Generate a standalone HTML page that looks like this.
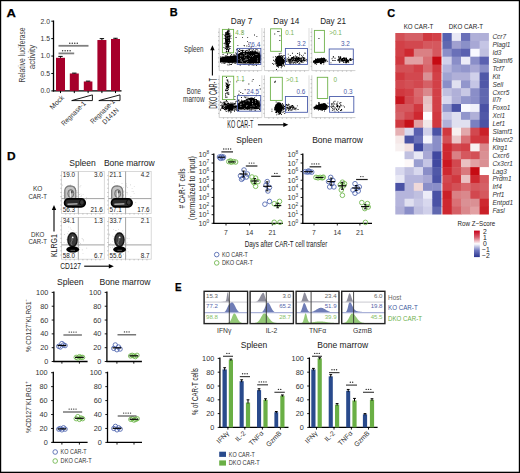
<!DOCTYPE html>
<html><head><meta charset="utf-8"><style>
html,body{margin:0;padding:0;background:#fff;}
svg{display:block;font-family:"Liberation Sans", sans-serif;}
</style></head><body>
<svg width="520" height="473" viewBox="0 0 520 473">
<rect x="0" y="0" width="520" height="473" fill="#fff"/>
<text x="6.60" y="16.50" font-size="11.6" text-anchor="start" fill="#000" font-weight="bold" textLength="9.4" lengthAdjust="spacingAndGlyphs" stroke="#000" stroke-width="0.25">A</text>
<text x="169.80" y="16.30" font-size="11.6" text-anchor="start" fill="#000" font-weight="bold" textLength="7.9" lengthAdjust="spacingAndGlyphs" stroke="#000" stroke-width="0.25">B</text>
<text x="387.20" y="16.70" font-size="11.6" text-anchor="start" fill="#000" font-weight="bold" textLength="7.9" lengthAdjust="spacingAndGlyphs" stroke="#000" stroke-width="0.25">C</text>
<text x="6.90" y="159.80" font-size="11.6" text-anchor="start" fill="#000" font-weight="bold" textLength="8.6" lengthAdjust="spacingAndGlyphs" stroke="#000" stroke-width="0.25">D</text>
<text x="175.00" y="291.00" font-size="11.6" text-anchor="start" fill="#000" font-weight="bold" textLength="6.6" lengthAdjust="spacingAndGlyphs" stroke="#000" stroke-width="0.25">E</text>
<line x1="53.50" y1="20.50" x2="53.50" y2="91.50" stroke="#000" stroke-width="1.3" />
<line x1="52.90" y1="90.90" x2="121.50" y2="90.90" stroke="#000" stroke-width="1.3" />
<line x1="51.30" y1="21.20" x2="53.50" y2="21.20" stroke="#000" stroke-width="1" />
<text x="50.00" y="23.60" font-size="6.8" text-anchor="end" fill="#333" >2.0</text>
<line x1="51.30" y1="38.62" x2="53.50" y2="38.62" stroke="#000" stroke-width="1" />
<text x="50.00" y="41.02" font-size="6.8" text-anchor="end" fill="#333" >1.5</text>
<line x1="51.30" y1="56.05" x2="53.50" y2="56.05" stroke="#000" stroke-width="1" />
<text x="50.00" y="58.45" font-size="6.8" text-anchor="end" fill="#333" >1.0</text>
<line x1="51.30" y1="73.48" x2="53.50" y2="73.48" stroke="#000" stroke-width="1" />
<text x="50.00" y="75.88" font-size="6.8" text-anchor="end" fill="#333" >0.5</text>
<line x1="51.30" y1="90.90" x2="53.50" y2="90.90" stroke="#000" stroke-width="1" />
<text x="50.00" y="93.30" font-size="6.8" text-anchor="end" fill="#333" >0.0</text>
<rect x="56.00" y="57.79" width="9.00" height="33.11" fill="#a6002b" stroke="none" stroke-width="1" />
<line x1="58.30" y1="56.40" x2="62.70" y2="56.40" stroke="#000" stroke-width="1" />
<line x1="60.50" y1="56.40" x2="60.50" y2="57.79" stroke="#000" stroke-width="1" />
<line x1="60.50" y1="90.90" x2="60.50" y2="93.10" stroke="#000" stroke-width="1" />
<rect x="69.80" y="73.48" width="9.00" height="17.42" fill="#a6002b" stroke="none" stroke-width="1" />
<line x1="72.10" y1="73.13" x2="76.50" y2="73.13" stroke="#000" stroke-width="1" />
<line x1="74.30" y1="73.13" x2="74.30" y2="73.48" stroke="#000" stroke-width="1" />
<line x1="74.30" y1="90.90" x2="74.30" y2="93.10" stroke="#000" stroke-width="1" />
<rect x="83.80" y="81.49" width="8.60" height="9.41" fill="#a6002b" stroke="none" stroke-width="1" />
<line x1="85.90" y1="81.14" x2="90.30" y2="81.14" stroke="#000" stroke-width="1" />
<line x1="88.10" y1="81.14" x2="88.10" y2="81.49" stroke="#000" stroke-width="1" />
<line x1="88.10" y1="90.90" x2="88.10" y2="93.10" stroke="#000" stroke-width="1" />
<rect x="97.40" y="40.02" width="9.00" height="50.88" fill="#a6002b" stroke="none" stroke-width="1" />
<line x1="99.70" y1="38.63" x2="104.10" y2="38.63" stroke="#000" stroke-width="1" />
<line x1="101.90" y1="38.63" x2="101.90" y2="40.02" stroke="#000" stroke-width="1" />
<line x1="101.90" y1="90.90" x2="101.90" y2="93.10" stroke="#000" stroke-width="1" />
<rect x="111.00" y="38.97" width="9.00" height="51.93" fill="#a6002b" stroke="none" stroke-width="1" />
<line x1="113.30" y1="38.28" x2="117.70" y2="38.28" stroke="#000" stroke-width="1" />
<line x1="115.50" y1="38.28" x2="115.50" y2="38.97" stroke="#000" stroke-width="1" />
<line x1="115.50" y1="90.90" x2="115.50" y2="93.10" stroke="#000" stroke-width="1" />
<text x="24.60" y="55.00" font-size="8.8" text-anchor="middle" fill="#444" textLength="55" lengthAdjust="spacingAndGlyphs" transform="rotate(-90 24.60 55.00)" >Relative luciferase</text>
<text x="34.90" y="57.00" font-size="8.8" text-anchor="middle" fill="#444" textLength="24.6" lengthAdjust="spacingAndGlyphs" transform="rotate(-90 34.90 57.00)" >activity</text>
<polygon points="71.7,100.6 92.4,94.9 92.4,100.6" fill="#fff" stroke="#000" stroke-width="0.9"/>
<polygon points="98.8,100.6 120,94.9 120,100.6" fill="#fff" stroke="#000" stroke-width="0.9"/>
<text x="64.50" y="98.00" font-size="7" text-anchor="end" fill="#333" textLength="17.0" lengthAdjust="spacingAndGlyphs" transform="rotate(-45 64.50 98.00)" >Mock</text>
<text x="86.30" y="104.00" font-size="7" text-anchor="end" fill="#333" textLength="31.5" lengthAdjust="spacingAndGlyphs" transform="rotate(-45 86.30 104.00)" >Regnase-1</text>
<text x="115.30" y="102.00" font-size="7" text-anchor="end" fill="#333" textLength="31.5" lengthAdjust="spacingAndGlyphs" transform="rotate(-45 115.30 102.00)" >Regnase-1</text>
<text x="119.20" y="110.60" font-size="7" text-anchor="end" fill="#333" textLength="20" lengthAdjust="spacingAndGlyphs" transform="rotate(-45 119.20 110.60)" >D141N</text>
<text x="241.50" y="24.00" font-size="9.6" text-anchor="middle" fill="#222" textLength="21.5" lengthAdjust="spacingAndGlyphs" >Day 7</text>
<text x="286.30" y="24.00" font-size="9.6" text-anchor="middle" fill="#222" textLength="26" lengthAdjust="spacingAndGlyphs" >Day 14</text>
<text x="333.10" y="24.00" font-size="9.6" text-anchor="middle" fill="#222" textLength="25.8" lengthAdjust="spacingAndGlyphs" >Day 21</text>
<text x="193.80" y="52.30" font-size="8.6" text-anchor="middle" fill="#333" textLength="19.5" lengthAdjust="spacingAndGlyphs" >Spleen</text>
<text x="193.80" y="94.00" font-size="8.6" text-anchor="middle" fill="#333" textLength="14" lengthAdjust="spacingAndGlyphs" >Bone</text>
<text x="193.80" y="101.60" font-size="8.6" text-anchor="middle" fill="#333" textLength="21.5" lengthAdjust="spacingAndGlyphs" >marrow</text>
<line x1="212.40" y1="48.50" x2="212.40" y2="75.50" stroke="#000" stroke-width="1.1" />
<polygon points="212.4,45.2 210.2,50.2 214.6,50.2" fill="#000"/>
<text x="216.60" y="93.40" font-size="10.8" text-anchor="middle" fill="#222" textLength="30.5" lengthAdjust="spacingAndGlyphs" transform="rotate(-90 216.60 93.40)" >DKO CAR-T</text>
<text x="240.30" y="128.00" font-size="10.2" text-anchor="middle" fill="#222" textLength="26" lengthAdjust="spacingAndGlyphs" >KO CAR-T</text>
<line x1="257.90" y1="124.80" x2="285.00" y2="124.80" stroke="#000" stroke-width="1.1" />
<polygon points="288.3,124.8 283.3,122.6 283.3,127.0" fill="#000"/>
<line x1="219.20" y1="28.00" x2="219.20" y2="70.60" stroke="#c4c4c4" stroke-width="0.8" />
<line x1="219.20" y1="70.60" x2="261.90" y2="70.60" stroke="#c4c4c4" stroke-width="0.8" />
<line x1="261.90" y1="28.00" x2="261.90" y2="70.60" stroke="#d4d4d4" stroke-width="0.8" />
<line x1="218.00" y1="32.26" x2="219.20" y2="32.26" stroke="#888" stroke-width="0.5" />
<line x1="218.00" y1="36.52" x2="219.20" y2="36.52" stroke="#888" stroke-width="0.5" />
<line x1="218.00" y1="40.78" x2="219.20" y2="40.78" stroke="#888" stroke-width="0.5" />
<line x1="218.00" y1="45.04" x2="219.20" y2="45.04" stroke="#888" stroke-width="0.5" />
<line x1="218.00" y1="49.30" x2="219.20" y2="49.30" stroke="#888" stroke-width="0.5" />
<line x1="218.00" y1="53.56" x2="219.20" y2="53.56" stroke="#888" stroke-width="0.5" />
<line x1="218.00" y1="57.82" x2="219.20" y2="57.82" stroke="#888" stroke-width="0.5" />
<line x1="218.00" y1="62.08" x2="219.20" y2="62.08" stroke="#888" stroke-width="0.5" />
<line x1="218.00" y1="66.34" x2="219.20" y2="66.34" stroke="#888" stroke-width="0.5" />
<line x1="223.47" y1="70.60" x2="223.47" y2="71.80" stroke="#888" stroke-width="0.5" />
<line x1="227.74" y1="70.60" x2="227.74" y2="71.80" stroke="#888" stroke-width="0.5" />
<line x1="232.01" y1="70.60" x2="232.01" y2="71.80" stroke="#888" stroke-width="0.5" />
<line x1="236.28" y1="70.60" x2="236.28" y2="71.80" stroke="#888" stroke-width="0.5" />
<line x1="240.55" y1="70.60" x2="240.55" y2="71.80" stroke="#888" stroke-width="0.5" />
<line x1="244.82" y1="70.60" x2="244.82" y2="71.80" stroke="#888" stroke-width="0.5" />
<line x1="249.09" y1="70.60" x2="249.09" y2="71.80" stroke="#888" stroke-width="0.5" />
<line x1="253.36" y1="70.60" x2="253.36" y2="71.80" stroke="#888" stroke-width="0.5" />
<line x1="257.63" y1="70.60" x2="257.63" y2="71.80" stroke="#888" stroke-width="0.5" />
<line x1="219.20" y1="75.30" x2="219.20" y2="117.60" stroke="#c4c4c4" stroke-width="0.8" />
<line x1="219.20" y1="117.60" x2="261.90" y2="117.60" stroke="#c4c4c4" stroke-width="0.8" />
<line x1="261.90" y1="75.30" x2="261.90" y2="117.60" stroke="#d4d4d4" stroke-width="0.8" />
<line x1="218.00" y1="79.53" x2="219.20" y2="79.53" stroke="#888" stroke-width="0.5" />
<line x1="218.00" y1="83.76" x2="219.20" y2="83.76" stroke="#888" stroke-width="0.5" />
<line x1="218.00" y1="87.99" x2="219.20" y2="87.99" stroke="#888" stroke-width="0.5" />
<line x1="218.00" y1="92.22" x2="219.20" y2="92.22" stroke="#888" stroke-width="0.5" />
<line x1="218.00" y1="96.45" x2="219.20" y2="96.45" stroke="#888" stroke-width="0.5" />
<line x1="218.00" y1="100.68" x2="219.20" y2="100.68" stroke="#888" stroke-width="0.5" />
<line x1="218.00" y1="104.91" x2="219.20" y2="104.91" stroke="#888" stroke-width="0.5" />
<line x1="218.00" y1="109.14" x2="219.20" y2="109.14" stroke="#888" stroke-width="0.5" />
<line x1="218.00" y1="113.37" x2="219.20" y2="113.37" stroke="#888" stroke-width="0.5" />
<line x1="223.47" y1="117.60" x2="223.47" y2="118.80" stroke="#888" stroke-width="0.5" />
<line x1="227.74" y1="117.60" x2="227.74" y2="118.80" stroke="#888" stroke-width="0.5" />
<line x1="232.01" y1="117.60" x2="232.01" y2="118.80" stroke="#888" stroke-width="0.5" />
<line x1="236.28" y1="117.60" x2="236.28" y2="118.80" stroke="#888" stroke-width="0.5" />
<line x1="240.55" y1="117.60" x2="240.55" y2="118.80" stroke="#888" stroke-width="0.5" />
<line x1="244.82" y1="117.60" x2="244.82" y2="118.80" stroke="#888" stroke-width="0.5" />
<line x1="249.09" y1="117.60" x2="249.09" y2="118.80" stroke="#888" stroke-width="0.5" />
<line x1="253.36" y1="117.60" x2="253.36" y2="118.80" stroke="#888" stroke-width="0.5" />
<line x1="257.63" y1="117.60" x2="257.63" y2="118.80" stroke="#888" stroke-width="0.5" />
<line x1="264.40" y1="28.00" x2="264.40" y2="70.60" stroke="#c4c4c4" stroke-width="0.8" />
<line x1="264.40" y1="70.60" x2="309.00" y2="70.60" stroke="#c4c4c4" stroke-width="0.8" />
<line x1="309.00" y1="28.00" x2="309.00" y2="70.60" stroke="#d4d4d4" stroke-width="0.8" />
<line x1="263.20" y1="32.26" x2="264.40" y2="32.26" stroke="#888" stroke-width="0.5" />
<line x1="263.20" y1="36.52" x2="264.40" y2="36.52" stroke="#888" stroke-width="0.5" />
<line x1="263.20" y1="40.78" x2="264.40" y2="40.78" stroke="#888" stroke-width="0.5" />
<line x1="263.20" y1="45.04" x2="264.40" y2="45.04" stroke="#888" stroke-width="0.5" />
<line x1="263.20" y1="49.30" x2="264.40" y2="49.30" stroke="#888" stroke-width="0.5" />
<line x1="263.20" y1="53.56" x2="264.40" y2="53.56" stroke="#888" stroke-width="0.5" />
<line x1="263.20" y1="57.82" x2="264.40" y2="57.82" stroke="#888" stroke-width="0.5" />
<line x1="263.20" y1="62.08" x2="264.40" y2="62.08" stroke="#888" stroke-width="0.5" />
<line x1="263.20" y1="66.34" x2="264.40" y2="66.34" stroke="#888" stroke-width="0.5" />
<line x1="268.86" y1="70.60" x2="268.86" y2="71.80" stroke="#888" stroke-width="0.5" />
<line x1="273.32" y1="70.60" x2="273.32" y2="71.80" stroke="#888" stroke-width="0.5" />
<line x1="277.78" y1="70.60" x2="277.78" y2="71.80" stroke="#888" stroke-width="0.5" />
<line x1="282.24" y1="70.60" x2="282.24" y2="71.80" stroke="#888" stroke-width="0.5" />
<line x1="286.70" y1="70.60" x2="286.70" y2="71.80" stroke="#888" stroke-width="0.5" />
<line x1="291.16" y1="70.60" x2="291.16" y2="71.80" stroke="#888" stroke-width="0.5" />
<line x1="295.62" y1="70.60" x2="295.62" y2="71.80" stroke="#888" stroke-width="0.5" />
<line x1="300.08" y1="70.60" x2="300.08" y2="71.80" stroke="#888" stroke-width="0.5" />
<line x1="304.54" y1="70.60" x2="304.54" y2="71.80" stroke="#888" stroke-width="0.5" />
<line x1="264.40" y1="75.30" x2="264.40" y2="117.60" stroke="#c4c4c4" stroke-width="0.8" />
<line x1="264.40" y1="117.60" x2="309.00" y2="117.60" stroke="#c4c4c4" stroke-width="0.8" />
<line x1="309.00" y1="75.30" x2="309.00" y2="117.60" stroke="#d4d4d4" stroke-width="0.8" />
<line x1="263.20" y1="79.53" x2="264.40" y2="79.53" stroke="#888" stroke-width="0.5" />
<line x1="263.20" y1="83.76" x2="264.40" y2="83.76" stroke="#888" stroke-width="0.5" />
<line x1="263.20" y1="87.99" x2="264.40" y2="87.99" stroke="#888" stroke-width="0.5" />
<line x1="263.20" y1="92.22" x2="264.40" y2="92.22" stroke="#888" stroke-width="0.5" />
<line x1="263.20" y1="96.45" x2="264.40" y2="96.45" stroke="#888" stroke-width="0.5" />
<line x1="263.20" y1="100.68" x2="264.40" y2="100.68" stroke="#888" stroke-width="0.5" />
<line x1="263.20" y1="104.91" x2="264.40" y2="104.91" stroke="#888" stroke-width="0.5" />
<line x1="263.20" y1="109.14" x2="264.40" y2="109.14" stroke="#888" stroke-width="0.5" />
<line x1="263.20" y1="113.37" x2="264.40" y2="113.37" stroke="#888" stroke-width="0.5" />
<line x1="268.86" y1="117.60" x2="268.86" y2="118.80" stroke="#888" stroke-width="0.5" />
<line x1="273.32" y1="117.60" x2="273.32" y2="118.80" stroke="#888" stroke-width="0.5" />
<line x1="277.78" y1="117.60" x2="277.78" y2="118.80" stroke="#888" stroke-width="0.5" />
<line x1="282.24" y1="117.60" x2="282.24" y2="118.80" stroke="#888" stroke-width="0.5" />
<line x1="286.70" y1="117.60" x2="286.70" y2="118.80" stroke="#888" stroke-width="0.5" />
<line x1="291.16" y1="117.60" x2="291.16" y2="118.80" stroke="#888" stroke-width="0.5" />
<line x1="295.62" y1="117.60" x2="295.62" y2="118.80" stroke="#888" stroke-width="0.5" />
<line x1="300.08" y1="117.60" x2="300.08" y2="118.80" stroke="#888" stroke-width="0.5" />
<line x1="304.54" y1="117.60" x2="304.54" y2="118.80" stroke="#888" stroke-width="0.5" />
<line x1="311.80" y1="28.00" x2="311.80" y2="70.60" stroke="#c4c4c4" stroke-width="0.8" />
<line x1="311.80" y1="70.60" x2="355.40" y2="70.60" stroke="#c4c4c4" stroke-width="0.8" />
<line x1="310.60" y1="32.26" x2="311.80" y2="32.26" stroke="#888" stroke-width="0.5" />
<line x1="310.60" y1="36.52" x2="311.80" y2="36.52" stroke="#888" stroke-width="0.5" />
<line x1="310.60" y1="40.78" x2="311.80" y2="40.78" stroke="#888" stroke-width="0.5" />
<line x1="310.60" y1="45.04" x2="311.80" y2="45.04" stroke="#888" stroke-width="0.5" />
<line x1="310.60" y1="49.30" x2="311.80" y2="49.30" stroke="#888" stroke-width="0.5" />
<line x1="310.60" y1="53.56" x2="311.80" y2="53.56" stroke="#888" stroke-width="0.5" />
<line x1="310.60" y1="57.82" x2="311.80" y2="57.82" stroke="#888" stroke-width="0.5" />
<line x1="310.60" y1="62.08" x2="311.80" y2="62.08" stroke="#888" stroke-width="0.5" />
<line x1="310.60" y1="66.34" x2="311.80" y2="66.34" stroke="#888" stroke-width="0.5" />
<line x1="316.16" y1="70.60" x2="316.16" y2="71.80" stroke="#888" stroke-width="0.5" />
<line x1="320.52" y1="70.60" x2="320.52" y2="71.80" stroke="#888" stroke-width="0.5" />
<line x1="324.88" y1="70.60" x2="324.88" y2="71.80" stroke="#888" stroke-width="0.5" />
<line x1="329.24" y1="70.60" x2="329.24" y2="71.80" stroke="#888" stroke-width="0.5" />
<line x1="333.60" y1="70.60" x2="333.60" y2="71.80" stroke="#888" stroke-width="0.5" />
<line x1="337.96" y1="70.60" x2="337.96" y2="71.80" stroke="#888" stroke-width="0.5" />
<line x1="342.32" y1="70.60" x2="342.32" y2="71.80" stroke="#888" stroke-width="0.5" />
<line x1="346.68" y1="70.60" x2="346.68" y2="71.80" stroke="#888" stroke-width="0.5" />
<line x1="351.04" y1="70.60" x2="351.04" y2="71.80" stroke="#888" stroke-width="0.5" />
<line x1="311.80" y1="75.30" x2="311.80" y2="117.60" stroke="#c4c4c4" stroke-width="0.8" />
<line x1="311.80" y1="117.60" x2="355.40" y2="117.60" stroke="#c4c4c4" stroke-width="0.8" />
<line x1="310.60" y1="79.53" x2="311.80" y2="79.53" stroke="#888" stroke-width="0.5" />
<line x1="310.60" y1="83.76" x2="311.80" y2="83.76" stroke="#888" stroke-width="0.5" />
<line x1="310.60" y1="87.99" x2="311.80" y2="87.99" stroke="#888" stroke-width="0.5" />
<line x1="310.60" y1="92.22" x2="311.80" y2="92.22" stroke="#888" stroke-width="0.5" />
<line x1="310.60" y1="96.45" x2="311.80" y2="96.45" stroke="#888" stroke-width="0.5" />
<line x1="310.60" y1="100.68" x2="311.80" y2="100.68" stroke="#888" stroke-width="0.5" />
<line x1="310.60" y1="104.91" x2="311.80" y2="104.91" stroke="#888" stroke-width="0.5" />
<line x1="310.60" y1="109.14" x2="311.80" y2="109.14" stroke="#888" stroke-width="0.5" />
<line x1="310.60" y1="113.37" x2="311.80" y2="113.37" stroke="#888" stroke-width="0.5" />
<line x1="316.16" y1="117.60" x2="316.16" y2="118.80" stroke="#888" stroke-width="0.5" />
<line x1="320.52" y1="117.60" x2="320.52" y2="118.80" stroke="#888" stroke-width="0.5" />
<line x1="324.88" y1="117.60" x2="324.88" y2="118.80" stroke="#888" stroke-width="0.5" />
<line x1="329.24" y1="117.60" x2="329.24" y2="118.80" stroke="#888" stroke-width="0.5" />
<line x1="333.60" y1="117.60" x2="333.60" y2="118.80" stroke="#888" stroke-width="0.5" />
<line x1="337.96" y1="117.60" x2="337.96" y2="118.80" stroke="#888" stroke-width="0.5" />
<line x1="342.32" y1="117.60" x2="342.32" y2="118.80" stroke="#888" stroke-width="0.5" />
<line x1="346.68" y1="117.60" x2="346.68" y2="118.80" stroke="#888" stroke-width="0.5" />
<line x1="351.04" y1="117.60" x2="351.04" y2="118.80" stroke="#888" stroke-width="0.5" />
<path d="M237.5 54 Q242 51.5 247 52 Q253 50.5 257 52 Q260.3 53 260.3 56 L260.3 63 Q250 64 237.5 63.3 Z" fill="#000"/>
<path d="M220 57.5 Q229 55.8 237.5 55.5 L237.5 62.5 Q228 63 220 62 Z" fill="#000"/>
<path d="M227.3 30.5 Q229.6 33 229.7 38 Q229.6 43 228.6 47 L226.2 47 Q225.0 43 224.9 38 Q225.0 33 227.3 30.5 Z" fill="#000"/>
<path d="M226.7 60.3h0.9v0.9h-0.9zM226.9 58.7h0.9v0.9h-0.9zM223.3 58.9h0.9v0.9h-0.9zM233.6 60.1h0.9v0.9h-0.9zM233.2 59.8h0.9v0.9h-0.9zM230.0 59.7h0.9v0.9h-0.9zM230.5 60.3h0.9v0.9h-0.9zM223.6 58.4h0.9v0.9h-0.9zM229.5 59.2h0.9v0.9h-0.9zM230.6 58.0h0.9v0.9h-0.9zM229.5 60.1h0.9v0.9h-0.9zM224.7 62.7h0.9v0.9h-0.9zM230.8 61.7h0.9v0.9h-0.9zM224.9 57.8h0.9v0.9h-0.9zM226.3 59.1h0.9v0.9h-0.9zM231.2 59.8h0.9v0.9h-0.9zM225.8 57.4h0.9v0.9h-0.9zM225.4 61.7h0.9v0.9h-0.9zM224.0 59.8h0.9v0.9h-0.9zM230.1 56.3h0.9v0.9h-0.9zM228.2 61.9h0.9v0.9h-0.9zM227.5 57.7h0.9v0.9h-0.9zM230.5 59.2h0.9v0.9h-0.9zM220.7 61.0h0.9v0.9h-0.9zM231.3 61.2h0.9v0.9h-0.9zM235.2 60.0h0.9v0.9h-0.9zM228.6 56.7h0.9v0.9h-0.9zM231.1 58.1h0.9v0.9h-0.9zM225.7 56.8h0.9v0.9h-0.9zM223.2 58.2h0.9v0.9h-0.9zM234.4 55.2h0.9v0.9h-0.9zM220.7 59.8h0.9v0.9h-0.9zM235.2 60.5h0.9v0.9h-0.9zM229.8 57.8h0.9v0.9h-0.9zM222.4 61.3h0.9v0.9h-0.9zM233.5 59.6h0.9v0.9h-0.9zM229.2 60.2h0.9v0.9h-0.9zM236.0 60.5h0.9v0.9h-0.9zM230.6 60.4h0.9v0.9h-0.9zM220.2 61.9h0.9v0.9h-0.9zM232.8 60.4h0.9v0.9h-0.9zM232.2 55.7h0.9v0.9h-0.9zM227.1 61.3h0.9v0.9h-0.9zM221.4 62.5h0.9v0.9h-0.9zM230.8 59.0h0.9v0.9h-0.9zM229.6 60.6h0.9v0.9h-0.9zM228.6 61.6h0.9v0.9h-0.9zM224.7 58.5h0.9v0.9h-0.9zM233.2 59.4h0.9v0.9h-0.9zM223.6 61.2h0.9v0.9h-0.9zM235.3 58.4h0.9v0.9h-0.9zM221.1 59.0h0.9v0.9h-0.9zM227.3 58.7h0.9v0.9h-0.9zM235.0 57.2h0.9v0.9h-0.9zM234.3 56.8h0.9v0.9h-0.9zM224.1 60.6h0.9v0.9h-0.9zM233.6 61.0h0.9v0.9h-0.9zM229.7 59.6h0.9v0.9h-0.9zM228.8 60.5h0.9v0.9h-0.9zM227.1 59.9h0.9v0.9h-0.9zM230.9 59.3h0.9v0.9h-0.9zM231.8 60.4h0.9v0.9h-0.9zM238.1 59.9h0.9v0.9h-0.9zM225.9 58.6h0.9v0.9h-0.9zM227.9 61.1h0.9v0.9h-0.9zM226.3 60.1h0.9v0.9h-0.9zM237.2 54.2h0.9v0.9h-0.9zM222.4 59.8h0.9v0.9h-0.9zM230.0 59.8h0.9v0.9h-0.9zM225.8 60.6h0.9v0.9h-0.9zM229.4 58.3h0.9v0.9h-0.9zM240.2 60.0h0.9v0.9h-0.9zM225.2 59.1h0.9v0.9h-0.9zM226.9 59.2h0.9v0.9h-0.9zM233.0 57.0h0.9v0.9h-0.9zM227.7 61.2h0.9v0.9h-0.9zM232.3 62.3h0.9v0.9h-0.9zM226.3 60.5h0.9v0.9h-0.9zM233.5 53.9h0.9v0.9h-0.9zM233.4 56.4h0.9v0.9h-0.9zM231.4 56.3h0.9v0.9h-0.9zM228.9 61.7h0.9v0.9h-0.9zM227.3 59.7h0.9v0.9h-0.9zM232.0 59.6h0.9v0.9h-0.9zM227.6 62.4h0.9v0.9h-0.9zM233.2 58.7h0.9v0.9h-0.9zM241.7 57.0h0.9v0.9h-0.9zM232.6 58.8h0.9v0.9h-0.9zM228.7 60.7h0.9v0.9h-0.9zM229.1 60.6h0.9v0.9h-0.9zM220.4 56.3h0.9v0.9h-0.9zM231.1 57.4h0.9v0.9h-0.9zM222.9 56.4h0.9v0.9h-0.9zM234.3 60.8h0.9v0.9h-0.9zM235.4 57.4h0.9v0.9h-0.9zM228.0 57.0h0.9v0.9h-0.9zM231.8 62.5h0.9v0.9h-0.9zM223.5 62.4h0.9v0.9h-0.9zM232.9 58.9h0.9v0.9h-0.9zM227.5 58.1h0.9v0.9h-0.9zM230.0 60.1h0.9v0.9h-0.9zM235.5 57.3h0.9v0.9h-0.9zM233.7 62.3h0.9v0.9h-0.9zM235.3 58.9h0.9v0.9h-0.9zM224.3 61.3h0.9v0.9h-0.9zM228.6 59.5h0.9v0.9h-0.9zM235.1 58.8h0.9v0.9h-0.9zM229.6 58.1h0.9v0.9h-0.9zM228.0 61.0h0.9v0.9h-0.9zM228.4 62.0h0.9v0.9h-0.9zM227.7 61.4h0.9v0.9h-0.9zM235.5 62.5h0.9v0.9h-0.9zM224.6 61.1h0.9v0.9h-0.9zM221.8 59.3h0.9v0.9h-0.9zM227.0 59.2h0.9v0.9h-0.9zM225.0 59.8h0.9v0.9h-0.9zM237.0 59.4h0.9v0.9h-0.9zM230.7 61.3h0.9v0.9h-0.9zM227.0 56.8h0.9v0.9h-0.9zM225.2 61.4h0.9v0.9h-0.9zM233.0 60.9h0.9v0.9h-0.9zM228.0 60.9h0.9v0.9h-0.9zM228.8 56.9h0.9v0.9h-0.9zM220.2 58.0h0.9v0.9h-0.9zM232.6 58.2h0.9v0.9h-0.9zM223.5 57.8h0.9v0.9h-0.9zM220.3 59.1h0.9v0.9h-0.9zM222.1 60.0h0.9v0.9h-0.9zM224.8 55.4h0.9v0.9h-0.9zM231.6 58.7h0.9v0.9h-0.9zM229.5 58.4h0.9v0.9h-0.9zM231.9 60.8h0.9v0.9h-0.9zM231.3 60.0h0.9v0.9h-0.9zM234.7 60.6h0.9v0.9h-0.9zM230.3 55.1h0.9v0.9h-0.9zM232.5 61.9h0.9v0.9h-0.9zM226.5 58.4h0.9v0.9h-0.9zM237.7 55.8h0.9v0.9h-0.9zM230.3 64.1h0.9v0.9h-0.9zM223.4 60.7h0.9v0.9h-0.9zM237.4 59.1h0.9v0.9h-0.9zM230.8 61.1h0.9v0.9h-0.9zM223.5 59.1h0.9v0.9h-0.9zM229.5 61.0h0.9v0.9h-0.9zM227.8 58.9h0.9v0.9h-0.9zM222.9 58.6h0.9v0.9h-0.9zM232.5 59.5h0.9v0.9h-0.9zM223.7 57.6h0.9v0.9h-0.9zM241.3 61.6h0.9v0.9h-0.9zM231.2 54.1h0.9v0.9h-0.9zM231.1 60.3h0.9v0.9h-0.9zM236.4 60.2h0.9v0.9h-0.9zM227.7 60.3h0.9v0.9h-0.9zM229.6 57.9h0.9v0.9h-0.9zM234.6 62.9h0.9v0.9h-0.9zM221.0 58.0h0.9v0.9h-0.9zM229.5 59.7h0.9v0.9h-0.9zM226.0 57.4h0.9v0.9h-0.9zM238.6 61.4h0.9v0.9h-0.9zM222.0 56.6h0.9v0.9h-0.9zM236.5 61.3h0.9v0.9h-0.9zM237.1 60.9h0.9v0.9h-0.9zM223.6 59.8h0.9v0.9h-0.9zM227.7 60.3h0.9v0.9h-0.9zM224.4 59.1h0.9v0.9h-0.9zM230.3 60.1h0.9v0.9h-0.9zM231.2 59.7h0.9v0.9h-0.9zM226.4 60.9h0.9v0.9h-0.9zM228.2 57.6h0.9v0.9h-0.9zM224.9 59.3h0.9v0.9h-0.9zM227.5 59.6h0.9v0.9h-0.9zM228.0 59.7h0.9v0.9h-0.9zM227.3 56.8h0.9v0.9h-0.9zM230.1 61.4h0.9v0.9h-0.9zM230.2 58.9h0.9v0.9h-0.9zM230.2 57.4h0.9v0.9h-0.9zM223.3 60.8h0.9v0.9h-0.9zM222.6 54.0h0.9v0.9h-0.9zM222.8 62.5h0.9v0.9h-0.9zM226.1 56.6h0.9v0.9h-0.9zM224.2 60.3h0.9v0.9h-0.9zM230.5 59.7h0.9v0.9h-0.9zM235.4 60.7h0.9v0.9h-0.9zM227.9 60.5h0.9v0.9h-0.9zM236.3 61.2h0.9v0.9h-0.9zM233.1 57.1h0.9v0.9h-0.9zM227.3 60.8h0.9v0.9h-0.9zM226.5 61.4h0.9v0.9h-0.9zM231.0 61.1h0.9v0.9h-0.9zM226.9 64.4h0.9v0.9h-0.9zM234.2 58.9h0.9v0.9h-0.9zM228.5 64.5h0.9v0.9h-0.9zM226.3 61.0h0.9v0.9h-0.9zM232.9 59.3h0.9v0.9h-0.9zM222.2 59.7h0.9v0.9h-0.9zM229.8 61.6h0.9v0.9h-0.9zM231.9 59.3h0.9v0.9h-0.9zM232.3 60.4h0.9v0.9h-0.9zM229.0 59.4h0.9v0.9h-0.9zM226.8 60.7h0.9v0.9h-0.9zM222.7 58.0h0.9v0.9h-0.9zM228.0 56.4h0.9v0.9h-0.9zM225.8 55.3h0.9v0.9h-0.9zM224.6 60.4h0.9v0.9h-0.9zM230.8 59.2h0.9v0.9h-0.9zM226.8 56.5h0.9v0.9h-0.9zM237.1 60.3h0.9v0.9h-0.9zM233.5 57.5h0.9v0.9h-0.9zM227.1 55.7h0.9v0.9h-0.9zM231.9 61.2h0.9v0.9h-0.9zM231.2 55.8h0.9v0.9h-0.9zM224.9 56.5h0.9v0.9h-0.9zM228.2 59.8h0.9v0.9h-0.9zM231.2 60.7h0.9v0.9h-0.9zM235.5 61.6h0.9v0.9h-0.9zM221.4 58.3h0.9v0.9h-0.9zM222.7 57.1h0.9v0.9h-0.9zM227.6 59.3h0.9v0.9h-0.9zM230.5 56.1h0.9v0.9h-0.9zM221.8 59.3h0.9v0.9h-0.9zM227.0 58.7h0.9v0.9h-0.9zM227.7 57.8h0.9v0.9h-0.9zM231.5 60.0h0.9v0.9h-0.9zM227.6 58.0h0.9v0.9h-0.9zM227.1 53.9h0.9v0.9h-0.9zM223.1 59.4h0.9v0.9h-0.9zM220.5 59.7h0.9v0.9h-0.9zM228.7 56.5h0.9v0.9h-0.9zM226.7 58.7h0.9v0.9h-0.9zM230.3 60.5h0.9v0.9h-0.9zM227.8 57.6h0.9v0.9h-0.9zM227.3 59.2h0.9v0.9h-0.9zM231.7 59.9h0.9v0.9h-0.9zM224.4 56.6h0.9v0.9h-0.9zM226.1 57.8h0.9v0.9h-0.9zM222.4 59.1h0.9v0.9h-0.9zM225.5 59.5h0.9v0.9h-0.9zM230.6 58.5h0.9v0.9h-0.9zM239.6 58.7h0.9v0.9h-0.9zM233.5 59.5h0.9v0.9h-0.9zM233.6 54.5h0.9v0.9h-0.9zM224.2 59.8h0.9v0.9h-0.9zM231.0 64.0h0.9v0.9h-0.9zM229.6 61.9h0.9v0.9h-0.9zM231.8 61.2h0.9v0.9h-0.9zM230.6 59.0h0.9v0.9h-0.9zM230.5 57.1h0.9v0.9h-0.9zM233.9 57.3h0.9v0.9h-0.9zM229.2 63.5h0.9v0.9h-0.9zM226.9 59.3h0.9v0.9h-0.9zM233.8 59.4h0.9v0.9h-0.9zM224.0 59.8h0.9v0.9h-0.9zM230.9 60.7h0.9v0.9h-0.9zM224.1 62.8h0.9v0.9h-0.9zM236.3 59.3h0.9v0.9h-0.9zM229.3 58.4h0.9v0.9h-0.9zM235.1 57.9h0.9v0.9h-0.9zM231.4 58.3h0.9v0.9h-0.9zM224.5 60.7h0.9v0.9h-0.9zM234.7 59.3h0.9v0.9h-0.9zM244.3 59.1h0.9v0.9h-0.9zM248.7 57.5h0.9v0.9h-0.9zM259.7 60.1h0.9v0.9h-0.9zM245.4 63.8h0.9v0.9h-0.9zM249.0 59.0h0.9v0.9h-0.9zM244.5 56.4h0.9v0.9h-0.9zM236.8 62.2h0.9v0.9h-0.9zM258.6 52.6h0.9v0.9h-0.9zM238.5 51.3h0.9v0.9h-0.9zM257.2 55.0h0.9v0.9h-0.9zM248.6 55.5h0.9v0.9h-0.9zM248.2 53.0h0.9v0.9h-0.9zM249.2 51.9h0.9v0.9h-0.9zM248.5 57.5h0.9v0.9h-0.9zM252.3 55.8h0.9v0.9h-0.9zM242.7 57.0h0.9v0.9h-0.9zM245.6 61.5h0.9v0.9h-0.9zM254.4 56.1h0.9v0.9h-0.9zM245.7 54.3h0.9v0.9h-0.9zM242.4 55.4h0.9v0.9h-0.9zM251.1 58.1h0.9v0.9h-0.9zM253.0 63.2h0.9v0.9h-0.9zM244.1 56.5h0.9v0.9h-0.9zM245.3 57.0h0.9v0.9h-0.9zM250.1 57.8h0.9v0.9h-0.9zM247.3 57.7h0.9v0.9h-0.9zM249.4 59.0h0.9v0.9h-0.9zM235.8 53.7h0.9v0.9h-0.9zM249.0 53.2h0.9v0.9h-0.9zM241.7 58.5h0.9v0.9h-0.9zM244.5 58.5h0.9v0.9h-0.9zM254.2 57.5h0.9v0.9h-0.9zM252.6 56.2h0.9v0.9h-0.9zM239.1 56.4h0.9v0.9h-0.9zM252.2 54.8h0.9v0.9h-0.9zM248.3 58.9h0.9v0.9h-0.9zM242.9 58.5h0.9v0.9h-0.9zM250.0 56.0h0.9v0.9h-0.9zM259.8 57.5h0.9v0.9h-0.9zM255.3 54.3h0.9v0.9h-0.9zM248.9 56.5h0.9v0.9h-0.9zM236.6 61.1h0.9v0.9h-0.9zM255.3 50.9h0.9v0.9h-0.9zM254.2 56.1h0.9v0.9h-0.9zM252.1 57.7h0.9v0.9h-0.9zM238.5 55.8h0.9v0.9h-0.9zM259.4 54.7h0.9v0.9h-0.9zM241.8 52.1h0.9v0.9h-0.9zM240.5 57.6h0.9v0.9h-0.9zM250.7 63.6h0.9v0.9h-0.9zM245.4 54.3h0.9v0.9h-0.9zM252.7 58.3h0.9v0.9h-0.9zM241.9 52.8h0.9v0.9h-0.9zM251.0 57.3h0.9v0.9h-0.9zM239.9 55.9h0.9v0.9h-0.9zM245.2 58.0h0.9v0.9h-0.9zM248.2 56.2h0.9v0.9h-0.9zM246.5 59.9h0.9v0.9h-0.9zM258.7 55.3h0.9v0.9h-0.9zM254.9 54.1h0.9v0.9h-0.9zM249.5 58.9h0.9v0.9h-0.9zM259.6 55.3h0.9v0.9h-0.9zM248.5 57.1h0.9v0.9h-0.9zM238.5 56.6h0.9v0.9h-0.9zM244.3 57.7h0.9v0.9h-0.9zM241.1 50.2h0.9v0.9h-0.9zM249.3 57.3h0.9v0.9h-0.9zM245.2 59.3h0.9v0.9h-0.9zM247.1 54.6h0.9v0.9h-0.9zM252.3 51.5h0.9v0.9h-0.9zM244.3 56.4h0.9v0.9h-0.9zM254.9 56.0h0.9v0.9h-0.9zM251.2 54.4h0.9v0.9h-0.9zM251.1 61.8h0.9v0.9h-0.9zM244.2 64.1h0.9v0.9h-0.9zM244.5 56.6h0.9v0.9h-0.9zM250.2 59.8h0.9v0.9h-0.9zM240.3 49.8h0.9v0.9h-0.9zM253.2 59.0h0.9v0.9h-0.9zM253.4 64.9h0.9v0.9h-0.9zM250.4 57.3h0.9v0.9h-0.9zM255.5 57.7h0.9v0.9h-0.9zM246.4 45.5h0.9v0.9h-0.9zM254.7 55.3h0.9v0.9h-0.9zM255.5 63.4h0.9v0.9h-0.9zM249.0 55.7h0.9v0.9h-0.9zM245.5 53.8h0.9v0.9h-0.9zM244.6 58.5h0.9v0.9h-0.9zM249.3 56.7h0.9v0.9h-0.9zM247.8 59.4h0.9v0.9h-0.9zM252.5 56.0h0.9v0.9h-0.9zM253.7 56.0h0.9v0.9h-0.9zM240.9 61.2h0.9v0.9h-0.9zM252.3 53.4h0.9v0.9h-0.9zM256.6 57.6h0.9v0.9h-0.9zM238.0 61.7h0.9v0.9h-0.9zM251.3 59.4h0.9v0.9h-0.9zM250.4 56.0h0.9v0.9h-0.9zM238.2 59.6h0.9v0.9h-0.9zM249.2 55.6h0.9v0.9h-0.9zM251.5 56.7h0.9v0.9h-0.9zM253.7 55.3h0.9v0.9h-0.9zM248.7 49.7h0.9v0.9h-0.9zM246.0 58.7h0.9v0.9h-0.9zM258.4 55.3h0.9v0.9h-0.9zM248.2 61.6h0.9v0.9h-0.9zM246.7 58.8h0.9v0.9h-0.9zM257.6 54.2h0.9v0.9h-0.9zM250.5 56.3h0.9v0.9h-0.9zM249.8 60.1h0.9v0.9h-0.9zM245.0 58.1h0.9v0.9h-0.9zM241.6 58.1h0.9v0.9h-0.9zM253.0 55.6h0.9v0.9h-0.9zM252.7 51.5h0.9v0.9h-0.9zM254.3 51.6h0.9v0.9h-0.9zM244.1 54.7h0.9v0.9h-0.9zM246.2 59.2h0.9v0.9h-0.9zM249.6 55.2h0.9v0.9h-0.9zM252.8 61.6h0.9v0.9h-0.9zM249.0 57.7h0.9v0.9h-0.9zM257.7 57.4h0.9v0.9h-0.9zM240.0 64.5h0.9v0.9h-0.9zM248.7 57.8h0.9v0.9h-0.9zM255.8 58.6h0.9v0.9h-0.9zM247.1 53.1h0.9v0.9h-0.9zM249.7 59.8h0.9v0.9h-0.9zM241.4 53.2h0.9v0.9h-0.9zM248.8 50.3h0.9v0.9h-0.9zM247.2 55.1h0.9v0.9h-0.9zM252.2 54.3h0.9v0.9h-0.9zM242.8 55.2h0.9v0.9h-0.9zM248.7 54.4h0.9v0.9h-0.9zM249.1 58.9h0.9v0.9h-0.9zM257.3 62.0h0.9v0.9h-0.9zM243.5 55.2h0.9v0.9h-0.9zM231.6 62.6h0.9v0.9h-0.9zM243.9 56.4h0.9v0.9h-0.9zM252.7 52.2h0.9v0.9h-0.9zM252.2 56.4h0.9v0.9h-0.9zM236.2 57.4h0.9v0.9h-0.9zM257.4 50.5h0.9v0.9h-0.9zM254.7 57.2h0.9v0.9h-0.9zM252.3 57.9h0.9v0.9h-0.9zM258.1 55.8h0.9v0.9h-0.9zM255.1 55.2h0.9v0.9h-0.9zM254.1 53.9h0.9v0.9h-0.9zM248.2 62.0h0.9v0.9h-0.9zM252.1 56.0h0.9v0.9h-0.9zM241.0 54.0h0.9v0.9h-0.9zM250.4 59.5h0.9v0.9h-0.9zM252.0 58.2h0.9v0.9h-0.9zM248.7 60.8h0.9v0.9h-0.9zM246.3 54.7h0.9v0.9h-0.9zM255.2 56.7h0.9v0.9h-0.9zM247.1 54.7h0.9v0.9h-0.9zM247.2 58.5h0.9v0.9h-0.9zM251.5 52.6h0.9v0.9h-0.9zM252.0 57.1h0.9v0.9h-0.9zM242.0 59.0h0.9v0.9h-0.9zM247.0 55.4h0.9v0.9h-0.9zM254.6 60.7h0.9v0.9h-0.9zM244.2 57.9h0.9v0.9h-0.9zM242.9 63.9h0.9v0.9h-0.9zM245.5 60.3h0.9v0.9h-0.9zM244.5 59.1h0.9v0.9h-0.9zM246.0 58.1h0.9v0.9h-0.9zM248.3 54.4h0.9v0.9h-0.9zM237.5 59.2h0.9v0.9h-0.9zM236.9 60.2h0.9v0.9h-0.9zM245.0 57.0h0.9v0.9h-0.9zM257.8 56.9h0.9v0.9h-0.9zM239.3 51.1h0.9v0.9h-0.9zM257.3 58.9h0.9v0.9h-0.9zM243.3 59.3h0.9v0.9h-0.9zM252.5 58.6h0.9v0.9h-0.9zM233.2 55.5h0.9v0.9h-0.9zM255.3 58.8h0.9v0.9h-0.9zM255.2 48.6h0.9v0.9h-0.9zM250.2 58.1h0.9v0.9h-0.9zM246.7 56.6h0.9v0.9h-0.9zM255.2 55.1h0.9v0.9h-0.9zM257.0 54.0h0.9v0.9h-0.9zM250.9 54.8h0.9v0.9h-0.9zM250.1 54.3h0.9v0.9h-0.9zM237.8 60.0h0.9v0.9h-0.9zM251.1 54.7h0.9v0.9h-0.9zM250.4 59.7h0.9v0.9h-0.9zM242.2 56.1h0.9v0.9h-0.9zM252.8 58.2h0.9v0.9h-0.9zM246.7 49.8h0.9v0.9h-0.9zM257.7 57.6h0.9v0.9h-0.9zM249.1 55.6h0.9v0.9h-0.9zM250.8 55.1h0.9v0.9h-0.9zM241.8 54.1h0.9v0.9h-0.9zM244.8 54.5h0.9v0.9h-0.9zM240.9 58.5h0.9v0.9h-0.9zM239.8 58.6h0.9v0.9h-0.9zM241.9 57.6h0.9v0.9h-0.9zM258.6 57.2h0.9v0.9h-0.9zM243.9 56.7h0.9v0.9h-0.9zM250.0 51.0h0.9v0.9h-0.9zM244.7 57.0h0.9v0.9h-0.9zM245.7 56.8h0.9v0.9h-0.9zM254.1 59.0h0.9v0.9h-0.9zM255.3 58.4h0.9v0.9h-0.9zM247.0 56.4h0.9v0.9h-0.9zM247.1 55.5h0.9v0.9h-0.9zM247.7 51.0h0.9v0.9h-0.9zM246.7 56.4h0.9v0.9h-0.9zM242.2 56.4h0.9v0.9h-0.9zM252.6 56.0h0.9v0.9h-0.9zM247.6 50.7h0.9v0.9h-0.9zM255.9 65.0h0.9v0.9h-0.9zM231.5 56.9h0.9v0.9h-0.9zM252.6 55.5h0.9v0.9h-0.9zM252.9 49.3h0.9v0.9h-0.9zM255.0 57.7h0.9v0.9h-0.9zM249.2 54.6h0.9v0.9h-0.9zM253.5 54.9h0.9v0.9h-0.9zM250.6 54.9h0.9v0.9h-0.9zM233.3 56.4h0.9v0.9h-0.9zM250.4 58.9h0.9v0.9h-0.9zM242.9 56.4h0.9v0.9h-0.9zM253.3 57.0h0.9v0.9h-0.9zM257.7 62.9h0.9v0.9h-0.9zM242.6 50.4h0.9v0.9h-0.9zM255.0 61.4h0.9v0.9h-0.9zM255.5 59.1h0.9v0.9h-0.9zM244.7 54.2h0.9v0.9h-0.9zM255.2 53.6h0.9v0.9h-0.9zM236.3 53.3h0.9v0.9h-0.9zM244.2 54.2h0.9v0.9h-0.9zM250.6 54.1h0.9v0.9h-0.9zM258.2 56.2h0.9v0.9h-0.9zM241.4 60.7h0.9v0.9h-0.9zM244.9 57.2h0.9v0.9h-0.9zM248.9 55.5h0.9v0.9h-0.9zM251.3 54.3h0.9v0.9h-0.9zM236.1 49.4h0.9v0.9h-0.9zM240.1 54.1h0.9v0.9h-0.9zM248.8 56.7h0.9v0.9h-0.9zM252.9 56.9h0.9v0.9h-0.9zM243.4 54.2h0.9v0.9h-0.9zM234.2 56.0h0.9v0.9h-0.9zM252.4 58.2h0.9v0.9h-0.9zM248.2 55.9h0.9v0.9h-0.9zM255.6 56.5h0.9v0.9h-0.9zM254.2 58.4h0.9v0.9h-0.9zM250.5 60.7h0.9v0.9h-0.9zM245.0 55.4h0.9v0.9h-0.9zM243.3 53.9h0.9v0.9h-0.9zM259.9 62.1h0.9v0.9h-0.9zM249.2 58.3h0.9v0.9h-0.9zM257.2 59.1h0.9v0.9h-0.9zM257.4 52.5h0.9v0.9h-0.9zM244.5 57.9h0.9v0.9h-0.9zM259.0 56.8h0.9v0.9h-0.9zM243.0 55.4h0.9v0.9h-0.9zM244.4 53.8h0.9v0.9h-0.9zM259.5 54.5h0.9v0.9h-0.9zM249.1 63.4h0.9v0.9h-0.9zM257.3 57.6h0.9v0.9h-0.9zM244.7 57.8h0.9v0.9h-0.9zM260.4 58.5h0.9v0.9h-0.9zM257.8 56.8h0.9v0.9h-0.9zM252.6 55.9h0.9v0.9h-0.9zM252.0 60.7h0.9v0.9h-0.9zM239.0 56.3h0.9v0.9h-0.9zM250.7 54.7h0.9v0.9h-0.9zM246.8 59.0h0.9v0.9h-0.9zM251.3 51.5h0.9v0.9h-0.9zM248.8 52.9h0.9v0.9h-0.9zM248.6 53.0h0.9v0.9h-0.9zM249.5 58.0h0.9v0.9h-0.9zM249.2 57.4h0.9v0.9h-0.9zM243.0 61.1h0.9v0.9h-0.9zM244.4 50.7h0.9v0.9h-0.9zM247.7 54.1h0.9v0.9h-0.9zM241.9 55.4h0.9v0.9h-0.9zM251.0 52.7h0.9v0.9h-0.9zM248.0 61.1h0.9v0.9h-0.9zM253.8 56.0h0.9v0.9h-0.9zM249.9 56.1h0.9v0.9h-0.9zM248.7 58.8h0.9v0.9h-0.9zM248.4 48.8h0.9v0.9h-0.9zM248.8 53.7h0.9v0.9h-0.9zM253.6 54.5h0.9v0.9h-0.9zM250.0 63.5h0.9v0.9h-0.9zM241.7 52.9h0.9v0.9h-0.9zM239.1 48.8h0.9v0.9h-0.9zM235.9 57.7h0.9v0.9h-0.9zM244.5 50.5h0.9v0.9h-0.9zM238.6 58.5h0.9v0.9h-0.9zM243.6 55.3h0.9v0.9h-0.9zM251.3 60.8h0.9v0.9h-0.9zM250.0 57.1h0.9v0.9h-0.9zM246.8 58.0h0.9v0.9h-0.9zM251.0 56.7h0.9v0.9h-0.9zM245.5 52.3h0.9v0.9h-0.9zM245.3 51.6h0.9v0.9h-0.9zM257.6 58.2h0.9v0.9h-0.9zM240.6 61.0h0.9v0.9h-0.9zM255.2 50.4h0.9v0.9h-0.9zM252.7 57.9h0.9v0.9h-0.9zM250.4 57.0h0.9v0.9h-0.9zM256.4 51.7h0.9v0.9h-0.9zM240.3 52.0h0.9v0.9h-0.9zM245.1 54.6h0.9v0.9h-0.9zM251.6 57.4h0.9v0.9h-0.9zM249.2 54.3h0.9v0.9h-0.9zM245.9 59.5h0.9v0.9h-0.9zM254.3 56.8h0.9v0.9h-0.9zM246.7 61.5h0.9v0.9h-0.9zM244.8 58.6h0.9v0.9h-0.9zM257.1 55.7h0.9v0.9h-0.9zM254.8 52.9h0.9v0.9h-0.9zM256.1 57.1h0.9v0.9h-0.9zM237.9 58.6h0.9v0.9h-0.9zM242.8 60.6h0.9v0.9h-0.9zM244.2 56.0h0.9v0.9h-0.9zM251.0 55.4h0.9v0.9h-0.9zM250.8 54.7h0.9v0.9h-0.9zM253.7 56.5h0.9v0.9h-0.9zM250.5 47.7h0.9v0.9h-0.9zM257.1 56.6h0.9v0.9h-0.9zM236.5 56.8h0.9v0.9h-0.9zM252.3 59.9h0.9v0.9h-0.9zM241.4 61.5h0.9v0.9h-0.9zM247.9 64.2h0.9v0.9h-0.9zM248.0 58.7h0.9v0.9h-0.9zM246.4 52.9h0.9v0.9h-0.9zM256.7 59.4h0.9v0.9h-0.9zM259.8 59.2h0.9v0.9h-0.9zM245.0 51.2h0.9v0.9h-0.9zM244.4 54.3h0.9v0.9h-0.9zM243.3 58.4h0.9v0.9h-0.9zM251.3 55.6h0.9v0.9h-0.9zM250.2 56.0h0.9v0.9h-0.9zM250.5 58.9h0.9v0.9h-0.9zM255.7 54.3h0.9v0.9h-0.9zM238.5 61.1h0.9v0.9h-0.9zM249.8 60.0h0.9v0.9h-0.9zM237.5 55.4h0.9v0.9h-0.9zM249.2 51.9h0.9v0.9h-0.9zM245.4 58.8h0.9v0.9h-0.9zM256.5 61.6h0.9v0.9h-0.9zM243.0 52.0h0.9v0.9h-0.9zM252.6 59.5h0.9v0.9h-0.9zM250.4 52.3h0.9v0.9h-0.9zM254.5 59.0h0.9v0.9h-0.9zM252.9 54.9h0.9v0.9h-0.9zM251.1 59.0h0.9v0.9h-0.9zM245.1 50.6h0.9v0.9h-0.9zM251.3 58.0h0.9v0.9h-0.9zM249.1 59.3h0.9v0.9h-0.9zM244.9 56.2h0.9v0.9h-0.9zM246.9 58.3h0.9v0.9h-0.9zM260.2 55.7h0.9v0.9h-0.9zM254.5 58.4h0.9v0.9h-0.9zM248.2 53.1h0.9v0.9h-0.9zM252.3 60.8h0.9v0.9h-0.9zM252.7 57.9h0.9v0.9h-0.9zM247.6 57.0h0.9v0.9h-0.9zM239.0 59.9h0.9v0.9h-0.9zM246.1 53.0h0.9v0.9h-0.9zM243.7 53.9h0.9v0.9h-0.9zM255.0 59.9h0.9v0.9h-0.9zM239.5 59.5h0.9v0.9h-0.9zM255.2 54.6h0.9v0.9h-0.9zM238.6 54.1h0.9v0.9h-0.9zM244.6 57.6h0.9v0.9h-0.9zM246.5 50.0h0.9v0.9h-0.9zM250.6 51.6h0.9v0.9h-0.9zM255.3 52.6h0.9v0.9h-0.9zM244.1 53.8h0.9v0.9h-0.9zM245.2 60.7h0.9v0.9h-0.9zM255.0 58.4h0.9v0.9h-0.9zM251.2 51.5h0.9v0.9h-0.9zM245.4 54.7h0.9v0.9h-0.9zM242.2 58.1h0.9v0.9h-0.9zM243.8 54.2h0.9v0.9h-0.9zM241.7 49.9h0.9v0.9h-0.9zM253.2 60.8h0.9v0.9h-0.9zM250.2 53.4h0.9v0.9h-0.9zM230.1 57.1h0.9v0.9h-0.9zM257.5 57.5h0.9v0.9h-0.9zM255.5 61.2h0.9v0.9h-0.9zM256.9 55.1h0.9v0.9h-0.9zM256.4 59.0h0.9v0.9h-0.9zM238.2 55.2h0.9v0.9h-0.9zM239.0 56.2h0.9v0.9h-0.9zM253.0 53.1h0.9v0.9h-0.9zM234.6 60.7h0.9v0.9h-0.9zM251.6 61.2h0.9v0.9h-0.9zM239.7 59.9h0.9v0.9h-0.9zM247.5 57.4h0.9v0.9h-0.9zM247.9 59.7h0.9v0.9h-0.9zM256.3 56.8h0.9v0.9h-0.9zM239.5 58.9h0.9v0.9h-0.9zM245.7 58.5h0.9v0.9h-0.9zM250.8 61.7h0.9v0.9h-0.9zM257.0 55.1h0.9v0.9h-0.9zM251.4 62.1h0.9v0.9h-0.9zM245.2 57.9h0.9v0.9h-0.9zM257.3 60.5h0.9v0.9h-0.9zM252.6 52.3h0.9v0.9h-0.9zM240.2 57.3h0.9v0.9h-0.9zM251.7 64.7h0.9v0.9h-0.9zM243.0 60.1h0.9v0.9h-0.9zM254.4 51.2h0.9v0.9h-0.9zM243.3 57.0h0.9v0.9h-0.9zM245.5 56.0h0.9v0.9h-0.9zM252.3 53.9h0.9v0.9h-0.9zM252.3 54.5h0.9v0.9h-0.9zM245.2 58.2h0.9v0.9h-0.9zM245.0 57.4h0.9v0.9h-0.9zM260.2 56.6h0.9v0.9h-0.9zM248.0 58.9h0.9v0.9h-0.9zM246.4 60.0h0.9v0.9h-0.9zM240.0 58.5h0.9v0.9h-0.9zM245.4 53.9h0.9v0.9h-0.9zM259.2 53.4h0.9v0.9h-0.9zM257.4 61.2h0.9v0.9h-0.9zM248.2 56.1h0.9v0.9h-0.9zM246.0 54.5h0.9v0.9h-0.9zM252.1 57.6h0.9v0.9h-0.9zM250.2 62.0h0.9v0.9h-0.9zM246.7 58.0h0.9v0.9h-0.9zM259.2 53.3h0.9v0.9h-0.9zM256.3 62.4h0.9v0.9h-0.9zM239.5 53.0h0.9v0.9h-0.9zM241.7 50.6h0.9v0.9h-0.9zM252.2 50.6h0.9v0.9h-0.9zM252.5 61.2h0.9v0.9h-0.9zM237.7 55.5h0.9v0.9h-0.9zM235.6 59.0h0.9v0.9h-0.9zM243.8 55.6h0.9v0.9h-0.9zM249.4 58.2h0.9v0.9h-0.9zM246.6 56.5h0.9v0.9h-0.9zM245.2 56.9h0.9v0.9h-0.9zM240.8 56.7h0.9v0.9h-0.9zM235.5 54.9h0.9v0.9h-0.9zM240.2 57.3h0.9v0.9h-0.9zM242.2 51.2h0.9v0.9h-0.9zM243.8 58.9h0.9v0.9h-0.9zM251.7 56.2h0.9v0.9h-0.9zM242.5 53.0h0.9v0.9h-0.9zM258.4 57.3h0.9v0.9h-0.9zM242.3 49.7h0.9v0.9h-0.9zM239.4 64.4h0.9v0.9h-0.9zM241.0 56.3h0.9v0.9h-0.9zM250.5 56.0h0.9v0.9h-0.9zM247.1 52.1h0.9v0.9h-0.9zM241.6 61.9h0.9v0.9h-0.9zM243.7 59.2h0.9v0.9h-0.9zM237.1 55.6h0.9v0.9h-0.9zM250.8 59.8h0.9v0.9h-0.9zM241.1 58.4h0.9v0.9h-0.9zM251.7 54.1h0.9v0.9h-0.9zM252.3 53.6h0.9v0.9h-0.9zM243.4 56.4h0.9v0.9h-0.9zM230.0 56.1h0.9v0.9h-0.9zM242.0 51.8h0.9v0.9h-0.9zM246.0 58.9h0.9v0.9h-0.9zM246.2 60.6h0.9v0.9h-0.9zM240.9 52.3h0.9v0.9h-0.9zM259.9 57.8h0.9v0.9h-0.9zM255.6 53.9h0.9v0.9h-0.9zM254.6 57.3h0.9v0.9h-0.9zM253.5 56.6h0.9v0.9h-0.9zM257.4 54.4h0.9v0.9h-0.9zM242.3 51.8h0.9v0.9h-0.9zM257.1 54.1h0.9v0.9h-0.9zM241.7 53.5h0.9v0.9h-0.9zM245.9 52.4h0.9v0.9h-0.9zM247.0 54.5h0.9v0.9h-0.9zM245.1 53.4h0.9v0.9h-0.9zM249.3 55.0h0.9v0.9h-0.9zM249.8 57.3h0.9v0.9h-0.9zM251.4 49.5h0.9v0.9h-0.9zM245.3 54.0h0.9v0.9h-0.9zM254.4 51.5h0.9v0.9h-0.9zM244.0 55.6h0.9v0.9h-0.9zM246.6 59.7h0.9v0.9h-0.9zM245.9 59.6h0.9v0.9h-0.9zM238.7 50.7h0.9v0.9h-0.9zM257.5 57.9h0.9v0.9h-0.9zM252.4 56.9h0.9v0.9h-0.9zM252.4 52.6h0.9v0.9h-0.9zM255.6 54.8h0.9v0.9h-0.9zM255.9 56.8h0.9v0.9h-0.9zM235.2 52.4h0.9v0.9h-0.9zM256.9 56.1h0.9v0.9h-0.9zM246.2 57.3h0.9v0.9h-0.9zM246.0 54.8h0.9v0.9h-0.9zM249.7 57.0h0.9v0.9h-0.9zM259.6 56.6h0.9v0.9h-0.9zM249.9 56.9h0.9v0.9h-0.9zM248.0 54.2h0.9v0.9h-0.9zM248.5 54.4h0.9v0.9h-0.9zM245.9 50.4h0.9v0.9h-0.9zM248.6 55.2h0.9v0.9h-0.9zM241.4 52.9h0.9v0.9h-0.9zM233.2 58.3h0.9v0.9h-0.9zM248.5 64.8h0.9v0.9h-0.9zM248.8 56.0h0.9v0.9h-0.9zM259.1 56.9h0.9v0.9h-0.9zM250.2 55.3h0.9v0.9h-0.9zM244.8 61.3h0.9v0.9h-0.9zM256.0 62.0h0.9v0.9h-0.9zM246.6 56.6h0.9v0.9h-0.9zM242.8 59.6h0.9v0.9h-0.9zM239.2 58.3h0.9v0.9h-0.9zM256.7 61.0h0.9v0.9h-0.9zM242.4 60.0h0.9v0.9h-0.9zM244.0 54.1h0.9v0.9h-0.9zM239.7 60.2h0.9v0.9h-0.9zM243.7 55.4h0.9v0.9h-0.9zM245.2 50.8h0.9v0.9h-0.9zM244.3 60.3h0.9v0.9h-0.9zM244.2 54.9h0.9v0.9h-0.9zM235.8 59.4h0.9v0.9h-0.9zM241.4 59.9h0.9v0.9h-0.9zM237.0 52.4h0.9v0.9h-0.9zM251.0 54.1h0.9v0.9h-0.9zM254.5 56.5h0.9v0.9h-0.9zM240.8 58.5h0.9v0.9h-0.9zM254.9 50.4h0.9v0.9h-0.9zM254.3 50.5h0.9v0.9h-0.9zM244.0 55.4h0.9v0.9h-0.9zM256.5 51.8h0.9v0.9h-0.9zM242.8 50.0h0.9v0.9h-0.9zM247.3 57.6h0.9v0.9h-0.9zM237.2 54.6h0.9v0.9h-0.9zM252.6 61.6h0.9v0.9h-0.9zM253.6 55.5h0.9v0.9h-0.9zM240.8 53.5h0.9v0.9h-0.9zM244.4 57.0h0.9v0.9h-0.9zM248.7 61.8h0.9v0.9h-0.9zM251.0 53.1h0.9v0.9h-0.9zM259.8 59.5h0.9v0.9h-0.9zM249.7 54.2h0.9v0.9h-0.9zM235.9 53.2h0.9v0.9h-0.9zM255.4 53.9h0.9v0.9h-0.9zM239.8 57.1h0.9v0.9h-0.9zM250.7 58.4h0.9v0.9h-0.9zM253.6 61.0h0.9v0.9h-0.9zM243.1 59.6h0.9v0.9h-0.9zM242.1 58.7h0.9v0.9h-0.9zM250.3 57.3h0.9v0.9h-0.9zM255.8 56.4h0.9v0.9h-0.9zM256.8 59.3h0.9v0.9h-0.9zM249.9 54.7h0.9v0.9h-0.9zM243.7 54.8h0.9v0.9h-0.9zM247.6 56.4h0.9v0.9h-0.9zM254.4 53.7h0.9v0.9h-0.9zM244.0 55.5h0.9v0.9h-0.9zM250.3 53.2h0.9v0.9h-0.9zM260.3 54.7h0.9v0.9h-0.9zM256.5 49.0h0.9v0.9h-0.9zM249.0 57.4h0.9v0.9h-0.9zM250.3 58.4h0.9v0.9h-0.9zM251.0 57.0h0.9v0.9h-0.9zM235.8 54.2h0.9v0.9h-0.9zM232.6 58.5h0.9v0.9h-0.9zM251.2 55.9h0.9v0.9h-0.9zM243.3 54.6h0.9v0.9h-0.9zM248.6 60.6h0.9v0.9h-0.9zM237.9 50.3h0.9v0.9h-0.9zM245.6 53.7h0.9v0.9h-0.9zM245.1 57.1h0.9v0.9h-0.9zM249.3 57.4h0.9v0.9h-0.9zM248.8 59.5h0.9v0.9h-0.9zM250.1 55.7h0.9v0.9h-0.9zM251.5 51.6h0.9v0.9h-0.9zM236.7 49.1h0.9v0.9h-0.9zM252.7 57.1h0.9v0.9h-0.9zM249.5 48.9h0.9v0.9h-0.9zM246.4 54.1h0.9v0.9h-0.9zM239.1 53.6h0.9v0.9h-0.9zM253.9 58.2h0.9v0.9h-0.9zM248.8 58.1h0.9v0.9h-0.9zM244.8 56.7h0.9v0.9h-0.9zM249.3 58.3h0.9v0.9h-0.9zM248.5 56.0h0.9v0.9h-0.9zM248.1 54.4h0.9v0.9h-0.9zM252.0 63.8h0.9v0.9h-0.9zM258.8 51.5h0.9v0.9h-0.9zM253.9 59.2h0.9v0.9h-0.9zM254.4 52.7h0.9v0.9h-0.9zM242.9 57.4h0.9v0.9h-0.9zM252.5 53.2h0.9v0.9h-0.9zM246.3 55.2h0.9v0.9h-0.9zM249.4 57.6h0.9v0.9h-0.9zM247.0 52.5h0.9v0.9h-0.9zM257.7 61.6h0.9v0.9h-0.9zM248.3 59.8h0.9v0.9h-0.9zM252.1 58.6h0.9v0.9h-0.9zM252.4 54.1h0.9v0.9h-0.9zM253.0 59.7h0.9v0.9h-0.9zM226.0 46.8h0.9v0.9h-0.9zM230.2 46.2h0.9v0.9h-0.9zM230.1 41.3h0.9v0.9h-0.9zM226.8 35.3h0.9v0.9h-0.9zM226.2 38.5h0.9v0.9h-0.9zM227.3 41.0h0.9v0.9h-0.9zM224.5 48.4h0.9v0.9h-0.9zM230.5 37.9h0.9v0.9h-0.9zM228.2 40.1h0.9v0.9h-0.9zM227.7 37.1h0.9v0.9h-0.9zM227.1 34.3h0.9v0.9h-0.9zM227.5 37.9h0.9v0.9h-0.9zM227.7 34.2h0.9v0.9h-0.9zM227.4 38.2h0.9v0.9h-0.9zM228.1 33.2h0.9v0.9h-0.9zM227.9 42.4h0.9v0.9h-0.9zM228.1 36.3h0.9v0.9h-0.9zM226.6 36.9h0.9v0.9h-0.9zM228.3 45.0h0.9v0.9h-0.9zM227.1 35.1h0.9v0.9h-0.9zM227.8 38.9h0.9v0.9h-0.9zM226.0 34.7h0.9v0.9h-0.9zM227.2 41.0h0.9v0.9h-0.9zM225.6 33.4h0.9v0.9h-0.9zM228.0 32.5h0.9v0.9h-0.9zM227.5 39.6h0.9v0.9h-0.9zM227.1 33.4h0.9v0.9h-0.9zM227.2 36.5h0.9v0.9h-0.9zM227.8 34.2h0.9v0.9h-0.9zM228.8 30.5h0.9v0.9h-0.9zM227.1 38.0h0.9v0.9h-0.9zM228.6 35.3h0.9v0.9h-0.9zM228.1 35.4h0.9v0.9h-0.9zM228.3 45.8h0.9v0.9h-0.9zM226.7 40.0h0.9v0.9h-0.9zM226.0 42.4h0.9v0.9h-0.9zM229.0 38.2h0.9v0.9h-0.9zM225.7 39.8h0.9v0.9h-0.9zM228.9 42.9h0.9v0.9h-0.9zM228.4 29.8h0.9v0.9h-0.9zM226.3 44.4h0.9v0.9h-0.9zM225.6 43.1h0.9v0.9h-0.9zM229.9 41.4h0.9v0.9h-0.9zM228.9 36.5h0.9v0.9h-0.9zM225.6 37.5h0.9v0.9h-0.9zM227.0 37.8h0.9v0.9h-0.9zM228.3 37.3h0.9v0.9h-0.9zM227.6 39.9h0.9v0.9h-0.9zM227.3 46.3h0.9v0.9h-0.9zM227.9 38.4h0.9v0.9h-0.9zM227.0 35.2h0.9v0.9h-0.9zM229.2 38.7h0.9v0.9h-0.9zM225.8 35.5h0.9v0.9h-0.9zM227.1 36.0h0.9v0.9h-0.9zM228.8 32.8h0.9v0.9h-0.9zM228.0 38.6h0.9v0.9h-0.9zM225.7 38.2h0.9v0.9h-0.9zM227.2 40.3h0.9v0.9h-0.9zM226.7 39.4h0.9v0.9h-0.9zM225.0 33.1h0.9v0.9h-0.9zM228.4 42.7h0.9v0.9h-0.9zM227.3 35.3h0.9v0.9h-0.9zM226.2 41.0h0.9v0.9h-0.9zM228.2 33.4h0.9v0.9h-0.9zM224.7 44.5h0.9v0.9h-0.9zM227.5 34.0h0.9v0.9h-0.9zM227.4 42.1h0.9v0.9h-0.9zM223.7 43.0h0.9v0.9h-0.9zM228.3 28.6h0.9v0.9h-0.9zM228.4 30.0h0.9v0.9h-0.9zM228.9 39.8h0.9v0.9h-0.9zM230.5 35.3h0.9v0.9h-0.9zM227.3 42.7h0.9v0.9h-0.9zM226.4 34.8h0.9v0.9h-0.9zM226.8 37.7h0.9v0.9h-0.9zM225.8 40.2h0.9v0.9h-0.9zM228.1 38.3h0.9v0.9h-0.9zM229.7 36.5h0.9v0.9h-0.9zM229.1 35.5h0.9v0.9h-0.9zM228.4 29.3h0.9v0.9h-0.9zM227.6 37.2h0.9v0.9h-0.9zM226.6 35.3h0.9v0.9h-0.9zM226.8 34.8h0.9v0.9h-0.9zM224.2 35.3h0.9v0.9h-0.9zM226.5 35.6h0.9v0.9h-0.9zM225.8 37.4h0.9v0.9h-0.9zM228.4 36.9h0.9v0.9h-0.9zM226.6 44.1h0.9v0.9h-0.9zM228.7 42.1h0.9v0.9h-0.9zM228.9 36.5h0.9v0.9h-0.9zM227.1 43.0h0.9v0.9h-0.9zM226.5 37.5h0.9v0.9h-0.9zM227.8 39.7h0.9v0.9h-0.9zM226.9 42.4h0.9v0.9h-0.9zM227.1 41.3h0.9v0.9h-0.9zM228.8 41.0h0.9v0.9h-0.9zM228.3 32.8h0.9v0.9h-0.9zM225.5 35.2h0.9v0.9h-0.9zM228.0 44.8h0.9v0.9h-0.9zM225.6 39.4h0.9v0.9h-0.9zM226.1 34.7h0.9v0.9h-0.9zM226.9 41.1h0.9v0.9h-0.9zM227.6 43.3h0.9v0.9h-0.9zM225.9 42.0h0.9v0.9h-0.9zM228.6 38.3h0.9v0.9h-0.9zM228.0 35.5h0.9v0.9h-0.9zM225.8 36.2h0.9v0.9h-0.9zM226.4 51.0h0.9v0.9h-0.9zM226.6 45.4h0.9v0.9h-0.9zM227.6 39.4h0.9v0.9h-0.9zM228.3 34.5h0.9v0.9h-0.9zM228.6 39.7h0.9v0.9h-0.9zM225.2 40.7h0.9v0.9h-0.9zM228.1 40.0h0.9v0.9h-0.9zM229.5 36.1h0.9v0.9h-0.9zM228.0 41.4h0.9v0.9h-0.9zM226.0 43.4h0.9v0.9h-0.9zM225.3 32.1h0.9v0.9h-0.9zM228.0 33.1h0.9v0.9h-0.9zM227.1 30.6h0.9v0.9h-0.9zM227.4 32.9h0.9v0.9h-0.9zM227.8 31.1h0.9v0.9h-0.9zM227.9 36.8h0.9v0.9h-0.9zM227.4 37.7h0.9v0.9h-0.9zM227.5 32.1h0.9v0.9h-0.9zM223.7 38.2h0.9v0.9h-0.9zM226.0 36.0h0.9v0.9h-0.9zM227.9 29.1h0.9v0.9h-0.9zM226.2 35.3h0.9v0.9h-0.9zM225.8 39.5h0.9v0.9h-0.9zM227.1 34.3h0.9v0.9h-0.9zM225.9 41.6h0.9v0.9h-0.9zM226.4 40.6h0.9v0.9h-0.9zM227.9 29.5h0.9v0.9h-0.9zM225.8 38.0h0.9v0.9h-0.9zM227.8 41.5h0.9v0.9h-0.9zM228.4 42.7h0.9v0.9h-0.9zM226.8 37.1h0.9v0.9h-0.9zM228.4 36.1h0.9v0.9h-0.9zM228.8 30.8h0.9v0.9h-0.9zM228.2 37.2h0.9v0.9h-0.9zM224.5 42.4h0.9v0.9h-0.9zM227.7 38.1h0.9v0.9h-0.9zM225.8 35.9h0.9v0.9h-0.9zM229.4 34.3h0.9v0.9h-0.9zM222.4 34.1h0.9v0.9h-0.9zM225.6 37.4h0.9v0.9h-0.9zM226.7 33.9h0.9v0.9h-0.9zM226.1 42.7h0.9v0.9h-0.9zM225.3 46.8h0.9v0.9h-0.9zM226.8 45.7h0.9v0.9h-0.9zM228.4 50.7h0.9v0.9h-0.9zM226.2 51.2h0.9v0.9h-0.9zM225.3 46.2h0.9v0.9h-0.9zM228.9 48.2h0.9v0.9h-0.9zM225.9 50.5h0.9v0.9h-0.9zM228.6 48.9h0.9v0.9h-0.9zM225.3 48.0h0.9v0.9h-0.9zM228.0 51.3h0.9v0.9h-0.9zM229.7 48.2h0.9v0.9h-0.9zM226.9 48.9h0.9v0.9h-0.9zM228.9 46.2h0.9v0.9h-0.9zM229.1 40.8h0.9v0.9h-0.9zM228.5 47.0h0.9v0.9h-0.9zM228.1 51.1h0.9v0.9h-0.9zM226.1 48.7h0.9v0.9h-0.9zM227.8 50.8h0.9v0.9h-0.9zM226.4 46.0h0.9v0.9h-0.9zM225.2 56.6h0.9v0.9h-0.9zM227.3 48.3h0.9v0.9h-0.9zM225.7 51.8h0.9v0.9h-0.9zM226.9 53.3h0.9v0.9h-0.9zM228.5 49.1h0.9v0.9h-0.9zM228.4 45.7h0.9v0.9h-0.9zM227.1 47.3h0.9v0.9h-0.9zM226.0 49.1h0.9v0.9h-0.9zM227.3 53.3h0.9v0.9h-0.9zM223.5 47.0h0.9v0.9h-0.9zM226.4 47.6h0.9v0.9h-0.9zM228.0 50.2h0.9v0.9h-0.9zM227.5 47.6h0.9v0.9h-0.9zM228.1 50.1h0.9v0.9h-0.9zM225.3 48.2h0.9v0.9h-0.9zM225.9 45.5h0.9v0.9h-0.9zM227.7 49.2h0.9v0.9h-0.9zM227.6 46.4h0.9v0.9h-0.9zM227.3 46.3h0.9v0.9h-0.9zM228.0 51.1h0.9v0.9h-0.9zM229.6 52.8h0.9v0.9h-0.9zM226.5 47.6h0.9v0.9h-0.9zM247.2 37.2h0.9v0.9h-0.9zM237.4 45.2h0.9v0.9h-0.9zM250.6 46.4h0.9v0.9h-0.9zM247.0 40.9h0.9v0.9h-0.9zM242.2 31.7h0.9v0.9h-0.9zM259.3 44.7h0.9v0.9h-0.9zM243.9 45.4h0.9v0.9h-0.9zM256.4 35.9h0.9v0.9h-0.9zM251.1 46.4h0.9v0.9h-0.9zM248.4 46.2h0.9v0.9h-0.9zM242.1 37.2h0.9v0.9h-0.9zM254.0 34.5h0.9v0.9h-0.9zM243.7 45.0h0.9v0.9h-0.9zM248.1 43.7h0.9v0.9h-0.9zM224.7 34.2h0.9v0.9h-0.9zM226.4 34.5h0.9v0.9h-0.9zM235.6 37.0h0.9v0.9h-0.9zM229.4 32.8h0.9v0.9h-0.9zM229.0 39.3h0.9v0.9h-0.9zM227.0 31.6h0.9v0.9h-0.9z" fill="#000"/>
<path d="M240.7 60.8h0.6v0.6h-0.6zM245.6 55.3h0.6v0.6h-0.6zM242.1 55.7h0.6v0.6h-0.6zM243.1 53.3h0.6v0.6h-0.6zM252.3 56.2h0.6v0.6h-0.6zM241.4 59.7h0.6v0.6h-0.6zM240.0 55.6h0.6v0.6h-0.6zM256.0 54.2h0.6v0.6h-0.6zM247.5 60.9h0.6v0.6h-0.6zM255.3 54.5h0.6v0.6h-0.6zM245.6 59.9h0.6v0.6h-0.6zM246.1 62.1h0.6v0.6h-0.6zM242.5 62.0h0.6v0.6h-0.6zM248.9 55.2h0.6v0.6h-0.6zM247.7 54.2h0.6v0.6h-0.6zM253.2 55.5h0.6v0.6h-0.6zM257.3 58.6h0.6v0.6h-0.6zM245.9 55.3h0.6v0.6h-0.6zM251.1 55.0h0.6v0.6h-0.6zM256.8 54.2h0.6v0.6h-0.6zM249.0 58.2h0.6v0.6h-0.6zM243.8 60.3h0.6v0.6h-0.6zM246.3 59.2h0.6v0.6h-0.6zM250.2 56.0h0.6v0.6h-0.6zM246.4 53.8h0.6v0.6h-0.6zM241.8 61.1h0.6v0.6h-0.6zM244.9 59.3h0.6v0.6h-0.6zM240.3 58.3h0.6v0.6h-0.6zM245.8 57.8h0.6v0.6h-0.6zM244.4 53.6h0.6v0.6h-0.6zM244.7 55.2h0.6v0.6h-0.6zM240.7 59.8h0.6v0.6h-0.6zM244.1 56.8h0.6v0.6h-0.6zM257.5 60.4h0.6v0.6h-0.6zM257.0 61.2h0.6v0.6h-0.6zM240.8 55.6h0.6v0.6h-0.6zM238.6 59.5h0.6v0.6h-0.6zM252.3 56.3h0.6v0.6h-0.6zM246.9 59.3h0.6v0.6h-0.6zM253.0 55.4h0.6v0.6h-0.6z" fill="#fff"/>
<path d="M228.5 37.6h0.6v0.6h-0.6zM227.7 35.4h0.6v0.6h-0.6zM225.9 44.9h0.6v0.6h-0.6zM228.1 42.3h0.6v0.6h-0.6zM225.6 33.5h0.6v0.6h-0.6zM226.1 35.6h0.6v0.6h-0.6zM226.6 37.9h0.6v0.6h-0.6zM225.6 37.0h0.6v0.6h-0.6zM227.7 35.3h0.6v0.6h-0.6zM228.4 40.4h0.6v0.6h-0.6z" fill="#fff"/>
<rect x="222.40" y="29.40" width="11.20" height="23.40" fill="none" stroke="#6fb24a" stroke-width="0.9" />
<rect x="237.20" y="48.40" width="23.60" height="16.00" fill="none" stroke="#4a5cab" stroke-width="0.9" />
<text x="235.30" y="35.20" font-size="6.4" text-anchor="start" fill="#79b453" >4.8</text>
<text x="247.80" y="46.60" font-size="6.4" text-anchor="start" fill="#4a5aa8" >76.4</text>
<ellipse cx="279.20" cy="60.80" rx="4.00" ry="5.20" fill="#000" opacity="1"/>
<path d="M279.1 58.8h0.9v0.9h-0.9zM275.9 62.8h0.9v0.9h-0.9zM279.4 61.1h0.9v0.9h-0.9zM281.8 56.5h0.9v0.9h-0.9zM279.3 61.9h0.9v0.9h-0.9zM281.7 57.7h0.9v0.9h-0.9zM281.4 61.7h0.9v0.9h-0.9zM283.0 64.4h0.9v0.9h-0.9zM280.9 67.4h0.9v0.9h-0.9zM279.5 59.7h0.9v0.9h-0.9zM278.6 58.2h0.9v0.9h-0.9zM279.4 55.4h0.9v0.9h-0.9zM279.3 62.3h0.9v0.9h-0.9zM282.1 60.0h0.9v0.9h-0.9zM283.1 59.0h0.9v0.9h-0.9zM279.2 55.4h0.9v0.9h-0.9zM277.5 58.6h0.9v0.9h-0.9zM283.3 62.6h0.9v0.9h-0.9zM276.7 62.6h0.9v0.9h-0.9zM280.7 60.3h0.9v0.9h-0.9zM279.6 60.1h0.9v0.9h-0.9zM278.1 55.8h0.9v0.9h-0.9zM279.3 64.8h0.9v0.9h-0.9zM283.1 60.2h0.9v0.9h-0.9zM277.6 60.4h0.9v0.9h-0.9zM281.8 62.0h0.9v0.9h-0.9zM278.0 62.1h0.9v0.9h-0.9zM279.0 62.5h0.9v0.9h-0.9zM278.5 56.7h0.9v0.9h-0.9zM279.6 63.2h0.9v0.9h-0.9zM276.7 60.7h0.9v0.9h-0.9zM281.7 59.9h0.9v0.9h-0.9zM277.9 66.9h0.9v0.9h-0.9zM281.6 64.0h0.9v0.9h-0.9zM277.1 65.8h0.9v0.9h-0.9zM275.3 59.5h0.9v0.9h-0.9zM281.4 64.9h0.9v0.9h-0.9zM277.1 59.1h0.9v0.9h-0.9zM280.0 55.4h0.9v0.9h-0.9zM281.1 62.6h0.9v0.9h-0.9zM278.4 62.6h0.9v0.9h-0.9zM281.5 61.9h0.9v0.9h-0.9zM280.8 65.4h0.9v0.9h-0.9zM278.3 61.5h0.9v0.9h-0.9zM278.2 64.0h0.9v0.9h-0.9zM278.5 62.4h0.9v0.9h-0.9zM279.8 61.2h0.9v0.9h-0.9zM283.8 60.8h0.9v0.9h-0.9zM283.1 63.4h0.9v0.9h-0.9zM282.8 60.5h0.9v0.9h-0.9zM281.8 63.2h0.9v0.9h-0.9zM278.0 61.8h0.9v0.9h-0.9zM279.2 60.9h0.9v0.9h-0.9zM282.8 58.9h0.9v0.9h-0.9zM275.3 56.0h0.9v0.9h-0.9zM278.4 59.1h0.9v0.9h-0.9zM279.5 62.6h0.9v0.9h-0.9zM283.9 61.9h0.9v0.9h-0.9zM280.7 58.9h0.9v0.9h-0.9zM281.0 64.9h0.9v0.9h-0.9zM282.9 55.3h0.9v0.9h-0.9zM281.7 65.6h0.9v0.9h-0.9zM281.6 56.7h0.9v0.9h-0.9zM278.7 62.7h0.9v0.9h-0.9zM280.5 58.7h0.9v0.9h-0.9zM277.3 63.8h0.9v0.9h-0.9zM276.2 65.1h0.9v0.9h-0.9zM279.6 61.9h0.9v0.9h-0.9zM276.2 59.3h0.9v0.9h-0.9zM281.2 56.8h0.9v0.9h-0.9zM284.7 56.9h0.9v0.9h-0.9zM276.4 61.1h0.9v0.9h-0.9zM280.7 63.1h0.9v0.9h-0.9zM278.6 60.4h0.9v0.9h-0.9zM278.9 59.3h0.9v0.9h-0.9zM273.1 63.8h0.9v0.9h-0.9zM280.1 61.5h0.9v0.9h-0.9zM277.9 61.7h0.9v0.9h-0.9zM279.5 60.8h0.9v0.9h-0.9zM282.3 56.0h0.9v0.9h-0.9zM280.1 57.9h0.9v0.9h-0.9zM278.7 65.3h0.9v0.9h-0.9zM276.8 60.7h0.9v0.9h-0.9zM278.0 63.7h0.9v0.9h-0.9zM277.1 56.2h0.9v0.9h-0.9zM280.8 60.0h0.9v0.9h-0.9zM278.7 64.1h0.9v0.9h-0.9zM277.3 59.9h0.9v0.9h-0.9zM279.9 62.2h0.9v0.9h-0.9zM278.2 64.0h0.9v0.9h-0.9zM285.1 59.8h0.9v0.9h-0.9zM284.2 54.9h0.9v0.9h-0.9zM283.0 60.0h0.9v0.9h-0.9zM279.8 60.0h0.9v0.9h-0.9zM277.9 57.3h0.9v0.9h-0.9zM278.5 64.7h0.9v0.9h-0.9zM282.3 60.0h0.9v0.9h-0.9zM278.2 59.0h0.9v0.9h-0.9zM276.5 66.2h0.9v0.9h-0.9zM281.2 61.3h0.9v0.9h-0.9zM278.3 58.1h0.9v0.9h-0.9zM282.8 63.2h0.9v0.9h-0.9zM277.1 63.8h0.9v0.9h-0.9zM276.7 62.8h0.9v0.9h-0.9zM277.1 59.8h0.9v0.9h-0.9zM280.7 62.2h0.9v0.9h-0.9zM282.0 58.6h0.9v0.9h-0.9zM283.4 64.9h0.9v0.9h-0.9zM279.5 62.3h0.9v0.9h-0.9zM277.6 60.6h0.9v0.9h-0.9zM276.2 61.3h0.9v0.9h-0.9zM280.0 64.9h0.9v0.9h-0.9zM281.9 63.3h0.9v0.9h-0.9zM278.6 60.4h0.9v0.9h-0.9zM278.6 61.6h0.9v0.9h-0.9zM274.7 63.2h0.9v0.9h-0.9zM275.6 59.5h0.9v0.9h-0.9zM279.6 59.5h0.9v0.9h-0.9zM283.7 60.7h0.9v0.9h-0.9zM283.4 64.4h0.9v0.9h-0.9zM278.3 62.2h0.9v0.9h-0.9zM282.7 60.0h0.9v0.9h-0.9zM279.7 59.4h0.9v0.9h-0.9zM279.6 60.0h0.9v0.9h-0.9zM279.7 63.9h0.9v0.9h-0.9zM283.0 61.4h0.9v0.9h-0.9zM280.0 63.5h0.9v0.9h-0.9zM278.8 58.0h0.9v0.9h-0.9zM282.3 58.3h0.9v0.9h-0.9zM281.8 58.2h0.9v0.9h-0.9zM284.1 58.0h0.9v0.9h-0.9zM281.6 65.3h0.9v0.9h-0.9zM277.1 65.3h0.9v0.9h-0.9zM277.4 55.9h0.9v0.9h-0.9zM281.3 63.0h0.9v0.9h-0.9zM279.0 53.7h0.9v0.9h-0.9zM279.4 60.1h0.9v0.9h-0.9zM278.6 60.2h0.9v0.9h-0.9zM275.0 59.4h0.9v0.9h-0.9zM284.0 65.5h0.9v0.9h-0.9zM278.6 58.9h0.9v0.9h-0.9zM280.5 64.1h0.9v0.9h-0.9zM281.3 57.6h0.9v0.9h-0.9zM279.9 61.4h0.9v0.9h-0.9zM283.1 64.4h0.9v0.9h-0.9zM280.8 64.5h0.9v0.9h-0.9zM278.5 65.4h0.9v0.9h-0.9zM278.4 62.1h0.9v0.9h-0.9zM281.8 58.4h0.9v0.9h-0.9zM277.7 55.9h0.9v0.9h-0.9zM279.9 60.8h0.9v0.9h-0.9zM278.7 62.4h0.9v0.9h-0.9zM274.2 60.9h0.9v0.9h-0.9zM279.7 60.2h0.9v0.9h-0.9zM281.5 66.0h0.9v0.9h-0.9zM278.4 58.3h0.9v0.9h-0.9zM278.0 61.3h0.9v0.9h-0.9zM281.0 58.5h0.9v0.9h-0.9zM282.0 58.0h0.9v0.9h-0.9zM281.6 62.2h0.9v0.9h-0.9zM280.7 67.2h0.9v0.9h-0.9zM278.8 60.5h0.9v0.9h-0.9zM280.7 63.5h0.9v0.9h-0.9zM276.2 61.8h0.9v0.9h-0.9zM277.6 62.8h0.9v0.9h-0.9zM282.9 61.1h0.9v0.9h-0.9zM279.2 61.5h0.9v0.9h-0.9zM272.1 63.2h0.9v0.9h-0.9zM280.9 61.5h0.9v0.9h-0.9zM278.5 58.9h0.9v0.9h-0.9zM279.1 64.5h0.9v0.9h-0.9zM279.2 64.9h0.9v0.9h-0.9zM273.1 59.7h0.9v0.9h-0.9zM280.2 61.0h0.9v0.9h-0.9zM275.4 59.1h0.9v0.9h-0.9zM282.6 57.3h0.9v0.9h-0.9zM277.0 57.8h0.9v0.9h-0.9zM278.1 62.9h0.9v0.9h-0.9zM281.0 55.2h0.9v0.9h-0.9zM283.1 59.3h0.9v0.9h-0.9zM278.0 65.8h0.9v0.9h-0.9zM279.3 57.4h0.9v0.9h-0.9zM277.9 58.9h0.9v0.9h-0.9zM277.0 60.0h0.9v0.9h-0.9zM281.7 62.0h0.9v0.9h-0.9zM276.1 69.0h0.9v0.9h-0.9zM277.0 61.3h0.9v0.9h-0.9zM279.6 63.2h0.9v0.9h-0.9zM278.7 62.3h0.9v0.9h-0.9zM284.8 61.3h0.9v0.9h-0.9zM276.8 61.9h0.9v0.9h-0.9zM277.5 59.9h0.9v0.9h-0.9zM280.0 62.0h0.9v0.9h-0.9zM278.8 63.4h0.9v0.9h-0.9zM279.0 57.2h0.9v0.9h-0.9zM281.7 60.0h0.9v0.9h-0.9zM282.5 59.1h0.9v0.9h-0.9zM280.9 61.9h0.9v0.9h-0.9zM272.8 56.7h0.9v0.9h-0.9zM276.7 65.1h0.9v0.9h-0.9zM274.8 63.6h0.9v0.9h-0.9zM282.2 62.4h0.9v0.9h-0.9zM281.2 59.6h0.9v0.9h-0.9zM279.5 61.6h0.9v0.9h-0.9zM280.6 63.0h0.9v0.9h-0.9zM279.0 59.0h0.9v0.9h-0.9zM278.1 62.2h0.9v0.9h-0.9zM275.4 57.4h0.9v0.9h-0.9zM278.5 59.4h0.9v0.9h-0.9zM278.8 53.3h0.9v0.9h-0.9zM278.6 60.3h0.9v0.9h-0.9zM281.4 55.3h0.9v0.9h-0.9zM278.7 62.4h0.9v0.9h-0.9zM280.7 64.4h0.9v0.9h-0.9zM282.1 58.0h0.9v0.9h-0.9zM281.1 60.0h0.9v0.9h-0.9zM277.5 65.4h0.9v0.9h-0.9zM277.9 58.5h0.9v0.9h-0.9zM278.5 58.5h0.9v0.9h-0.9zM282.0 62.1h0.9v0.9h-0.9zM283.0 62.2h0.9v0.9h-0.9zM278.0 64.0h0.9v0.9h-0.9zM277.9 59.7h0.9v0.9h-0.9zM279.1 61.1h0.9v0.9h-0.9zM282.5 59.3h0.9v0.9h-0.9zM280.4 60.9h0.9v0.9h-0.9zM276.4 57.8h0.9v0.9h-0.9zM279.0 62.2h0.9v0.9h-0.9zM280.3 62.4h0.9v0.9h-0.9zM279.6 59.7h0.9v0.9h-0.9zM280.6 58.1h0.9v0.9h-0.9zM276.1 60.0h0.9v0.9h-0.9zM275.9 59.5h0.9v0.9h-0.9zM277.6 59.4h0.9v0.9h-0.9zM279.4 58.7h0.9v0.9h-0.9zM278.4 56.1h0.9v0.9h-0.9zM279.9 58.5h0.9v0.9h-0.9zM280.5 52.8h0.9v0.9h-0.9zM277.5 61.7h0.9v0.9h-0.9zM273.4 60.0h0.9v0.9h-0.9zM279.7 61.3h0.9v0.9h-0.9zM275.7 61.7h0.9v0.9h-0.9zM279.9 58.2h0.9v0.9h-0.9zM281.4 60.9h0.9v0.9h-0.9zM279.5 59.7h0.9v0.9h-0.9zM280.9 61.3h0.9v0.9h-0.9zM282.4 62.3h0.9v0.9h-0.9zM278.0 60.4h0.9v0.9h-0.9zM281.8 59.9h0.9v0.9h-0.9zM280.5 62.5h0.9v0.9h-0.9zM295.0 55.6h0.9v0.9h-0.9zM296.8 59.5h0.9v0.9h-0.9zM296.8 58.0h0.9v0.9h-0.9zM303.0 59.0h0.9v0.9h-0.9zM292.4 58.1h0.9v0.9h-0.9zM298.1 57.5h0.9v0.9h-0.9zM290.2 62.3h0.9v0.9h-0.9zM303.6 60.8h0.9v0.9h-0.9zM303.9 60.1h0.9v0.9h-0.9zM286.2 61.0h0.9v0.9h-0.9zM303.2 60.0h0.9v0.9h-0.9zM284.6 61.1h0.9v0.9h-0.9zM303.9 58.4h0.9v0.9h-0.9zM296.7 60.4h0.9v0.9h-0.9zM295.5 60.9h0.9v0.9h-0.9zM296.5 60.3h0.9v0.9h-0.9zM296.5 56.9h0.9v0.9h-0.9zM290.2 64.1h0.9v0.9h-0.9zM297.6 61.2h0.9v0.9h-0.9zM302.6 61.9h0.9v0.9h-0.9zM299.2 58.3h0.9v0.9h-0.9zM296.1 56.2h0.9v0.9h-0.9zM294.9 60.6h0.9v0.9h-0.9zM283.4 59.5h0.9v0.9h-0.9zM300.8 61.3h0.9v0.9h-0.9zM290.6 58.2h0.9v0.9h-0.9zM285.1 57.6h0.9v0.9h-0.9zM299.1 62.4h0.9v0.9h-0.9zM289.3 61.3h0.9v0.9h-0.9zM298.5 58.4h0.9v0.9h-0.9zM295.6 59.5h0.9v0.9h-0.9zM301.7 61.3h0.9v0.9h-0.9zM299.0 59.8h0.9v0.9h-0.9zM294.9 58.6h0.9v0.9h-0.9zM288.8 62.2h0.9v0.9h-0.9zM293.4 56.0h0.9v0.9h-0.9zM297.5 59.1h0.9v0.9h-0.9zM297.0 62.0h0.9v0.9h-0.9zM295.4 58.8h0.9v0.9h-0.9zM291.6 59.2h0.9v0.9h-0.9zM293.4 59.5h0.9v0.9h-0.9zM291.0 62.2h0.9v0.9h-0.9zM301.0 60.5h0.9v0.9h-0.9zM300.2 60.5h0.9v0.9h-0.9zM299.9 61.4h0.9v0.9h-0.9zM301.9 61.3h0.9v0.9h-0.9zM293.1 59.2h0.9v0.9h-0.9zM291.7 60.7h0.9v0.9h-0.9zM300.9 58.5h0.9v0.9h-0.9zM299.4 63.3h0.9v0.9h-0.9zM303.2 57.5h0.9v0.9h-0.9zM295.5 60.2h0.9v0.9h-0.9zM295.8 59.8h0.9v0.9h-0.9zM302.9 59.7h0.9v0.9h-0.9zM289.6 60.3h0.9v0.9h-0.9zM295.4 59.4h0.9v0.9h-0.9zM292.7 57.0h0.9v0.9h-0.9zM288.7 58.6h0.9v0.9h-0.9zM289.8 55.0h0.9v0.9h-0.9zM302.7 57.4h0.9v0.9h-0.9zM291.8 60.0h0.9v0.9h-0.9zM281.9 61.3h0.9v0.9h-0.9zM291.5 60.2h0.9v0.9h-0.9zM293.2 59.7h0.9v0.9h-0.9zM296.6 59.2h0.9v0.9h-0.9zM285.3 56.9h0.9v0.9h-0.9zM295.8 61.4h0.9v0.9h-0.9zM292.8 60.0h0.9v0.9h-0.9zM296.9 60.0h0.9v0.9h-0.9zM301.8 56.9h0.9v0.9h-0.9zM297.6 58.9h0.9v0.9h-0.9zM294.2 57.9h0.9v0.9h-0.9zM291.4 57.6h0.9v0.9h-0.9zM289.6 63.1h0.9v0.9h-0.9zM305.9 59.2h0.9v0.9h-0.9zM300.3 57.7h0.9v0.9h-0.9zM279.7 56.4h0.9v0.9h-0.9zM296.8 61.4h0.9v0.9h-0.9zM295.8 57.6h0.9v0.9h-0.9zM294.6 57.6h0.9v0.9h-0.9zM287.8 58.8h0.9v0.9h-0.9zM293.7 57.9h0.9v0.9h-0.9zM290.8 57.7h0.9v0.9h-0.9zM297.4 61.4h0.9v0.9h-0.9zM294.8 62.7h0.9v0.9h-0.9zM286.5 59.6h0.9v0.9h-0.9zM289.2 58.9h0.9v0.9h-0.9zM296.6 60.1h0.9v0.9h-0.9zM302.6 58.3h0.9v0.9h-0.9zM288.7 58.9h0.9v0.9h-0.9zM297.7 58.1h0.9v0.9h-0.9zM301.2 61.8h0.9v0.9h-0.9zM287.7 59.8h0.9v0.9h-0.9zM301.9 56.2h0.9v0.9h-0.9zM297.2 58.8h0.9v0.9h-0.9zM287.7 61.3h0.9v0.9h-0.9zM297.3 58.5h0.9v0.9h-0.9zM298.6 60.2h0.9v0.9h-0.9zM300.5 60.1h0.9v0.9h-0.9zM298.4 57.4h0.9v0.9h-0.9zM293.5 59.4h0.9v0.9h-0.9zM279.8 62.5h0.9v0.9h-0.9zM293.8 57.6h0.9v0.9h-0.9zM285.4 59.6h0.9v0.9h-0.9zM296.2 58.3h0.9v0.9h-0.9zM293.6 57.8h0.9v0.9h-0.9zM291.6 59.0h0.9v0.9h-0.9zM292.2 60.3h0.9v0.9h-0.9zM295.2 59.4h0.9v0.9h-0.9zM298.4 61.2h0.9v0.9h-0.9zM299.5 59.6h0.9v0.9h-0.9zM295.0 57.9h0.9v0.9h-0.9zM294.0 60.3h0.9v0.9h-0.9zM297.3 58.6h0.9v0.9h-0.9zM288.2 56.8h0.9v0.9h-0.9zM297.9 60.8h0.9v0.9h-0.9zM298.2 57.1h0.9v0.9h-0.9zM294.8 59.5h0.9v0.9h-0.9zM290.6 59.7h0.9v0.9h-0.9zM294.8 57.9h0.9v0.9h-0.9zM288.7 60.5h0.9v0.9h-0.9zM298.1 57.8h0.9v0.9h-0.9zM290.1 60.6h0.9v0.9h-0.9zM299.5 58.7h0.9v0.9h-0.9zM305.3 58.7h0.9v0.9h-0.9zM289.8 60.9h0.9v0.9h-0.9zM294.9 59.7h0.9v0.9h-0.9zM296.2 57.6h0.9v0.9h-0.9zM289.1 58.9h0.9v0.9h-0.9zM304.2 57.6h0.9v0.9h-0.9zM303.9 59.5h0.9v0.9h-0.9zM289.5 59.6h0.9v0.9h-0.9zM299.3 57.8h0.9v0.9h-0.9zM283.6 59.8h0.9v0.9h-0.9zM289.5 59.9h0.9v0.9h-0.9zM284.8 59.0h0.9v0.9h-0.9zM291.3 56.9h0.9v0.9h-0.9zM294.6 59.5h0.9v0.9h-0.9zM292.7 57.4h0.9v0.9h-0.9zM297.2 56.5h0.9v0.9h-0.9zM299.1 60.0h0.9v0.9h-0.9zM305.8 60.6h0.9v0.9h-0.9zM298.1 59.6h0.9v0.9h-0.9zM296.2 57.1h0.9v0.9h-0.9zM304.5 60.0h0.9v0.9h-0.9zM294.3 57.4h0.9v0.9h-0.9zM304.7 60.0h0.9v0.9h-0.9zM289.1 60.2h0.9v0.9h-0.9zM307.1 59.2h0.9v0.9h-0.9zM298.3 58.6h0.9v0.9h-0.9zM292.3 60.9h0.9v0.9h-0.9zM295.3 60.4h0.9v0.9h-0.9zM294.2 60.3h0.9v0.9h-0.9zM300.8 57.6h0.9v0.9h-0.9zM289.8 59.1h0.9v0.9h-0.9zM300.9 59.6h0.9v0.9h-0.9zM303.2 57.1h0.9v0.9h-0.9zM298.9 58.2h0.9v0.9h-0.9zM296.6 59.7h0.9v0.9h-0.9zM290.3 58.8h0.9v0.9h-0.9zM289.2 59.6h0.9v0.9h-0.9zM291.0 58.4h0.9v0.9h-0.9zM297.3 58.2h0.9v0.9h-0.9zM302.7 58.2h0.9v0.9h-0.9zM300.9 59.6h0.9v0.9h-0.9zM290.0 58.9h0.9v0.9h-0.9zM291.1 58.6h0.9v0.9h-0.9zM294.4 62.0h0.9v0.9h-0.9zM293.6 61.6h0.9v0.9h-0.9zM298.6 57.2h0.9v0.9h-0.9zM282.5 60.3h0.9v0.9h-0.9zM284.4 60.3h0.9v0.9h-0.9zM302.0 59.8h0.9v0.9h-0.9zM294.8 58.8h0.9v0.9h-0.9zM297.5 58.7h0.9v0.9h-0.9zM292.9 58.6h0.9v0.9h-0.9zM302.8 58.2h0.9v0.9h-0.9zM298.2 57.4h0.9v0.9h-0.9zM291.9 57.1h0.9v0.9h-0.9zM294.9 60.3h0.9v0.9h-0.9zM297.8 58.4h0.9v0.9h-0.9zM299.6 58.7h0.9v0.9h-0.9zM298.2 59.6h0.9v0.9h-0.9zM299.1 55.4h0.9v0.9h-0.9zM288.4 60.4h0.9v0.9h-0.9zM295.4 62.7h0.9v0.9h-0.9zM294.6 58.3h0.9v0.9h-0.9zM304.7 60.1h0.9v0.9h-0.9zM307.0 60.0h0.9v0.9h-0.9zM294.8 60.3h0.9v0.9h-0.9zM291.4 58.5h0.9v0.9h-0.9zM292.8 58.9h0.9v0.9h-0.9zM300.5 58.5h0.9v0.9h-0.9zM297.9 58.4h0.9v0.9h-0.9zM301.1 54.9h0.9v0.9h-0.9zM294.8 59.5h0.9v0.9h-0.9zM289.7 60.8h0.9v0.9h-0.9zM297.3 61.2h0.9v0.9h-0.9zM301.6 60.2h0.9v0.9h-0.9zM295.1 57.5h0.9v0.9h-0.9zM277.4 31.1h0.9v0.9h-0.9zM278.6 31.2h0.9v0.9h-0.9zM279.4 40.0h0.9v0.9h-0.9zM279.5 35.3h0.9v0.9h-0.9zM274.3 33.5h0.9v0.9h-0.9zM301.0 58.0h0.9v0.9h-0.9zM304.6 53.1h0.9v0.9h-0.9zM295.7 62.4h0.9v0.9h-0.9zM298.0 58.5h0.9v0.9h-0.9zM287.8 53.7h0.9v0.9h-0.9zM291.4 62.7h0.9v0.9h-0.9zM302.9 54.7h0.9v0.9h-0.9zM304.5 52.4h0.9v0.9h-0.9zM298.0 63.6h0.9v0.9h-0.9zM292.9 63.3h0.9v0.9h-0.9zM299.1 52.6h0.9v0.9h-0.9zM292.7 57.4h0.9v0.9h-0.9zM290.9 60.9h0.9v0.9h-0.9zM289.6 61.5h0.9v0.9h-0.9zM292.0 52.8h0.9v0.9h-0.9zM297.2 53.1h0.9v0.9h-0.9zM297.0 61.5h0.9v0.9h-0.9zM297.9 57.5h0.9v0.9h-0.9zM286.7 58.2h0.9v0.9h-0.9zM287.9 59.8h0.9v0.9h-0.9zM288.6 58.9h0.9v0.9h-0.9zM293.1 56.5h0.9v0.9h-0.9zM299.3 54.0h0.9v0.9h-0.9zM289.4 63.3h0.9v0.9h-0.9zM292.6 62.1h0.9v0.9h-0.9z" fill="#000"/>
<rect x="270.60" y="28.80" width="10.90" height="22.50" fill="none" stroke="#6fb24a" stroke-width="0.9" />
<rect x="285.40" y="48.50" width="22.10" height="15.90" fill="none" stroke="#4a5cab" stroke-width="0.9" />
<text x="285.20" y="35.20" font-size="6.4" text-anchor="start" fill="#79b453" >0.1</text>
<text x="297.00" y="46.40" font-size="6.4" text-anchor="start" fill="#4a5aa8" >3.2</text>
<path d="M313 61 Q318 57.5 325 58 L326 61 Q319 64 313 62.5 Z" fill="#000"/>
<path d="M322.4 59.4h0.9v0.9h-0.9zM320.8 61.0h0.9v0.9h-0.9zM321.1 60.0h0.9v0.9h-0.9zM316.3 60.5h0.9v0.9h-0.9zM322.5 61.6h0.9v0.9h-0.9zM321.9 62.0h0.9v0.9h-0.9zM317.1 60.4h0.9v0.9h-0.9zM321.0 61.8h0.9v0.9h-0.9zM320.5 61.2h0.9v0.9h-0.9zM320.4 63.3h0.9v0.9h-0.9zM313.7 60.5h0.9v0.9h-0.9zM327.2 60.8h0.9v0.9h-0.9zM314.7 60.7h0.9v0.9h-0.9zM315.9 59.6h0.9v0.9h-0.9zM320.6 62.8h0.9v0.9h-0.9zM321.3 61.4h0.9v0.9h-0.9zM322.9 60.8h0.9v0.9h-0.9zM317.5 60.4h0.9v0.9h-0.9zM321.0 60.1h0.9v0.9h-0.9zM318.1 60.0h0.9v0.9h-0.9zM315.7 59.1h0.9v0.9h-0.9zM319.7 60.0h0.9v0.9h-0.9zM320.1 62.4h0.9v0.9h-0.9zM320.9 60.5h0.9v0.9h-0.9zM316.6 59.0h0.9v0.9h-0.9zM321.1 59.3h0.9v0.9h-0.9zM321.2 59.1h0.9v0.9h-0.9zM320.4 60.4h0.9v0.9h-0.9zM322.9 60.0h0.9v0.9h-0.9zM318.9 60.8h0.9v0.9h-0.9zM320.2 62.8h0.9v0.9h-0.9zM319.3 59.8h0.9v0.9h-0.9zM319.1 61.1h0.9v0.9h-0.9zM320.7 61.4h0.9v0.9h-0.9zM316.0 63.8h0.9v0.9h-0.9zM325.3 60.5h0.9v0.9h-0.9zM316.5 60.7h0.9v0.9h-0.9zM321.2 57.5h0.9v0.9h-0.9zM320.0 58.5h0.9v0.9h-0.9zM321.3 62.4h0.9v0.9h-0.9zM323.0 58.5h0.9v0.9h-0.9zM324.0 61.7h0.9v0.9h-0.9zM319.0 61.2h0.9v0.9h-0.9zM324.4 60.1h0.9v0.9h-0.9zM320.0 59.7h0.9v0.9h-0.9zM323.3 57.6h0.9v0.9h-0.9zM324.1 59.2h0.9v0.9h-0.9zM322.7 58.3h0.9v0.9h-0.9zM317.3 59.7h0.9v0.9h-0.9zM322.4 58.3h0.9v0.9h-0.9zM321.7 59.6h0.9v0.9h-0.9zM323.6 60.1h0.9v0.9h-0.9zM321.4 60.3h0.9v0.9h-0.9zM325.2 60.0h0.9v0.9h-0.9zM319.9 63.2h0.9v0.9h-0.9zM320.2 61.4h0.9v0.9h-0.9zM317.9 60.8h0.9v0.9h-0.9zM313.5 60.6h0.9v0.9h-0.9zM318.1 58.5h0.9v0.9h-0.9zM315.9 62.0h0.9v0.9h-0.9zM321.2 58.5h0.9v0.9h-0.9zM325.2 59.6h0.9v0.9h-0.9zM318.9 60.8h0.9v0.9h-0.9zM316.7 58.3h0.9v0.9h-0.9zM317.8 62.1h0.9v0.9h-0.9zM322.7 58.4h0.9v0.9h-0.9zM323.5 60.5h0.9v0.9h-0.9zM321.4 60.6h0.9v0.9h-0.9zM321.2 59.2h0.9v0.9h-0.9zM317.4 59.6h0.9v0.9h-0.9zM318.9 61.3h0.9v0.9h-0.9zM316.5 62.6h0.9v0.9h-0.9zM318.2 59.7h0.9v0.9h-0.9zM322.0 61.1h0.9v0.9h-0.9zM319.0 59.1h0.9v0.9h-0.9zM317.1 58.3h0.9v0.9h-0.9zM323.3 62.0h0.9v0.9h-0.9zM325.4 61.2h0.9v0.9h-0.9zM321.0 61.5h0.9v0.9h-0.9zM322.7 60.2h0.9v0.9h-0.9zM321.0 63.4h0.9v0.9h-0.9zM315.1 58.6h0.9v0.9h-0.9zM317.2 61.5h0.9v0.9h-0.9zM323.4 60.0h0.9v0.9h-0.9zM321.9 60.4h0.9v0.9h-0.9zM320.9 59.8h0.9v0.9h-0.9zM319.9 60.5h0.9v0.9h-0.9zM323.3 63.5h0.9v0.9h-0.9zM314.8 61.2h0.9v0.9h-0.9zM320.0 61.8h0.9v0.9h-0.9zM323.1 61.6h0.9v0.9h-0.9zM322.3 59.2h0.9v0.9h-0.9zM315.1 62.8h0.9v0.9h-0.9zM323.5 59.2h0.9v0.9h-0.9zM323.7 61.4h0.9v0.9h-0.9zM312.9 61.7h0.9v0.9h-0.9zM317.1 62.1h0.9v0.9h-0.9zM318.0 59.5h0.9v0.9h-0.9zM315.5 60.2h0.9v0.9h-0.9zM322.9 59.6h0.9v0.9h-0.9zM314.6 63.4h0.9v0.9h-0.9zM325.3 61.4h0.9v0.9h-0.9zM318.4 58.9h0.9v0.9h-0.9zM315.3 61.3h0.9v0.9h-0.9zM323.8 59.1h0.9v0.9h-0.9zM320.0 60.1h0.9v0.9h-0.9zM319.3 61.2h0.9v0.9h-0.9zM326.0 59.6h0.9v0.9h-0.9zM322.5 62.0h0.9v0.9h-0.9zM319.2 60.3h0.9v0.9h-0.9zM316.1 62.0h0.9v0.9h-0.9zM318.5 59.6h0.9v0.9h-0.9zM320.2 59.3h0.9v0.9h-0.9zM317.0 60.1h0.9v0.9h-0.9zM324.3 60.2h0.9v0.9h-0.9zM321.5 58.5h0.9v0.9h-0.9zM314.4 63.0h0.9v0.9h-0.9zM318.8 58.4h0.9v0.9h-0.9zM319.7 61.3h0.9v0.9h-0.9zM315.0 59.3h0.9v0.9h-0.9zM344.9 58.4h0.9v0.9h-0.9zM346.7 60.6h0.9v0.9h-0.9zM345.5 59.0h0.9v0.9h-0.9zM343.8 58.8h0.9v0.9h-0.9zM343.6 59.9h0.9v0.9h-0.9zM343.0 60.6h0.9v0.9h-0.9zM352.8 58.9h0.9v0.9h-0.9zM345.2 60.5h0.9v0.9h-0.9zM346.2 59.2h0.9v0.9h-0.9zM342.4 60.7h0.9v0.9h-0.9zM346.1 60.1h0.9v0.9h-0.9zM341.3 60.2h0.9v0.9h-0.9zM346.7 59.3h0.9v0.9h-0.9zM346.2 62.0h0.9v0.9h-0.9zM337.7 60.2h0.9v0.9h-0.9zM340.0 57.9h0.9v0.9h-0.9zM343.2 60.1h0.9v0.9h-0.9zM344.2 58.1h0.9v0.9h-0.9zM339.1 58.9h0.9v0.9h-0.9zM344.0 58.5h0.9v0.9h-0.9zM338.9 61.5h0.9v0.9h-0.9zM341.2 59.3h0.9v0.9h-0.9zM342.1 58.8h0.9v0.9h-0.9zM344.1 59.2h0.9v0.9h-0.9zM346.1 58.1h0.9v0.9h-0.9zM339.0 61.8h0.9v0.9h-0.9zM343.7 60.4h0.9v0.9h-0.9zM348.0 60.1h0.9v0.9h-0.9zM344.1 57.7h0.9v0.9h-0.9zM338.6 60.6h0.9v0.9h-0.9zM346.3 60.2h0.9v0.9h-0.9zM338.4 57.0h0.9v0.9h-0.9zM340.4 58.1h0.9v0.9h-0.9zM344.5 58.3h0.9v0.9h-0.9zM349.4 58.8h0.9v0.9h-0.9zM342.1 60.5h0.9v0.9h-0.9zM345.1 58.5h0.9v0.9h-0.9zM346.8 61.7h0.9v0.9h-0.9zM339.8 59.2h0.9v0.9h-0.9zM340.3 57.2h0.9v0.9h-0.9zM346.1 60.3h0.9v0.9h-0.9zM347.3 60.0h0.9v0.9h-0.9zM337.2 59.5h0.9v0.9h-0.9zM341.7 58.1h0.9v0.9h-0.9zM340.2 60.4h0.9v0.9h-0.9zM343.0 61.8h0.9v0.9h-0.9zM345.6 57.3h0.9v0.9h-0.9zM347.0 61.0h0.9v0.9h-0.9zM344.1 58.1h0.9v0.9h-0.9zM350.0 58.0h0.9v0.9h-0.9zM343.7 57.3h0.9v0.9h-0.9zM339.7 57.5h0.9v0.9h-0.9zM347.7 60.9h0.9v0.9h-0.9zM342.6 57.9h0.9v0.9h-0.9zM343.8 59.9h0.9v0.9h-0.9zM338.8 58.1h0.9v0.9h-0.9zM343.7 60.3h0.9v0.9h-0.9zM344.3 60.0h0.9v0.9h-0.9zM339.7 56.6h0.9v0.9h-0.9zM345.1 58.4h0.9v0.9h-0.9zM343.6 59.1h0.9v0.9h-0.9zM345.6 58.6h0.9v0.9h-0.9zM348.9 59.5h0.9v0.9h-0.9zM345.8 60.2h0.9v0.9h-0.9zM347.5 60.0h0.9v0.9h-0.9zM338.0 58.8h0.9v0.9h-0.9zM350.4 60.1h0.9v0.9h-0.9zM345.9 60.0h0.9v0.9h-0.9zM341.8 58.7h0.9v0.9h-0.9zM341.8 60.9h0.9v0.9h-0.9zM345.2 61.6h0.9v0.9h-0.9zM345.7 61.7h0.9v0.9h-0.9zM345.6 58.1h0.9v0.9h-0.9zM350.0 59.9h0.9v0.9h-0.9zM348.1 59.8h0.9v0.9h-0.9zM342.9 59.7h0.9v0.9h-0.9zM340.2 58.1h0.9v0.9h-0.9zM341.0 58.9h0.9v0.9h-0.9zM339.3 59.4h0.9v0.9h-0.9zM345.0 61.9h0.9v0.9h-0.9zM350.3 59.4h0.9v0.9h-0.9zM347.0 59.2h0.9v0.9h-0.9zM345.3 59.5h0.9v0.9h-0.9zM342.1 59.6h0.9v0.9h-0.9zM338.9 60.0h0.9v0.9h-0.9zM343.0 58.2h0.9v0.9h-0.9zM342.8 60.2h0.9v0.9h-0.9zM341.7 60.1h0.9v0.9h-0.9zM346.0 61.3h0.9v0.9h-0.9zM340.3 59.4h0.9v0.9h-0.9zM345.8 61.3h0.9v0.9h-0.9zM344.9 60.4h0.9v0.9h-0.9zM338.9 58.8h0.9v0.9h-0.9zM349.7 59.2h0.9v0.9h-0.9zM351.5 58.6h0.9v0.9h-0.9zM343.0 57.6h0.9v0.9h-0.9zM346.2 59.8h0.9v0.9h-0.9zM351.0 59.7h0.9v0.9h-0.9zM343.1 57.8h0.9v0.9h-0.9zM343.7 60.6h0.9v0.9h-0.9zM346.6 61.0h0.9v0.9h-0.9zM347.0 59.4h0.9v0.9h-0.9zM346.1 59.7h0.9v0.9h-0.9zM339.4 61.5h0.9v0.9h-0.9zM345.3 58.3h0.9v0.9h-0.9zM345.3 59.8h0.9v0.9h-0.9zM347.4 61.2h0.9v0.9h-0.9zM333.5 60.2h0.9v0.9h-0.9zM349.3 58.4h0.9v0.9h-0.9zM337.6 59.8h0.9v0.9h-0.9zM332.8 56.8h0.9v0.9h-0.9zM342.4 59.6h0.9v0.9h-0.9zM334.6 57.8h0.9v0.9h-0.9zM330.5 62.4h0.9v0.9h-0.9zM345.6 62.6h0.9v0.9h-0.9zM351.6 59.1h0.9v0.9h-0.9zM346.1 58.7h0.9v0.9h-0.9zM347.9 61.9h0.9v0.9h-0.9zM332.9 56.1h0.9v0.9h-0.9zM334.7 60.1h0.9v0.9h-0.9zM338.3 56.1h0.9v0.9h-0.9zM348.3 61.5h0.9v0.9h-0.9zM340.2 56.3h0.9v0.9h-0.9zM349.6 59.7h0.9v0.9h-0.9zM331.6 58.3h0.9v0.9h-0.9zM343.7 62.2h0.9v0.9h-0.9zM340.7 60.5h0.9v0.9h-0.9zM334.5 57.7h0.9v0.9h-0.9zM349.9 58.7h0.9v0.9h-0.9zM332.3 60.1h0.9v0.9h-0.9zM318.5 38.0h0.9v0.9h-0.9z" fill="#000"/>
<rect x="314.40" y="30.40" width="10.00" height="21.90" fill="none" stroke="#6fb24a" stroke-width="0.9" />
<rect x="329.20" y="49.00" width="24.10" height="15.40" fill="none" stroke="#4a5cab" stroke-width="0.9" />
<text x="329.20" y="35.20" font-size="6.4" text-anchor="start" fill="#79b453" >&gt;0.1</text>
<text x="341.00" y="46.40" font-size="6.4" text-anchor="start" fill="#4a5aa8" >3.2</text>
<ellipse cx="230.50" cy="107.00" rx="3.20" ry="3.20" fill="#000" opacity="1"/>
<path d="M237.8 104 Q241 100.5 245 100 Q249 97 252 97.5 Q256 98.5 258 101 Q260 103 260 106 L259.5 109 Q250 110 238 109.3 Z" fill="#000"/>
<path d="M231.3 107.5h0.9v0.9h-0.9zM222.6 107.2h0.9v0.9h-0.9zM223.9 104.1h0.9v0.9h-0.9zM227.3 106.8h0.9v0.9h-0.9zM228.7 105.8h0.9v0.9h-0.9zM224.0 106.9h0.9v0.9h-0.9zM225.3 103.7h0.9v0.9h-0.9zM229.5 109.4h0.9v0.9h-0.9zM227.0 104.4h0.9v0.9h-0.9zM235.9 109.9h0.9v0.9h-0.9zM227.5 106.1h0.9v0.9h-0.9zM230.1 112.4h0.9v0.9h-0.9zM229.7 108.5h0.9v0.9h-0.9zM231.2 102.9h0.9v0.9h-0.9zM223.5 104.0h0.9v0.9h-0.9zM231.2 106.7h0.9v0.9h-0.9zM237.9 106.0h0.9v0.9h-0.9zM230.5 106.6h0.9v0.9h-0.9zM229.7 111.1h0.9v0.9h-0.9zM230.4 109.4h0.9v0.9h-0.9zM235.5 105.3h0.9v0.9h-0.9zM232.4 105.7h0.9v0.9h-0.9zM229.5 106.8h0.9v0.9h-0.9zM229.1 105.6h0.9v0.9h-0.9zM236.8 106.0h0.9v0.9h-0.9zM232.5 109.8h0.9v0.9h-0.9zM232.1 108.5h0.9v0.9h-0.9zM235.9 108.7h0.9v0.9h-0.9zM237.6 103.7h0.9v0.9h-0.9zM238.8 106.6h0.9v0.9h-0.9zM220.3 105.2h0.9v0.9h-0.9zM222.0 106.5h0.9v0.9h-0.9zM221.6 104.5h0.9v0.9h-0.9zM230.5 106.8h0.9v0.9h-0.9zM225.0 106.0h0.9v0.9h-0.9zM228.5 106.6h0.9v0.9h-0.9zM229.0 106.1h0.9v0.9h-0.9zM233.4 103.3h0.9v0.9h-0.9zM226.5 106.8h0.9v0.9h-0.9zM227.0 105.4h0.9v0.9h-0.9zM226.8 106.9h0.9v0.9h-0.9zM235.2 106.1h0.9v0.9h-0.9zM227.7 107.2h0.9v0.9h-0.9zM227.8 102.6h0.9v0.9h-0.9zM230.3 105.7h0.9v0.9h-0.9zM226.1 107.8h0.9v0.9h-0.9zM229.2 105.4h0.9v0.9h-0.9zM229.1 106.3h0.9v0.9h-0.9zM231.2 106.9h0.9v0.9h-0.9zM226.6 104.0h0.9v0.9h-0.9zM223.5 106.2h0.9v0.9h-0.9zM223.3 108.0h0.9v0.9h-0.9zM222.4 102.9h0.9v0.9h-0.9zM228.0 103.0h0.9v0.9h-0.9zM237.1 104.5h0.9v0.9h-0.9zM228.7 106.0h0.9v0.9h-0.9zM224.9 103.0h0.9v0.9h-0.9zM234.1 110.8h0.9v0.9h-0.9zM221.7 107.6h0.9v0.9h-0.9zM228.9 108.2h0.9v0.9h-0.9zM226.4 107.9h0.9v0.9h-0.9zM233.5 107.7h0.9v0.9h-0.9zM236.2 106.2h0.9v0.9h-0.9zM236.7 105.1h0.9v0.9h-0.9zM237.3 101.0h0.9v0.9h-0.9zM229.1 104.9h0.9v0.9h-0.9zM229.0 108.6h0.9v0.9h-0.9zM232.6 106.7h0.9v0.9h-0.9zM237.5 103.5h0.9v0.9h-0.9zM224.9 109.5h0.9v0.9h-0.9zM230.6 102.4h0.9v0.9h-0.9zM230.7 104.1h0.9v0.9h-0.9zM236.4 108.8h0.9v0.9h-0.9zM226.3 109.1h0.9v0.9h-0.9zM224.8 108.3h0.9v0.9h-0.9zM231.9 106.2h0.9v0.9h-0.9zM221.9 105.9h0.9v0.9h-0.9zM224.2 101.6h0.9v0.9h-0.9zM231.9 107.2h0.9v0.9h-0.9zM226.5 110.7h0.9v0.9h-0.9zM232.9 106.6h0.9v0.9h-0.9zM225.8 100.6h0.9v0.9h-0.9zM231.4 108.4h0.9v0.9h-0.9zM226.0 103.7h0.9v0.9h-0.9zM228.8 103.2h0.9v0.9h-0.9zM229.0 108.0h0.9v0.9h-0.9zM236.5 107.0h0.9v0.9h-0.9zM230.0 108.0h0.9v0.9h-0.9zM236.0 105.9h0.9v0.9h-0.9zM222.9 104.9h0.9v0.9h-0.9zM222.7 104.7h0.9v0.9h-0.9zM228.4 107.2h0.9v0.9h-0.9zM229.8 106.6h0.9v0.9h-0.9zM227.2 107.3h0.9v0.9h-0.9zM233.4 108.0h0.9v0.9h-0.9zM236.5 105.9h0.9v0.9h-0.9zM227.7 109.9h0.9v0.9h-0.9zM230.0 107.3h0.9v0.9h-0.9zM227.3 108.4h0.9v0.9h-0.9zM227.0 104.5h0.9v0.9h-0.9zM228.7 105.6h0.9v0.9h-0.9zM233.2 105.7h0.9v0.9h-0.9zM229.6 106.1h0.9v0.9h-0.9zM230.7 105.2h0.9v0.9h-0.9zM234.5 103.7h0.9v0.9h-0.9zM227.1 105.1h0.9v0.9h-0.9zM232.2 106.6h0.9v0.9h-0.9zM231.4 105.8h0.9v0.9h-0.9zM225.4 104.3h0.9v0.9h-0.9zM227.3 105.4h0.9v0.9h-0.9zM230.4 107.2h0.9v0.9h-0.9zM233.9 106.3h0.9v0.9h-0.9zM225.3 104.4h0.9v0.9h-0.9zM229.3 107.2h0.9v0.9h-0.9zM238.7 106.9h0.9v0.9h-0.9zM237.8 110.2h0.9v0.9h-0.9zM223.8 108.9h0.9v0.9h-0.9zM234.7 109.2h0.9v0.9h-0.9zM229.0 108.4h0.9v0.9h-0.9zM226.6 106.4h0.9v0.9h-0.9zM229.1 110.1h0.9v0.9h-0.9zM227.9 108.4h0.9v0.9h-0.9zM229.3 105.1h0.9v0.9h-0.9zM230.2 107.8h0.9v0.9h-0.9zM225.4 107.8h0.9v0.9h-0.9zM225.4 104.7h0.9v0.9h-0.9zM230.1 106.0h0.9v0.9h-0.9zM224.1 103.2h0.9v0.9h-0.9zM229.1 107.0h0.9v0.9h-0.9zM226.7 106.9h0.9v0.9h-0.9zM221.4 107.3h0.9v0.9h-0.9zM231.1 107.1h0.9v0.9h-0.9zM225.9 106.7h0.9v0.9h-0.9zM229.7 108.6h0.9v0.9h-0.9zM230.4 107.0h0.9v0.9h-0.9zM225.4 108.2h0.9v0.9h-0.9zM234.9 105.5h0.9v0.9h-0.9zM232.2 107.1h0.9v0.9h-0.9zM228.8 103.9h0.9v0.9h-0.9zM237.8 102.8h0.9v0.9h-0.9zM230.5 105.7h0.9v0.9h-0.9zM234.7 105.7h0.9v0.9h-0.9zM229.2 107.7h0.9v0.9h-0.9zM231.3 105.5h0.9v0.9h-0.9zM232.4 107.3h0.9v0.9h-0.9zM233.9 105.5h0.9v0.9h-0.9zM228.8 105.7h0.9v0.9h-0.9zM224.8 107.0h0.9v0.9h-0.9zM231.0 109.3h0.9v0.9h-0.9zM227.4 107.3h0.9v0.9h-0.9zM234.7 106.3h0.9v0.9h-0.9zM229.3 106.8h0.9v0.9h-0.9zM225.6 104.5h0.9v0.9h-0.9zM234.6 106.8h0.9v0.9h-0.9zM228.6 104.0h0.9v0.9h-0.9zM229.6 108.8h0.9v0.9h-0.9zM223.3 104.7h0.9v0.9h-0.9zM234.5 109.4h0.9v0.9h-0.9zM236.7 105.4h0.9v0.9h-0.9zM232.0 105.0h0.9v0.9h-0.9zM231.6 105.8h0.9v0.9h-0.9zM230.0 109.2h0.9v0.9h-0.9zM230.7 106.0h0.9v0.9h-0.9zM229.3 107.0h0.9v0.9h-0.9zM226.4 106.9h0.9v0.9h-0.9zM232.0 109.6h0.9v0.9h-0.9zM222.8 108.2h0.9v0.9h-0.9zM241.1 106.9h0.9v0.9h-0.9zM229.6 108.8h0.9v0.9h-0.9zM226.5 105.5h0.9v0.9h-0.9zM230.7 105.3h0.9v0.9h-0.9zM234.5 106.5h0.9v0.9h-0.9zM230.9 111.5h0.9v0.9h-0.9zM226.8 108.3h0.9v0.9h-0.9zM224.9 109.0h0.9v0.9h-0.9zM233.8 106.8h0.9v0.9h-0.9zM233.9 109.7h0.9v0.9h-0.9zM235.8 106.5h0.9v0.9h-0.9zM228.7 108.7h0.9v0.9h-0.9zM221.7 105.3h0.9v0.9h-0.9zM231.4 107.6h0.9v0.9h-0.9zM238.2 110.0h0.9v0.9h-0.9zM230.6 107.4h0.9v0.9h-0.9zM222.5 106.1h0.9v0.9h-0.9zM230.3 106.1h0.9v0.9h-0.9zM229.3 107.7h0.9v0.9h-0.9zM224.3 105.4h0.9v0.9h-0.9zM220.2 108.8h0.9v0.9h-0.9zM223.8 103.1h0.9v0.9h-0.9zM232.8 106.1h0.9v0.9h-0.9zM233.8 105.8h0.9v0.9h-0.9zM239.5 107.9h0.9v0.9h-0.9zM229.7 106.7h0.9v0.9h-0.9zM228.0 108.1h0.9v0.9h-0.9zM238.9 105.7h0.9v0.9h-0.9zM223.6 107.7h0.9v0.9h-0.9zM234.3 103.5h0.9v0.9h-0.9zM225.6 104.5h0.9v0.9h-0.9zM231.8 107.5h0.9v0.9h-0.9zM225.4 104.3h0.9v0.9h-0.9zM232.4 102.4h0.9v0.9h-0.9zM232.2 106.2h0.9v0.9h-0.9zM238.5 108.5h0.9v0.9h-0.9zM226.1 106.0h0.9v0.9h-0.9zM227.6 105.1h0.9v0.9h-0.9zM229.4 108.4h0.9v0.9h-0.9zM221.6 106.1h0.9v0.9h-0.9zM236.4 108.0h0.9v0.9h-0.9zM225.0 104.9h0.9v0.9h-0.9zM224.8 103.3h0.9v0.9h-0.9zM234.7 106.6h0.9v0.9h-0.9zM225.6 103.7h0.9v0.9h-0.9zM227.1 105.5h0.9v0.9h-0.9zM237.5 105.6h0.9v0.9h-0.9zM229.6 108.6h0.9v0.9h-0.9zM232.3 106.1h0.9v0.9h-0.9zM231.9 105.6h0.9v0.9h-0.9zM228.6 104.6h0.9v0.9h-0.9zM224.6 103.6h0.9v0.9h-0.9zM231.5 107.5h0.9v0.9h-0.9zM229.9 108.0h0.9v0.9h-0.9zM231.6 106.7h0.9v0.9h-0.9zM224.7 107.7h0.9v0.9h-0.9zM234.8 107.7h0.9v0.9h-0.9zM235.1 105.6h0.9v0.9h-0.9zM224.2 109.0h0.9v0.9h-0.9zM226.1 107.0h0.9v0.9h-0.9zM228.1 106.5h0.9v0.9h-0.9zM227.7 105.4h0.9v0.9h-0.9zM220.2 110.2h0.9v0.9h-0.9zM230.0 102.7h0.9v0.9h-0.9zM224.5 104.3h0.9v0.9h-0.9zM225.4 101.5h0.9v0.9h-0.9zM231.8 109.7h0.9v0.9h-0.9zM227.8 108.0h0.9v0.9h-0.9zM231.9 104.1h0.9v0.9h-0.9zM235.0 103.2h0.9v0.9h-0.9zM226.2 105.8h0.9v0.9h-0.9zM235.2 106.7h0.9v0.9h-0.9zM228.4 104.9h0.9v0.9h-0.9zM229.4 106.6h0.9v0.9h-0.9zM232.6 109.2h0.9v0.9h-0.9zM232.6 106.5h0.9v0.9h-0.9zM228.3 109.6h0.9v0.9h-0.9zM230.0 106.5h0.9v0.9h-0.9zM237.8 109.6h0.9v0.9h-0.9zM231.8 106.3h0.9v0.9h-0.9zM225.9 108.6h0.9v0.9h-0.9zM226.8 108.4h0.9v0.9h-0.9zM225.2 106.7h0.9v0.9h-0.9zM231.0 106.8h0.9v0.9h-0.9zM230.1 107.2h0.9v0.9h-0.9zM223.5 104.3h0.9v0.9h-0.9zM228.3 110.0h0.9v0.9h-0.9zM228.4 104.7h0.9v0.9h-0.9zM225.8 106.6h0.9v0.9h-0.9zM234.8 105.4h0.9v0.9h-0.9zM231.7 106.9h0.9v0.9h-0.9zM227.3 104.7h0.9v0.9h-0.9zM228.3 105.1h0.9v0.9h-0.9zM252.4 98.7h0.9v0.9h-0.9zM256.2 105.6h0.9v0.9h-0.9zM252.7 107.6h0.9v0.9h-0.9zM252.8 98.8h0.9v0.9h-0.9zM249.3 104.7h0.9v0.9h-0.9zM244.7 100.4h0.9v0.9h-0.9zM251.7 104.9h0.9v0.9h-0.9zM246.3 102.8h0.9v0.9h-0.9zM245.8 101.9h0.9v0.9h-0.9zM248.6 106.4h0.9v0.9h-0.9zM238.8 102.6h0.9v0.9h-0.9zM259.2 104.4h0.9v0.9h-0.9zM250.0 105.8h0.9v0.9h-0.9zM242.6 100.2h0.9v0.9h-0.9zM238.5 99.5h0.9v0.9h-0.9zM250.6 105.8h0.9v0.9h-0.9zM246.4 101.6h0.9v0.9h-0.9zM251.6 105.2h0.9v0.9h-0.9zM250.6 98.3h0.9v0.9h-0.9zM245.5 96.6h0.9v0.9h-0.9zM250.5 101.2h0.9v0.9h-0.9zM244.8 107.6h0.9v0.9h-0.9zM257.4 104.8h0.9v0.9h-0.9zM250.7 104.0h0.9v0.9h-0.9zM245.3 103.4h0.9v0.9h-0.9zM244.8 103.9h0.9v0.9h-0.9zM254.6 105.8h0.9v0.9h-0.9zM242.9 103.1h0.9v0.9h-0.9zM247.3 100.1h0.9v0.9h-0.9zM249.5 102.2h0.9v0.9h-0.9zM254.8 104.7h0.9v0.9h-0.9zM244.1 103.7h0.9v0.9h-0.9zM246.7 101.8h0.9v0.9h-0.9zM245.9 106.4h0.9v0.9h-0.9zM246.4 98.8h0.9v0.9h-0.9zM244.1 105.7h0.9v0.9h-0.9zM246.8 102.6h0.9v0.9h-0.9zM240.1 104.6h0.9v0.9h-0.9zM248.7 104.3h0.9v0.9h-0.9zM254.0 105.8h0.9v0.9h-0.9zM245.0 101.9h0.9v0.9h-0.9zM258.8 105.4h0.9v0.9h-0.9zM249.9 100.5h0.9v0.9h-0.9zM254.6 104.9h0.9v0.9h-0.9zM254.1 104.2h0.9v0.9h-0.9zM249.4 102.0h0.9v0.9h-0.9zM251.0 104.2h0.9v0.9h-0.9zM253.1 106.5h0.9v0.9h-0.9zM251.0 102.0h0.9v0.9h-0.9zM254.1 107.7h0.9v0.9h-0.9zM243.7 104.6h0.9v0.9h-0.9zM252.5 105.0h0.9v0.9h-0.9zM252.2 103.3h0.9v0.9h-0.9zM248.4 108.1h0.9v0.9h-0.9zM259.9 99.7h0.9v0.9h-0.9zM233.0 104.7h0.9v0.9h-0.9zM244.7 102.1h0.9v0.9h-0.9zM238.9 104.5h0.9v0.9h-0.9zM248.7 102.0h0.9v0.9h-0.9zM254.7 110.1h0.9v0.9h-0.9zM258.3 106.7h0.9v0.9h-0.9zM246.4 105.3h0.9v0.9h-0.9zM248.8 106.6h0.9v0.9h-0.9zM252.7 103.4h0.9v0.9h-0.9zM252.5 101.5h0.9v0.9h-0.9zM254.0 107.6h0.9v0.9h-0.9zM246.7 105.0h0.9v0.9h-0.9zM238.5 106.1h0.9v0.9h-0.9zM254.5 100.7h0.9v0.9h-0.9zM260.0 103.8h0.9v0.9h-0.9zM238.1 99.8h0.9v0.9h-0.9zM254.5 102.8h0.9v0.9h-0.9zM256.0 99.3h0.9v0.9h-0.9zM248.4 106.2h0.9v0.9h-0.9zM244.7 105.4h0.9v0.9h-0.9zM246.7 104.4h0.9v0.9h-0.9zM251.0 109.6h0.9v0.9h-0.9zM241.2 105.6h0.9v0.9h-0.9zM257.3 100.4h0.9v0.9h-0.9zM249.5 109.8h0.9v0.9h-0.9zM255.6 95.4h0.9v0.9h-0.9zM247.5 98.8h0.9v0.9h-0.9zM250.9 101.5h0.9v0.9h-0.9zM245.5 101.2h0.9v0.9h-0.9zM250.9 102.2h0.9v0.9h-0.9zM243.3 102.9h0.9v0.9h-0.9zM251.6 101.2h0.9v0.9h-0.9zM256.0 99.0h0.9v0.9h-0.9zM251.6 102.4h0.9v0.9h-0.9zM258.9 101.8h0.9v0.9h-0.9zM244.8 99.9h0.9v0.9h-0.9zM242.2 102.6h0.9v0.9h-0.9zM243.0 107.6h0.9v0.9h-0.9zM251.6 98.0h0.9v0.9h-0.9zM250.3 106.0h0.9v0.9h-0.9zM249.0 104.8h0.9v0.9h-0.9zM248.3 104.1h0.9v0.9h-0.9zM250.3 101.6h0.9v0.9h-0.9zM251.2 104.0h0.9v0.9h-0.9zM248.8 101.6h0.9v0.9h-0.9zM242.6 104.2h0.9v0.9h-0.9zM254.2 96.9h0.9v0.9h-0.9zM245.6 107.2h0.9v0.9h-0.9zM254.8 101.6h0.9v0.9h-0.9zM257.5 100.8h0.9v0.9h-0.9zM244.0 108.8h0.9v0.9h-0.9zM246.2 102.9h0.9v0.9h-0.9zM238.6 100.7h0.9v0.9h-0.9zM241.6 103.1h0.9v0.9h-0.9zM237.4 106.4h0.9v0.9h-0.9zM246.8 101.9h0.9v0.9h-0.9zM245.0 105.5h0.9v0.9h-0.9zM258.7 102.4h0.9v0.9h-0.9zM259.2 107.9h0.9v0.9h-0.9zM257.5 104.3h0.9v0.9h-0.9zM239.6 105.3h0.9v0.9h-0.9zM246.4 104.0h0.9v0.9h-0.9zM237.1 102.7h0.9v0.9h-0.9zM250.5 100.9h0.9v0.9h-0.9zM250.9 108.1h0.9v0.9h-0.9zM250.5 101.6h0.9v0.9h-0.9zM243.2 104.6h0.9v0.9h-0.9zM245.3 97.3h0.9v0.9h-0.9zM250.6 105.8h0.9v0.9h-0.9zM244.0 107.5h0.9v0.9h-0.9zM252.2 106.7h0.9v0.9h-0.9zM239.3 103.5h0.9v0.9h-0.9zM259.1 109.0h0.9v0.9h-0.9zM257.3 103.5h0.9v0.9h-0.9zM250.2 101.8h0.9v0.9h-0.9zM256.0 101.6h0.9v0.9h-0.9zM249.8 97.9h0.9v0.9h-0.9zM239.5 108.4h0.9v0.9h-0.9zM249.4 104.1h0.9v0.9h-0.9zM235.1 103.4h0.9v0.9h-0.9zM233.9 103.1h0.9v0.9h-0.9zM245.6 102.9h0.9v0.9h-0.9zM241.0 99.8h0.9v0.9h-0.9zM241.2 105.3h0.9v0.9h-0.9zM248.7 105.7h0.9v0.9h-0.9zM242.2 105.1h0.9v0.9h-0.9zM246.2 103.7h0.9v0.9h-0.9zM254.9 103.6h0.9v0.9h-0.9zM246.8 98.9h0.9v0.9h-0.9zM249.4 105.6h0.9v0.9h-0.9zM245.0 103.3h0.9v0.9h-0.9zM237.8 99.8h0.9v0.9h-0.9zM251.6 107.0h0.9v0.9h-0.9zM247.0 98.9h0.9v0.9h-0.9zM246.6 99.2h0.9v0.9h-0.9zM247.2 108.8h0.9v0.9h-0.9zM250.9 103.1h0.9v0.9h-0.9zM255.6 102.5h0.9v0.9h-0.9zM251.1 104.0h0.9v0.9h-0.9zM251.8 99.5h0.9v0.9h-0.9zM253.5 105.9h0.9v0.9h-0.9zM234.5 96.1h0.9v0.9h-0.9zM243.3 107.6h0.9v0.9h-0.9zM249.1 105.4h0.9v0.9h-0.9zM252.5 105.9h0.9v0.9h-0.9zM244.9 101.9h0.9v0.9h-0.9zM251.4 105.2h0.9v0.9h-0.9zM252.7 104.4h0.9v0.9h-0.9zM245.9 106.5h0.9v0.9h-0.9zM252.0 106.4h0.9v0.9h-0.9zM232.8 106.3h0.9v0.9h-0.9zM233.4 104.1h0.9v0.9h-0.9zM244.8 103.8h0.9v0.9h-0.9zM246.0 102.6h0.9v0.9h-0.9zM250.2 104.5h0.9v0.9h-0.9zM243.9 96.5h0.9v0.9h-0.9zM244.0 105.0h0.9v0.9h-0.9zM243.6 104.7h0.9v0.9h-0.9zM246.6 100.9h0.9v0.9h-0.9zM256.5 108.1h0.9v0.9h-0.9zM248.3 103.4h0.9v0.9h-0.9zM255.1 99.8h0.9v0.9h-0.9zM243.4 106.6h0.9v0.9h-0.9zM254.8 102.1h0.9v0.9h-0.9zM244.0 104.5h0.9v0.9h-0.9zM240.0 102.1h0.9v0.9h-0.9zM247.5 96.7h0.9v0.9h-0.9zM252.8 105.6h0.9v0.9h-0.9zM255.9 99.5h0.9v0.9h-0.9zM240.7 101.2h0.9v0.9h-0.9zM240.6 109.2h0.9v0.9h-0.9zM242.7 102.6h0.9v0.9h-0.9zM250.3 104.8h0.9v0.9h-0.9zM258.3 100.5h0.9v0.9h-0.9zM254.7 103.9h0.9v0.9h-0.9zM241.5 103.9h0.9v0.9h-0.9zM240.0 108.0h0.9v0.9h-0.9zM244.3 106.3h0.9v0.9h-0.9zM257.4 101.8h0.9v0.9h-0.9zM243.2 103.9h0.9v0.9h-0.9zM242.2 106.0h0.9v0.9h-0.9zM250.1 101.4h0.9v0.9h-0.9zM244.6 105.5h0.9v0.9h-0.9zM239.6 108.2h0.9v0.9h-0.9zM243.9 103.0h0.9v0.9h-0.9zM243.0 108.0h0.9v0.9h-0.9zM254.3 107.1h0.9v0.9h-0.9zM253.2 103.8h0.9v0.9h-0.9zM260.0 105.3h0.9v0.9h-0.9zM251.8 105.1h0.9v0.9h-0.9zM253.8 104.3h0.9v0.9h-0.9zM247.9 99.1h0.9v0.9h-0.9zM235.1 101.5h0.9v0.9h-0.9zM245.1 104.2h0.9v0.9h-0.9zM248.8 98.0h0.9v0.9h-0.9zM246.8 104.3h0.9v0.9h-0.9zM256.6 100.1h0.9v0.9h-0.9zM234.4 99.1h0.9v0.9h-0.9zM251.1 103.7h0.9v0.9h-0.9zM250.0 103.9h0.9v0.9h-0.9zM246.6 99.7h0.9v0.9h-0.9zM251.9 104.6h0.9v0.9h-0.9zM252.7 107.0h0.9v0.9h-0.9zM241.0 97.0h0.9v0.9h-0.9zM237.4 109.5h0.9v0.9h-0.9zM243.1 104.6h0.9v0.9h-0.9zM248.9 105.5h0.9v0.9h-0.9zM247.9 101.8h0.9v0.9h-0.9zM250.6 105.0h0.9v0.9h-0.9zM242.7 107.2h0.9v0.9h-0.9zM256.4 104.7h0.9v0.9h-0.9zM248.3 102.8h0.9v0.9h-0.9zM238.3 105.3h0.9v0.9h-0.9zM242.7 102.1h0.9v0.9h-0.9zM255.5 100.9h0.9v0.9h-0.9zM245.6 105.9h0.9v0.9h-0.9zM256.2 101.7h0.9v0.9h-0.9zM251.5 104.9h0.9v0.9h-0.9zM241.6 106.4h0.9v0.9h-0.9zM250.8 100.2h0.9v0.9h-0.9zM240.7 105.6h0.9v0.9h-0.9zM239.5 101.6h0.9v0.9h-0.9zM235.1 107.4h0.9v0.9h-0.9zM244.8 101.9h0.9v0.9h-0.9zM245.3 105.1h0.9v0.9h-0.9zM258.5 100.7h0.9v0.9h-0.9zM251.9 98.5h0.9v0.9h-0.9zM258.9 103.3h0.9v0.9h-0.9zM244.4 107.8h0.9v0.9h-0.9zM248.3 107.3h0.9v0.9h-0.9zM256.0 108.1h0.9v0.9h-0.9zM243.8 103.7h0.9v0.9h-0.9zM251.4 103.0h0.9v0.9h-0.9zM258.9 101.5h0.9v0.9h-0.9zM255.5 107.3h0.9v0.9h-0.9zM236.3 100.8h0.9v0.9h-0.9zM243.1 102.0h0.9v0.9h-0.9zM251.5 103.0h0.9v0.9h-0.9zM249.5 102.2h0.9v0.9h-0.9zM248.5 104.9h0.9v0.9h-0.9zM253.8 101.3h0.9v0.9h-0.9zM248.3 101.4h0.9v0.9h-0.9zM247.8 99.5h0.9v0.9h-0.9zM255.2 105.4h0.9v0.9h-0.9zM248.2 101.6h0.9v0.9h-0.9zM226.4 84.2h0.9v0.9h-0.9zM225.4 95.7h0.9v0.9h-0.9zM229.8 81.4h0.9v0.9h-0.9zM225.7 90.4h0.9v0.9h-0.9zM227.3 79.6h0.9v0.9h-0.9zM225.1 90.2h0.9v0.9h-0.9zM225.0 94.6h0.9v0.9h-0.9zM226.4 87.9h0.9v0.9h-0.9zM226.8 84.7h0.9v0.9h-0.9zM226.7 86.0h0.9v0.9h-0.9zM227.9 87.0h0.9v0.9h-0.9zM226.8 84.9h0.9v0.9h-0.9zM226.2 83.8h0.9v0.9h-0.9zM226.8 96.7h0.9v0.9h-0.9zM227.8 88.7h0.9v0.9h-0.9zM228.3 92.6h0.9v0.9h-0.9zM227.0 86.7h0.9v0.9h-0.9zM225.8 88.7h0.9v0.9h-0.9zM226.5 79.6h0.9v0.9h-0.9zM225.6 97.2h0.9v0.9h-0.9zM227.0 90.0h0.9v0.9h-0.9zM227.0 85.2h0.9v0.9h-0.9zM227.2 92.9h0.9v0.9h-0.9zM226.5 90.1h0.9v0.9h-0.9zM227.7 85.1h0.9v0.9h-0.9zM227.0 83.8h0.9v0.9h-0.9zM227.3 85.7h0.9v0.9h-0.9zM227.8 83.7h0.9v0.9h-0.9zM228.3 85.9h0.9v0.9h-0.9zM226.0 83.0h0.9v0.9h-0.9zM227.4 83.2h0.9v0.9h-0.9zM228.4 93.9h0.9v0.9h-0.9zM227.3 80.4h0.9v0.9h-0.9zM226.8 83.9h0.9v0.9h-0.9zM225.2 89.6h0.9v0.9h-0.9zM228.8 84.8h0.9v0.9h-0.9zM227.5 93.9h0.9v0.9h-0.9zM225.9 85.8h0.9v0.9h-0.9zM227.0 89.9h0.9v0.9h-0.9zM225.8 88.6h0.9v0.9h-0.9zM226.7 92.3h0.9v0.9h-0.9zM225.4 84.7h0.9v0.9h-0.9zM226.3 85.9h0.9v0.9h-0.9zM227.5 84.4h0.9v0.9h-0.9zM229.3 84.0h0.9v0.9h-0.9zM227.6 92.6h0.9v0.9h-0.9zM227.7 86.5h0.9v0.9h-0.9zM226.1 86.2h0.9v0.9h-0.9zM227.4 88.1h0.9v0.9h-0.9zM227.3 90.4h0.9v0.9h-0.9zM226.0 82.8h0.9v0.9h-0.9zM228.1 85.1h0.9v0.9h-0.9zM225.4 96.8h0.9v0.9h-0.9zM226.0 82.8h0.9v0.9h-0.9zM227.7 81.8h0.9v0.9h-0.9zM226.0 92.7h0.9v0.9h-0.9zM226.1 100.0h0.9v0.9h-0.9zM226.9 100.9h0.9v0.9h-0.9zM226.9 87.8h0.9v0.9h-0.9zM226.2 86.4h0.9v0.9h-0.9zM226.3 87.4h0.9v0.9h-0.9zM227.5 81.1h0.9v0.9h-0.9zM226.0 77.0h0.9v0.9h-0.9zM228.2 87.1h0.9v0.9h-0.9zM226.8 87.2h0.9v0.9h-0.9zM227.7 89.1h0.9v0.9h-0.9zM227.6 86.7h0.9v0.9h-0.9zM226.7 87.2h0.9v0.9h-0.9zM225.1 92.9h0.9v0.9h-0.9zM225.4 82.5h0.9v0.9h-0.9zM236.3 81.4h0.9v0.9h-0.9zM240.3 92.1h0.9v0.9h-0.9zM238.4 93.8h0.9v0.9h-0.9zM242.4 93.0h0.9v0.9h-0.9zM248.4 83.5h0.9v0.9h-0.9zM259.2 84.9h0.9v0.9h-0.9zM252.7 79.1h0.9v0.9h-0.9zM255.9 94.7h0.9v0.9h-0.9zM238.7 90.7h0.9v0.9h-0.9zM242.5 80.5h0.9v0.9h-0.9zM244.7 89.3h0.9v0.9h-0.9zM258.9 94.9h0.9v0.9h-0.9zM259.8 88.6h0.9v0.9h-0.9zM251.7 80.7h0.9v0.9h-0.9zM231.6 107.1h0.9v0.9h-0.9zM225.7 110.9h0.9v0.9h-0.9zM224.1 102.6h0.9v0.9h-0.9zM222.5 102.6h0.9v0.9h-0.9zM229.4 109.8h0.9v0.9h-0.9zM222.6 106.5h0.9v0.9h-0.9zM229.2 107.2h0.9v0.9h-0.9zM226.6 107.0h0.9v0.9h-0.9zM220.2 101.6h0.9v0.9h-0.9zM226.8 103.6h0.9v0.9h-0.9zM232.1 103.7h0.9v0.9h-0.9zM233.2 103.7h0.9v0.9h-0.9zM221.5 106.3h0.9v0.9h-0.9zM226.2 104.7h0.9v0.9h-0.9zM232.2 103.4h0.9v0.9h-0.9zM230.7 110.2h0.9v0.9h-0.9zM227.2 106.5h0.9v0.9h-0.9zM234.8 107.6h0.9v0.9h-0.9zM222.9 101.8h0.9v0.9h-0.9zM221.3 104.6h0.9v0.9h-0.9zM221.4 108.1h0.9v0.9h-0.9zM226.8 104.4h0.9v0.9h-0.9zM228.2 111.3h0.9v0.9h-0.9zM223.9 102.7h0.9v0.9h-0.9zM224.9 104.6h0.9v0.9h-0.9zM234.6 108.8h0.9v0.9h-0.9zM226.9 102.8h0.9v0.9h-0.9zM220.7 102.3h0.9v0.9h-0.9zM233.6 108.1h0.9v0.9h-0.9zM222.5 107.9h0.9v0.9h-0.9z" fill="#000"/>
<path d="M240.2 103.8h0.6v0.6h-0.6zM245.7 100.0h0.6v0.6h-0.6zM253.8 105.8h0.6v0.6h-0.6zM249.2 100.6h0.6v0.6h-0.6zM252.4 103.1h0.6v0.6h-0.6zM252.2 99.9h0.6v0.6h-0.6zM257.1 99.0h0.6v0.6h-0.6zM243.5 102.8h0.6v0.6h-0.6zM243.0 99.8h0.6v0.6h-0.6zM252.7 108.4h0.6v0.6h-0.6zM245.7 101.5h0.6v0.6h-0.6zM252.4 101.1h0.6v0.6h-0.6zM247.0 105.5h0.6v0.6h-0.6zM247.6 100.5h0.6v0.6h-0.6zM240.4 104.2h0.6v0.6h-0.6zM258.8 107.7h0.6v0.6h-0.6zM241.0 103.8h0.6v0.6h-0.6zM248.8 100.8h0.6v0.6h-0.6zM252.4 103.7h0.6v0.6h-0.6zM255.2 101.8h0.6v0.6h-0.6zM257.7 106.7h0.6v0.6h-0.6zM248.5 100.3h0.6v0.6h-0.6zM248.7 100.2h0.6v0.6h-0.6zM252.7 105.6h0.6v0.6h-0.6zM250.6 108.3h0.6v0.6h-0.6zM239.9 105.8h0.6v0.6h-0.6zM255.0 100.1h0.6v0.6h-0.6zM245.4 99.5h0.6v0.6h-0.6zM250.7 105.9h0.6v0.6h-0.6zM246.0 105.6h0.6v0.6h-0.6zM246.3 105.8h0.6v0.6h-0.6zM244.5 108.3h0.6v0.6h-0.6zM247.8 99.0h0.6v0.6h-0.6zM240.8 105.9h0.6v0.6h-0.6zM256.3 105.0h0.6v0.6h-0.6z" fill="#fff"/>
<rect x="222.50" y="76.20" width="11.20" height="23.40" fill="none" stroke="#6fb24a" stroke-width="0.9" />
<rect x="237.40" y="95.60" width="23.30" height="15.60" fill="none" stroke="#4a5cab" stroke-width="0.9" />
<text x="235.90" y="81.30" font-size="6.4" text-anchor="start" fill="#79b453" >1.1</text>
<text x="246.60" y="93.80" font-size="6.4" text-anchor="start" fill="#4a5aa8" >24.5</text>
<ellipse cx="278.80" cy="107.70" rx="4.20" ry="4.60" fill="#000" opacity="1"/>
<path d="M281.6 112.2h0.9v0.9h-0.9zM278.5 106.4h0.9v0.9h-0.9zM276.1 110.4h0.9v0.9h-0.9zM279.5 107.7h0.9v0.9h-0.9zM275.7 112.1h0.9v0.9h-0.9zM281.0 107.6h0.9v0.9h-0.9zM282.5 105.1h0.9v0.9h-0.9zM281.0 105.0h0.9v0.9h-0.9zM282.3 107.0h0.9v0.9h-0.9zM281.9 106.6h0.9v0.9h-0.9zM279.8 110.8h0.9v0.9h-0.9zM276.5 108.0h0.9v0.9h-0.9zM276.7 110.0h0.9v0.9h-0.9zM277.3 106.7h0.9v0.9h-0.9zM278.3 110.8h0.9v0.9h-0.9zM276.2 107.6h0.9v0.9h-0.9zM278.0 106.2h0.9v0.9h-0.9zM276.8 107.3h0.9v0.9h-0.9zM279.3 103.5h0.9v0.9h-0.9zM279.4 104.5h0.9v0.9h-0.9zM278.8 113.9h0.9v0.9h-0.9zM276.4 107.5h0.9v0.9h-0.9zM278.2 110.4h0.9v0.9h-0.9zM277.6 102.9h0.9v0.9h-0.9zM274.8 108.2h0.9v0.9h-0.9zM279.4 110.6h0.9v0.9h-0.9zM277.5 109.5h0.9v0.9h-0.9zM276.1 111.2h0.9v0.9h-0.9zM278.6 105.9h0.9v0.9h-0.9zM279.2 112.4h0.9v0.9h-0.9zM276.7 104.4h0.9v0.9h-0.9zM276.3 104.6h0.9v0.9h-0.9zM278.7 108.6h0.9v0.9h-0.9zM278.4 108.2h0.9v0.9h-0.9zM281.8 106.9h0.9v0.9h-0.9zM275.7 101.5h0.9v0.9h-0.9zM279.4 105.9h0.9v0.9h-0.9zM278.2 108.8h0.9v0.9h-0.9zM280.0 103.5h0.9v0.9h-0.9zM276.4 107.9h0.9v0.9h-0.9zM278.4 110.8h0.9v0.9h-0.9zM277.5 102.1h0.9v0.9h-0.9zM281.7 103.3h0.9v0.9h-0.9zM276.4 108.8h0.9v0.9h-0.9zM276.2 114.4h0.9v0.9h-0.9zM279.4 109.1h0.9v0.9h-0.9zM277.7 113.7h0.9v0.9h-0.9zM280.1 105.8h0.9v0.9h-0.9zM281.9 103.1h0.9v0.9h-0.9zM277.3 108.5h0.9v0.9h-0.9zM279.1 105.1h0.9v0.9h-0.9zM282.8 111.7h0.9v0.9h-0.9zM276.5 108.7h0.9v0.9h-0.9zM277.2 106.5h0.9v0.9h-0.9zM281.3 108.0h0.9v0.9h-0.9zM278.5 108.0h0.9v0.9h-0.9zM275.9 111.0h0.9v0.9h-0.9zM276.9 111.2h0.9v0.9h-0.9zM277.7 106.5h0.9v0.9h-0.9zM282.5 108.2h0.9v0.9h-0.9zM277.2 106.3h0.9v0.9h-0.9zM280.3 112.8h0.9v0.9h-0.9zM280.3 106.6h0.9v0.9h-0.9zM276.0 105.9h0.9v0.9h-0.9zM278.5 108.4h0.9v0.9h-0.9zM277.2 111.2h0.9v0.9h-0.9zM276.4 105.8h0.9v0.9h-0.9zM280.0 109.0h0.9v0.9h-0.9zM277.8 110.3h0.9v0.9h-0.9zM275.3 112.1h0.9v0.9h-0.9zM284.3 113.0h0.9v0.9h-0.9zM279.1 113.0h0.9v0.9h-0.9zM278.9 111.3h0.9v0.9h-0.9zM278.3 108.2h0.9v0.9h-0.9zM280.1 103.0h0.9v0.9h-0.9zM278.3 112.3h0.9v0.9h-0.9zM271.5 108.7h0.9v0.9h-0.9zM281.1 108.6h0.9v0.9h-0.9zM279.3 111.4h0.9v0.9h-0.9zM279.6 102.6h0.9v0.9h-0.9zM276.4 106.9h0.9v0.9h-0.9zM279.2 106.5h0.9v0.9h-0.9zM278.5 112.2h0.9v0.9h-0.9zM271.5 110.8h0.9v0.9h-0.9zM281.1 109.3h0.9v0.9h-0.9zM278.8 107.9h0.9v0.9h-0.9zM279.7 108.4h0.9v0.9h-0.9zM277.0 109.8h0.9v0.9h-0.9zM276.7 107.6h0.9v0.9h-0.9zM277.9 104.6h0.9v0.9h-0.9zM280.3 107.5h0.9v0.9h-0.9zM275.9 107.5h0.9v0.9h-0.9zM275.4 111.6h0.9v0.9h-0.9zM280.1 113.1h0.9v0.9h-0.9zM277.4 109.6h0.9v0.9h-0.9zM276.4 105.4h0.9v0.9h-0.9zM278.6 108.8h0.9v0.9h-0.9zM281.1 107.0h0.9v0.9h-0.9zM281.6 110.3h0.9v0.9h-0.9zM276.6 107.2h0.9v0.9h-0.9zM276.5 112.3h0.9v0.9h-0.9zM277.4 110.1h0.9v0.9h-0.9zM281.1 107.0h0.9v0.9h-0.9zM277.6 108.6h0.9v0.9h-0.9zM276.9 104.3h0.9v0.9h-0.9zM276.4 108.6h0.9v0.9h-0.9zM279.3 112.4h0.9v0.9h-0.9zM274.2 109.1h0.9v0.9h-0.9zM275.9 110.8h0.9v0.9h-0.9zM280.5 108.0h0.9v0.9h-0.9zM282.5 106.7h0.9v0.9h-0.9zM277.5 104.9h0.9v0.9h-0.9zM277.2 108.0h0.9v0.9h-0.9zM280.5 111.1h0.9v0.9h-0.9zM278.1 105.7h0.9v0.9h-0.9zM278.0 106.5h0.9v0.9h-0.9zM277.6 106.6h0.9v0.9h-0.9zM276.6 107.6h0.9v0.9h-0.9zM277.5 107.2h0.9v0.9h-0.9zM275.4 108.1h0.9v0.9h-0.9zM280.2 109.4h0.9v0.9h-0.9zM277.4 104.6h0.9v0.9h-0.9zM275.6 104.6h0.9v0.9h-0.9zM277.2 106.9h0.9v0.9h-0.9zM274.4 109.5h0.9v0.9h-0.9zM275.0 105.9h0.9v0.9h-0.9zM277.0 109.9h0.9v0.9h-0.9zM283.4 106.8h0.9v0.9h-0.9zM278.1 106.7h0.9v0.9h-0.9zM278.3 107.2h0.9v0.9h-0.9zM284.9 104.8h0.9v0.9h-0.9zM278.5 105.6h0.9v0.9h-0.9zM279.7 106.3h0.9v0.9h-0.9zM280.2 104.8h0.9v0.9h-0.9zM284.0 108.3h0.9v0.9h-0.9zM274.4 109.6h0.9v0.9h-0.9zM277.6 104.6h0.9v0.9h-0.9zM279.9 106.3h0.9v0.9h-0.9zM280.6 106.2h0.9v0.9h-0.9zM281.0 108.1h0.9v0.9h-0.9zM279.7 108.1h0.9v0.9h-0.9zM277.9 106.7h0.9v0.9h-0.9zM279.9 109.6h0.9v0.9h-0.9zM277.8 113.7h0.9v0.9h-0.9zM283.0 104.6h0.9v0.9h-0.9zM281.5 107.5h0.9v0.9h-0.9zM279.4 105.6h0.9v0.9h-0.9zM282.9 105.5h0.9v0.9h-0.9zM278.6 105.8h0.9v0.9h-0.9zM283.6 111.0h0.9v0.9h-0.9zM275.5 106.5h0.9v0.9h-0.9zM279.7 106.6h0.9v0.9h-0.9zM277.9 104.8h0.9v0.9h-0.9zM279.4 104.8h0.9v0.9h-0.9zM280.9 114.1h0.9v0.9h-0.9zM278.0 112.1h0.9v0.9h-0.9zM279.7 105.9h0.9v0.9h-0.9zM277.9 105.1h0.9v0.9h-0.9zM279.1 109.6h0.9v0.9h-0.9zM281.1 107.0h0.9v0.9h-0.9zM275.9 107.5h0.9v0.9h-0.9zM282.9 108.5h0.9v0.9h-0.9zM278.6 102.2h0.9v0.9h-0.9zM277.7 109.1h0.9v0.9h-0.9zM276.5 111.3h0.9v0.9h-0.9zM277.4 105.4h0.9v0.9h-0.9zM277.4 107.5h0.9v0.9h-0.9zM281.3 106.2h0.9v0.9h-0.9zM274.4 107.5h0.9v0.9h-0.9zM280.1 111.8h0.9v0.9h-0.9zM276.0 111.6h0.9v0.9h-0.9zM280.5 108.9h0.9v0.9h-0.9zM276.9 105.4h0.9v0.9h-0.9zM276.4 110.2h0.9v0.9h-0.9zM279.3 110.5h0.9v0.9h-0.9zM283.3 107.8h0.9v0.9h-0.9zM278.7 112.8h0.9v0.9h-0.9zM275.6 106.5h0.9v0.9h-0.9zM277.9 106.7h0.9v0.9h-0.9zM279.2 105.5h0.9v0.9h-0.9zM281.7 104.1h0.9v0.9h-0.9zM276.8 103.2h0.9v0.9h-0.9zM275.4 109.3h0.9v0.9h-0.9zM280.3 107.2h0.9v0.9h-0.9zM280.9 109.3h0.9v0.9h-0.9zM277.4 107.6h0.9v0.9h-0.9zM279.7 113.0h0.9v0.9h-0.9zM277.7 108.7h0.9v0.9h-0.9zM280.1 110.9h0.9v0.9h-0.9zM279.8 110.5h0.9v0.9h-0.9zM276.2 107.0h0.9v0.9h-0.9zM274.0 107.6h0.9v0.9h-0.9zM284.5 108.4h0.9v0.9h-0.9zM279.0 108.4h0.9v0.9h-0.9zM279.2 104.2h0.9v0.9h-0.9zM277.1 107.3h0.9v0.9h-0.9zM279.2 105.4h0.9v0.9h-0.9zM278.5 105.8h0.9v0.9h-0.9zM275.6 106.0h0.9v0.9h-0.9zM276.8 109.9h0.9v0.9h-0.9zM294.6 108.1h0.9v0.9h-0.9zM289.3 105.9h0.9v0.9h-0.9zM284.6 106.0h0.9v0.9h-0.9zM295.4 109.3h0.9v0.9h-0.9zM290.8 106.5h0.9v0.9h-0.9zM290.0 107.8h0.9v0.9h-0.9zM290.0 107.8h0.9v0.9h-0.9zM287.3 107.1h0.9v0.9h-0.9zM288.8 109.1h0.9v0.9h-0.9zM285.7 109.5h0.9v0.9h-0.9zM289.7 106.0h0.9v0.9h-0.9zM290.1 107.3h0.9v0.9h-0.9zM289.2 107.8h0.9v0.9h-0.9zM288.0 103.7h0.9v0.9h-0.9zM292.4 107.0h0.9v0.9h-0.9zM295.7 107.8h0.9v0.9h-0.9zM283.1 109.4h0.9v0.9h-0.9zM287.6 108.1h0.9v0.9h-0.9zM297.6 109.1h0.9v0.9h-0.9zM286.2 106.8h0.9v0.9h-0.9zM284.5 108.3h0.9v0.9h-0.9zM291.9 105.0h0.9v0.9h-0.9zM291.6 108.8h0.9v0.9h-0.9zM292.8 105.7h0.9v0.9h-0.9zM287.6 104.8h0.9v0.9h-0.9zM285.6 107.6h0.9v0.9h-0.9zM290.1 109.6h0.9v0.9h-0.9zM290.9 106.4h0.9v0.9h-0.9zM285.1 110.0h0.9v0.9h-0.9zM290.6 107.0h0.9v0.9h-0.9zM286.5 105.0h0.9v0.9h-0.9zM292.2 105.1h0.9v0.9h-0.9zM292.0 108.2h0.9v0.9h-0.9zM288.7 103.9h0.9v0.9h-0.9zM291.4 109.8h0.9v0.9h-0.9zM287.2 104.6h0.9v0.9h-0.9zM293.7 107.3h0.9v0.9h-0.9zM287.9 109.4h0.9v0.9h-0.9zM289.0 107.9h0.9v0.9h-0.9zM288.6 105.6h0.9v0.9h-0.9zM290.8 105.3h0.9v0.9h-0.9zM283.9 106.0h0.9v0.9h-0.9zM294.2 109.2h0.9v0.9h-0.9zM297.5 108.9h0.9v0.9h-0.9zM295.5 107.5h0.9v0.9h-0.9zM288.5 107.9h0.9v0.9h-0.9zM286.7 108.4h0.9v0.9h-0.9zM288.5 107.5h0.9v0.9h-0.9zM287.1 106.8h0.9v0.9h-0.9zM293.4 106.6h0.9v0.9h-0.9zM287.7 107.6h0.9v0.9h-0.9zM293.0 106.7h0.9v0.9h-0.9zM286.0 104.0h0.9v0.9h-0.9zM285.4 109.1h0.9v0.9h-0.9zM289.7 107.9h0.9v0.9h-0.9zM293.7 107.6h0.9v0.9h-0.9zM291.7 106.0h0.9v0.9h-0.9zM284.5 108.2h0.9v0.9h-0.9zM289.7 108.1h0.9v0.9h-0.9zM286.3 106.7h0.9v0.9h-0.9zM296.9 105.4h0.9v0.9h-0.9zM290.3 109.6h0.9v0.9h-0.9zM289.2 107.3h0.9v0.9h-0.9zM282.7 108.5h0.9v0.9h-0.9zM288.5 109.5h0.9v0.9h-0.9zM289.7 106.3h0.9v0.9h-0.9zM291.5 106.6h0.9v0.9h-0.9zM288.2 110.0h0.9v0.9h-0.9zM293.4 107.2h0.9v0.9h-0.9zM292.8 108.6h0.9v0.9h-0.9zM274.1 81.5h0.9v0.9h-0.9zM275.1 80.8h0.9v0.9h-0.9zM274.5 81.9h0.9v0.9h-0.9z" fill="#000"/>
<rect x="270.40" y="77.30" width="11.90" height="23.10" fill="none" stroke="#6fb24a" stroke-width="0.9" />
<rect x="285.40" y="96.50" width="22.10" height="15.80" fill="none" stroke="#4a5cab" stroke-width="0.9" />
<text x="286.00" y="82.00" font-size="6.4" text-anchor="start" fill="#79b453" >&gt;0.1</text>
<text x="296.50" y="93.80" font-size="6.4" text-anchor="start" fill="#4a5aa8" >0.6</text>
<path d="M313.5 107 Q319 103.5 325 103 L327.5 105.5 L326 110 Q320 110.5 313.5 108.5 Z" fill="#000"/>
<path d="M319.3 106.4h0.9v0.9h-0.9zM322.4 104.8h0.9v0.9h-0.9zM321.0 107.8h0.9v0.9h-0.9zM321.5 106.0h0.9v0.9h-0.9zM320.9 105.7h0.9v0.9h-0.9zM324.1 105.9h0.9v0.9h-0.9zM315.8 104.4h0.9v0.9h-0.9zM321.9 106.9h0.9v0.9h-0.9zM319.5 104.3h0.9v0.9h-0.9zM320.5 105.1h0.9v0.9h-0.9zM318.9 106.5h0.9v0.9h-0.9zM318.6 107.1h0.9v0.9h-0.9zM318.7 105.7h0.9v0.9h-0.9zM320.3 109.1h0.9v0.9h-0.9zM325.9 108.2h0.9v0.9h-0.9zM318.7 106.5h0.9v0.9h-0.9zM323.9 107.9h0.9v0.9h-0.9zM315.9 106.4h0.9v0.9h-0.9zM318.7 107.8h0.9v0.9h-0.9zM323.0 105.6h0.9v0.9h-0.9zM327.7 106.0h0.9v0.9h-0.9zM328.7 106.2h0.9v0.9h-0.9zM320.7 109.8h0.9v0.9h-0.9zM319.4 105.7h0.9v0.9h-0.9zM325.6 106.5h0.9v0.9h-0.9zM322.5 104.4h0.9v0.9h-0.9zM326.6 108.2h0.9v0.9h-0.9zM322.1 107.7h0.9v0.9h-0.9zM319.4 105.7h0.9v0.9h-0.9zM316.1 107.2h0.9v0.9h-0.9zM324.9 108.0h0.9v0.9h-0.9zM323.9 107.7h0.9v0.9h-0.9zM318.1 104.3h0.9v0.9h-0.9zM323.0 106.8h0.9v0.9h-0.9zM324.1 106.1h0.9v0.9h-0.9zM318.2 107.3h0.9v0.9h-0.9zM319.3 103.7h0.9v0.9h-0.9zM319.1 105.0h0.9v0.9h-0.9zM317.5 105.6h0.9v0.9h-0.9zM324.0 110.6h0.9v0.9h-0.9zM326.4 105.8h0.9v0.9h-0.9zM324.6 106.4h0.9v0.9h-0.9zM322.3 105.4h0.9v0.9h-0.9zM320.8 103.7h0.9v0.9h-0.9zM326.6 105.2h0.9v0.9h-0.9zM322.8 105.5h0.9v0.9h-0.9zM321.8 104.5h0.9v0.9h-0.9zM319.8 108.1h0.9v0.9h-0.9zM322.9 103.2h0.9v0.9h-0.9zM323.7 104.3h0.9v0.9h-0.9zM321.9 107.4h0.9v0.9h-0.9zM319.0 106.0h0.9v0.9h-0.9zM320.2 107.2h0.9v0.9h-0.9zM323.9 108.9h0.9v0.9h-0.9zM322.0 109.9h0.9v0.9h-0.9zM318.0 109.6h0.9v0.9h-0.9zM320.2 107.8h0.9v0.9h-0.9zM320.6 106.7h0.9v0.9h-0.9zM318.1 107.2h0.9v0.9h-0.9zM327.3 106.8h0.9v0.9h-0.9zM320.9 106.5h0.9v0.9h-0.9zM323.2 106.2h0.9v0.9h-0.9zM321.0 106.9h0.9v0.9h-0.9zM325.1 108.2h0.9v0.9h-0.9zM317.7 105.4h0.9v0.9h-0.9zM321.1 108.0h0.9v0.9h-0.9zM324.0 106.2h0.9v0.9h-0.9zM327.7 106.3h0.9v0.9h-0.9zM325.4 109.0h0.9v0.9h-0.9zM326.0 106.9h0.9v0.9h-0.9zM322.8 103.9h0.9v0.9h-0.9zM315.4 105.5h0.9v0.9h-0.9zM323.3 108.3h0.9v0.9h-0.9zM320.7 108.3h0.9v0.9h-0.9zM322.8 109.1h0.9v0.9h-0.9zM316.0 105.1h0.9v0.9h-0.9zM318.0 104.7h0.9v0.9h-0.9zM326.2 104.9h0.9v0.9h-0.9zM318.4 105.8h0.9v0.9h-0.9zM323.8 105.7h0.9v0.9h-0.9zM323.3 107.5h0.9v0.9h-0.9zM319.0 102.5h0.9v0.9h-0.9zM318.1 104.4h0.9v0.9h-0.9zM326.1 105.3h0.9v0.9h-0.9zM317.6 107.2h0.9v0.9h-0.9zM321.2 104.9h0.9v0.9h-0.9zM324.4 108.1h0.9v0.9h-0.9zM321.9 105.2h0.9v0.9h-0.9zM318.3 103.0h0.9v0.9h-0.9zM322.2 107.2h0.9v0.9h-0.9zM318.1 106.6h0.9v0.9h-0.9zM331.3 104.6h0.9v0.9h-0.9zM315.6 107.6h0.9v0.9h-0.9zM319.7 105.7h0.9v0.9h-0.9zM323.0 106.3h0.9v0.9h-0.9zM324.1 107.4h0.9v0.9h-0.9zM324.6 106.7h0.9v0.9h-0.9zM314.2 108.8h0.9v0.9h-0.9zM315.7 108.3h0.9v0.9h-0.9zM321.8 104.2h0.9v0.9h-0.9zM321.2 108.0h0.9v0.9h-0.9zM317.8 106.6h0.9v0.9h-0.9zM318.7 104.8h0.9v0.9h-0.9zM319.1 108.7h0.9v0.9h-0.9zM323.2 106.5h0.9v0.9h-0.9zM320.7 106.7h0.9v0.9h-0.9zM321.9 106.8h0.9v0.9h-0.9zM315.6 108.1h0.9v0.9h-0.9zM318.3 102.1h0.9v0.9h-0.9zM323.2 104.5h0.9v0.9h-0.9zM320.6 106.4h0.9v0.9h-0.9zM319.1 107.4h0.9v0.9h-0.9zM320.1 106.0h0.9v0.9h-0.9zM318.0 106.0h0.9v0.9h-0.9zM317.7 106.6h0.9v0.9h-0.9zM325.2 108.2h0.9v0.9h-0.9zM322.3 104.2h0.9v0.9h-0.9zM324.2 108.1h0.9v0.9h-0.9zM327.5 102.7h0.9v0.9h-0.9zM321.1 105.9h0.9v0.9h-0.9zM340.3 104.3h0.9v0.9h-0.9zM334.5 111.4h0.9v0.9h-0.9zM339.9 102.4h0.9v0.9h-0.9zM336.1 109.4h0.9v0.9h-0.9zM333.6 107.8h0.9v0.9h-0.9zM336.4 103.5h0.9v0.9h-0.9zM333.5 108.9h0.9v0.9h-0.9zM340.7 105.3h0.9v0.9h-0.9zM340.4 105.0h0.9v0.9h-0.9zM337.0 106.5h0.9v0.9h-0.9zM331.1 107.2h0.9v0.9h-0.9zM334.5 100.8h0.9v0.9h-0.9zM332.7 104.7h0.9v0.9h-0.9zM332.7 104.5h0.9v0.9h-0.9zM333.3 101.4h0.9v0.9h-0.9zM339.5 106.7h0.9v0.9h-0.9zM337.0 106.0h0.9v0.9h-0.9zM336.3 106.0h0.9v0.9h-0.9zM331.7 103.3h0.9v0.9h-0.9zM336.3 108.6h0.9v0.9h-0.9zM336.9 109.9h0.9v0.9h-0.9zM330.6 106.0h0.9v0.9h-0.9zM333.6 109.1h0.9v0.9h-0.9zM342.7 105.4h0.9v0.9h-0.9zM338.9 106.0h0.9v0.9h-0.9zM332.1 106.3h0.9v0.9h-0.9zM331.9 109.8h0.9v0.9h-0.9zM338.3 109.0h0.9v0.9h-0.9zM337.4 101.4h0.9v0.9h-0.9zM339.2 106.7h0.9v0.9h-0.9zM326.6 106.7h0.9v0.9h-0.9zM340.0 110.1h0.9v0.9h-0.9zM332.0 108.2h0.9v0.9h-0.9zM337.3 106.1h0.9v0.9h-0.9zM334.9 107.6h0.9v0.9h-0.9zM338.3 107.9h0.9v0.9h-0.9zM334.4 103.7h0.9v0.9h-0.9zM341.2 109.2h0.9v0.9h-0.9zM333.8 106.4h0.9v0.9h-0.9zM339.2 102.8h0.9v0.9h-0.9zM338.0 111.6h0.9v0.9h-0.9zM337.1 105.0h0.9v0.9h-0.9zM344.0 106.5h0.9v0.9h-0.9zM336.8 105.6h0.9v0.9h-0.9zM336.7 102.7h0.9v0.9h-0.9zM331.0 103.4h0.9v0.9h-0.9zM339.5 106.3h0.9v0.9h-0.9zM340.5 102.2h0.9v0.9h-0.9zM333.6 109.6h0.9v0.9h-0.9zM332.9 102.6h0.9v0.9h-0.9zM333.1 105.8h0.9v0.9h-0.9zM335.9 109.3h0.9v0.9h-0.9zM341.2 109.8h0.9v0.9h-0.9zM338.3 105.4h0.9v0.9h-0.9zM334.1 103.4h0.9v0.9h-0.9zM341.0 109.1h0.9v0.9h-0.9zM336.4 104.6h0.9v0.9h-0.9zM338.7 107.5h0.9v0.9h-0.9zM336.6 104.1h0.9v0.9h-0.9zM336.9 105.3h0.9v0.9h-0.9z" fill="#000"/>
<rect x="317.30" y="77.30" width="10.40" height="21.20" fill="none" stroke="#6fb24a" stroke-width="0.9" />
<rect x="329.60" y="96.50" width="24.20" height="15.80" fill="none" stroke="#4a5cab" stroke-width="0.9" />
<text x="333.60" y="82.00" font-size="6.4" text-anchor="start" fill="#79b453" >0</text>
<text x="343.60" y="93.80" font-size="6.4" text-anchor="start" fill="#4a5aa8" >0.3</text>
<line x1="58.50" y1="45.80" x2="88.50" y2="45.80" stroke="#808080" stroke-width="1.8" />
<circle cx="69.75" cy="43.20" r="0.75" fill="#333" stroke="none" stroke-width="1"/>
<circle cx="72.25" cy="43.20" r="0.75" fill="#333" stroke="none" stroke-width="1"/>
<circle cx="74.75" cy="43.20" r="0.75" fill="#333" stroke="none" stroke-width="1"/>
<circle cx="77.25" cy="43.20" r="0.75" fill="#333" stroke="none" stroke-width="1"/>
<line x1="58.50" y1="53.40" x2="74.20" y2="53.40" stroke="#808080" stroke-width="1.8" />
<circle cx="62.60" cy="50.80" r="0.75" fill="#333" stroke="none" stroke-width="1"/>
<circle cx="65.10" cy="50.80" r="0.75" fill="#333" stroke="none" stroke-width="1"/>
<circle cx="67.60" cy="50.80" r="0.75" fill="#333" stroke="none" stroke-width="1"/>
<circle cx="70.10" cy="50.80" r="0.75" fill="#333" stroke="none" stroke-width="1"/>
<line x1="213.80" y1="153.40" x2="213.80" y2="223.90" stroke="#000" stroke-width="1.3" />
<line x1="213.20" y1="223.30" x2="283.00" y2="223.30" stroke="#000" stroke-width="1.3" />
<line x1="211.60" y1="223.30" x2="213.80" y2="223.30" stroke="#000" stroke-width="0.9" />
<text x="206.50" y="225.80" font-size="7.2" text-anchor="end" fill="#333" >10</text>
<text x="206.60" y="222.80" font-size="4.8" text-anchor="start" fill="#333" >0</text>
<line x1="211.60" y1="214.69" x2="213.80" y2="214.69" stroke="#000" stroke-width="0.9" />
<text x="206.50" y="217.19" font-size="7.2" text-anchor="end" fill="#333" >10</text>
<text x="206.60" y="214.19" font-size="4.8" text-anchor="start" fill="#333" >1</text>
<line x1="211.60" y1="206.08" x2="213.80" y2="206.08" stroke="#000" stroke-width="0.9" />
<text x="206.50" y="208.58" font-size="7.2" text-anchor="end" fill="#333" >10</text>
<text x="206.60" y="205.58" font-size="4.8" text-anchor="start" fill="#333" >2</text>
<line x1="211.60" y1="197.46" x2="213.80" y2="197.46" stroke="#000" stroke-width="0.9" />
<text x="206.50" y="199.96" font-size="7.2" text-anchor="end" fill="#333" >10</text>
<text x="206.60" y="196.96" font-size="4.8" text-anchor="start" fill="#333" >3</text>
<line x1="211.60" y1="188.85" x2="213.80" y2="188.85" stroke="#000" stroke-width="0.9" />
<text x="206.50" y="191.35" font-size="7.2" text-anchor="end" fill="#333" >10</text>
<text x="206.60" y="188.35" font-size="4.8" text-anchor="start" fill="#333" >4</text>
<line x1="211.60" y1="180.24" x2="213.80" y2="180.24" stroke="#000" stroke-width="0.9" />
<text x="206.50" y="182.74" font-size="7.2" text-anchor="end" fill="#333" >10</text>
<text x="206.60" y="179.74" font-size="4.8" text-anchor="start" fill="#333" >5</text>
<line x1="211.60" y1="171.62" x2="213.80" y2="171.62" stroke="#000" stroke-width="0.9" />
<text x="206.50" y="174.12" font-size="7.2" text-anchor="end" fill="#333" >10</text>
<text x="206.60" y="171.12" font-size="4.8" text-anchor="start" fill="#333" >6</text>
<line x1="211.60" y1="163.01" x2="213.80" y2="163.01" stroke="#000" stroke-width="0.9" />
<text x="206.50" y="165.51" font-size="7.2" text-anchor="end" fill="#333" >10</text>
<text x="206.60" y="162.51" font-size="4.8" text-anchor="start" fill="#333" >7</text>
<line x1="211.60" y1="154.40" x2="213.80" y2="154.40" stroke="#000" stroke-width="0.9" />
<text x="206.50" y="156.90" font-size="7.2" text-anchor="end" fill="#333" >10</text>
<text x="206.60" y="153.90" font-size="4.8" text-anchor="start" fill="#333" >8</text>
<line x1="226.00" y1="223.30" x2="226.00" y2="225.50" stroke="#000" stroke-width="0.9" />
<text x="226.00" y="235.00" font-size="6.8" text-anchor="middle" fill="#333" >7</text>
<line x1="249.60" y1="223.30" x2="249.60" y2="225.50" stroke="#000" stroke-width="0.9" />
<text x="249.60" y="235.00" font-size="6.8" text-anchor="middle" fill="#333" >14</text>
<line x1="272.30" y1="223.30" x2="272.30" y2="225.50" stroke="#000" stroke-width="0.9" />
<text x="272.30" y="235.00" font-size="6.8" text-anchor="middle" fill="#333" >21</text>
<text x="249.30" y="142.60" font-size="9.2" text-anchor="middle" fill="#222" textLength="26" lengthAdjust="spacingAndGlyphs" >Spleen</text>
<circle cx="219.50" cy="157.00" r="2.30" fill="none" stroke="#4d63ad" stroke-width="0.85"/>
<circle cx="221.50" cy="156.60" r="2.30" fill="none" stroke="#4d63ad" stroke-width="0.85"/>
<circle cx="223.50" cy="157.00" r="2.30" fill="none" stroke="#4d63ad" stroke-width="0.85"/>
<circle cx="220.50" cy="158.30" r="2.30" fill="none" stroke="#4d63ad" stroke-width="0.85"/>
<circle cx="222.80" cy="158.00" r="2.30" fill="none" stroke="#4d63ad" stroke-width="0.85"/>
<line x1="217.80" y1="157.20" x2="225.00" y2="157.20" stroke="#000" stroke-width="1.1" />
<circle cx="228.80" cy="161.60" r="2.30" fill="none" stroke="#6cb548" stroke-width="0.85"/>
<circle cx="231.20" cy="162.20" r="2.30" fill="none" stroke="#6cb548" stroke-width="0.85"/>
<circle cx="233.40" cy="161.60" r="2.30" fill="none" stroke="#6cb548" stroke-width="0.85"/>
<circle cx="235.60" cy="162.00" r="2.30" fill="none" stroke="#6cb548" stroke-width="0.85"/>
<circle cx="230.50" cy="160.90" r="2.30" fill="none" stroke="#6cb548" stroke-width="0.85"/>
<line x1="228.20" y1="161.90" x2="235.40" y2="161.90" stroke="#000" stroke-width="1.1" />
<circle cx="244.00" cy="170.00" r="2.30" fill="none" stroke="#4d63ad" stroke-width="0.85"/>
<circle cx="240.50" cy="175.80" r="2.30" fill="none" stroke="#4d63ad" stroke-width="0.85"/>
<circle cx="242.80" cy="178.10" r="2.30" fill="none" stroke="#4d63ad" stroke-width="0.85"/>
<circle cx="246.30" cy="177.00" r="2.30" fill="none" stroke="#4d63ad" stroke-width="0.85"/>
<circle cx="241.60" cy="179.30" r="2.30" fill="none" stroke="#4d63ad" stroke-width="0.85"/>
<circle cx="247.40" cy="174.00" r="2.30" fill="none" stroke="#4d63ad" stroke-width="0.85"/>
<line x1="239.50" y1="174.00" x2="247.50" y2="174.00" stroke="#000" stroke-width="1.1" />
<line x1="243.50" y1="171.00" x2="243.50" y2="177.00" stroke="#000" stroke-width="0.9" />
<line x1="242.20" y1="171.00" x2="244.80" y2="171.00" stroke="#000" stroke-width="0.9" />
<line x1="242.20" y1="177.00" x2="244.80" y2="177.00" stroke="#000" stroke-width="0.9" />
<circle cx="252.00" cy="177.00" r="2.30" fill="none" stroke="#6cb548" stroke-width="0.85"/>
<circle cx="255.60" cy="178.10" r="2.30" fill="none" stroke="#6cb548" stroke-width="0.85"/>
<circle cx="258.00" cy="181.60" r="2.30" fill="none" stroke="#6cb548" stroke-width="0.85"/>
<circle cx="254.00" cy="182.80" r="2.30" fill="none" stroke="#6cb548" stroke-width="0.85"/>
<circle cx="255.60" cy="186.30" r="2.30" fill="none" stroke="#6cb548" stroke-width="0.85"/>
<circle cx="252.80" cy="181.00" r="2.30" fill="none" stroke="#6cb548" stroke-width="0.85"/>
<line x1="250.80" y1="181.00" x2="258.80" y2="181.00" stroke="#000" stroke-width="1.1" />
<line x1="254.80" y1="178.50" x2="254.80" y2="183.50" stroke="#000" stroke-width="0.9" />
<line x1="253.50" y1="178.50" x2="256.10" y2="178.50" stroke="#000" stroke-width="0.9" />
<line x1="253.50" y1="183.50" x2="256.10" y2="183.50" stroke="#000" stroke-width="0.9" />
<circle cx="267.20" cy="181.60" r="2.30" fill="none" stroke="#4d63ad" stroke-width="0.85"/>
<circle cx="269.50" cy="187.40" r="2.30" fill="none" stroke="#4d63ad" stroke-width="0.85"/>
<circle cx="267.90" cy="191.00" r="2.30" fill="none" stroke="#4d63ad" stroke-width="0.85"/>
<circle cx="266.00" cy="185.10" r="2.30" fill="none" stroke="#4d63ad" stroke-width="0.85"/>
<circle cx="264.90" cy="204.20" r="2.30" fill="none" stroke="#4d63ad" stroke-width="0.85"/>
<circle cx="269.50" cy="201.40" r="2.30" fill="none" stroke="#4d63ad" stroke-width="0.85"/>
<line x1="263.20" y1="186.30" x2="271.20" y2="186.30" stroke="#000" stroke-width="1.1" />
<line x1="267.20" y1="181.80" x2="267.20" y2="190.80" stroke="#000" stroke-width="0.9" />
<line x1="265.90" y1="181.80" x2="268.50" y2="181.80" stroke="#000" stroke-width="0.9" />
<line x1="265.90" y1="190.80" x2="268.50" y2="190.80" stroke="#000" stroke-width="0.9" />
<circle cx="274.20" cy="203.70" r="2.30" fill="none" stroke="#6cb548" stroke-width="0.85"/>
<circle cx="279.50" cy="201.40" r="2.30" fill="none" stroke="#6cb548" stroke-width="0.85"/>
<circle cx="277.70" cy="204.90" r="2.30" fill="none" stroke="#6cb548" stroke-width="0.85"/>
<circle cx="274.20" cy="222.30" r="2.30" fill="none" stroke="#6cb548" stroke-width="0.85"/>
<circle cx="280.00" cy="222.30" r="2.30" fill="none" stroke="#6cb548" stroke-width="0.85"/>
<line x1="274.10" y1="205.60" x2="281.30" y2="205.60" stroke="#000" stroke-width="1.1" />
<line x1="277.70" y1="203.40" x2="277.70" y2="207.80" stroke="#000" stroke-width="0.9" />
<line x1="276.40" y1="203.40" x2="279.00" y2="203.40" stroke="#000" stroke-width="0.9" />
<line x1="276.40" y1="207.80" x2="279.00" y2="207.80" stroke="#000" stroke-width="0.9" />
<line x1="221.40" y1="151.90" x2="233.00" y2="151.90" stroke="#222" stroke-width="1.2" />
<circle cx="223.75" cy="149.00" r="0.72" fill="#333" stroke="none" stroke-width="1"/>
<circle cx="226.05" cy="149.00" r="0.72" fill="#333" stroke="none" stroke-width="1"/>
<circle cx="228.35" cy="149.00" r="0.72" fill="#333" stroke="none" stroke-width="1"/>
<circle cx="230.65" cy="149.00" r="0.72" fill="#333" stroke="none" stroke-width="1"/>
<line x1="245.80" y1="166.00" x2="257.40" y2="166.00" stroke="#222" stroke-width="1.2" />
<circle cx="249.30" cy="163.10" r="0.72" fill="#333" stroke="none" stroke-width="1"/>
<circle cx="251.60" cy="163.10" r="0.72" fill="#333" stroke="none" stroke-width="1"/>
<circle cx="253.90" cy="163.10" r="0.72" fill="#333" stroke="none" stroke-width="1"/>
<line x1="271.20" y1="176.30" x2="280.50" y2="176.30" stroke="#222" stroke-width="1.2" />
<circle cx="274.70" cy="173.40" r="0.72" fill="#333" stroke="none" stroke-width="1"/>
<circle cx="277.00" cy="173.40" r="0.72" fill="#333" stroke="none" stroke-width="1"/>
<line x1="302.80" y1="153.40" x2="302.80" y2="223.90" stroke="#000" stroke-width="1.3" />
<line x1="302.20" y1="223.30" x2="372.00" y2="223.30" stroke="#000" stroke-width="1.3" />
<line x1="300.60" y1="223.30" x2="302.80" y2="223.30" stroke="#000" stroke-width="0.9" />
<text x="295.50" y="225.80" font-size="7.2" text-anchor="end" fill="#333" >10</text>
<text x="295.60" y="222.80" font-size="4.8" text-anchor="start" fill="#333" >0</text>
<line x1="300.60" y1="214.69" x2="302.80" y2="214.69" stroke="#000" stroke-width="0.9" />
<text x="295.50" y="217.19" font-size="7.2" text-anchor="end" fill="#333" >10</text>
<text x="295.60" y="214.19" font-size="4.8" text-anchor="start" fill="#333" >1</text>
<line x1="300.60" y1="206.08" x2="302.80" y2="206.08" stroke="#000" stroke-width="0.9" />
<text x="295.50" y="208.58" font-size="7.2" text-anchor="end" fill="#333" >10</text>
<text x="295.60" y="205.58" font-size="4.8" text-anchor="start" fill="#333" >2</text>
<line x1="300.60" y1="197.46" x2="302.80" y2="197.46" stroke="#000" stroke-width="0.9" />
<text x="295.50" y="199.96" font-size="7.2" text-anchor="end" fill="#333" >10</text>
<text x="295.60" y="196.96" font-size="4.8" text-anchor="start" fill="#333" >3</text>
<line x1="300.60" y1="188.85" x2="302.80" y2="188.85" stroke="#000" stroke-width="0.9" />
<text x="295.50" y="191.35" font-size="7.2" text-anchor="end" fill="#333" >10</text>
<text x="295.60" y="188.35" font-size="4.8" text-anchor="start" fill="#333" >4</text>
<line x1="300.60" y1="180.24" x2="302.80" y2="180.24" stroke="#000" stroke-width="0.9" />
<text x="295.50" y="182.74" font-size="7.2" text-anchor="end" fill="#333" >10</text>
<text x="295.60" y="179.74" font-size="4.8" text-anchor="start" fill="#333" >5</text>
<line x1="300.60" y1="171.62" x2="302.80" y2="171.62" stroke="#000" stroke-width="0.9" />
<text x="295.50" y="174.12" font-size="7.2" text-anchor="end" fill="#333" >10</text>
<text x="295.60" y="171.12" font-size="4.8" text-anchor="start" fill="#333" >6</text>
<line x1="300.60" y1="163.01" x2="302.80" y2="163.01" stroke="#000" stroke-width="0.9" />
<text x="295.50" y="165.51" font-size="7.2" text-anchor="end" fill="#333" >10</text>
<text x="295.60" y="162.51" font-size="4.8" text-anchor="start" fill="#333" >7</text>
<line x1="300.60" y1="154.40" x2="302.80" y2="154.40" stroke="#000" stroke-width="0.9" />
<text x="295.50" y="156.90" font-size="7.2" text-anchor="end" fill="#333" >10</text>
<text x="295.60" y="153.90" font-size="4.8" text-anchor="start" fill="#333" >8</text>
<line x1="314.00" y1="223.30" x2="314.00" y2="225.50" stroke="#000" stroke-width="0.9" />
<text x="314.00" y="235.00" font-size="6.8" text-anchor="middle" fill="#333" >7</text>
<line x1="337.30" y1="223.30" x2="337.30" y2="225.50" stroke="#000" stroke-width="0.9" />
<text x="337.30" y="235.00" font-size="6.8" text-anchor="middle" fill="#333" >14</text>
<line x1="359.90" y1="223.30" x2="359.90" y2="225.50" stroke="#000" stroke-width="0.9" />
<text x="359.90" y="235.00" font-size="6.8" text-anchor="middle" fill="#333" >21</text>
<text x="337.50" y="142.60" font-size="9.6" text-anchor="middle" fill="#222" textLength="50.6" lengthAdjust="spacingAndGlyphs" >Bone marrow</text>
<circle cx="305.40" cy="171.70" r="2.30" fill="none" stroke="#4d63ad" stroke-width="0.85"/>
<circle cx="307.50" cy="172.10" r="2.30" fill="none" stroke="#4d63ad" stroke-width="0.85"/>
<circle cx="309.60" cy="171.70" r="2.30" fill="none" stroke="#4d63ad" stroke-width="0.85"/>
<circle cx="311.70" cy="172.10" r="2.30" fill="none" stroke="#4d63ad" stroke-width="0.85"/>
<circle cx="308.50" cy="171.00" r="2.30" fill="none" stroke="#4d63ad" stroke-width="0.85"/>
<line x1="304.00" y1="171.70" x2="313.00" y2="171.70" stroke="#000" stroke-width="1.1" />
<circle cx="316.00" cy="177.40" r="2.30" fill="none" stroke="#6cb548" stroke-width="0.85"/>
<circle cx="318.00" cy="177.80" r="2.30" fill="none" stroke="#6cb548" stroke-width="0.85"/>
<circle cx="320.20" cy="177.40" r="2.30" fill="none" stroke="#6cb548" stroke-width="0.85"/>
<circle cx="322.30" cy="177.80" r="2.30" fill="none" stroke="#6cb548" stroke-width="0.85"/>
<circle cx="323.30" cy="177.20" r="2.30" fill="none" stroke="#6cb548" stroke-width="0.85"/>
<line x1="315.60" y1="177.50" x2="323.60" y2="177.50" stroke="#000" stroke-width="1.1" />
<circle cx="330.70" cy="177.40" r="2.30" fill="none" stroke="#4d63ad" stroke-width="0.85"/>
<circle cx="328.60" cy="181.60" r="2.30" fill="none" stroke="#4d63ad" stroke-width="0.85"/>
<circle cx="331.80" cy="183.70" r="2.30" fill="none" stroke="#4d63ad" stroke-width="0.85"/>
<circle cx="329.70" cy="186.90" r="2.30" fill="none" stroke="#4d63ad" stroke-width="0.85"/>
<circle cx="333.90" cy="186.90" r="2.30" fill="none" stroke="#4d63ad" stroke-width="0.85"/>
<circle cx="332.90" cy="180.50" r="2.30" fill="none" stroke="#4d63ad" stroke-width="0.85"/>
<line x1="327.20" y1="181.60" x2="335.20" y2="181.60" stroke="#000" stroke-width="1.1" />
<line x1="331.20" y1="178.10" x2="331.20" y2="185.10" stroke="#000" stroke-width="0.9" />
<line x1="329.90" y1="178.10" x2="332.50" y2="178.10" stroke="#000" stroke-width="0.9" />
<line x1="329.90" y1="185.10" x2="332.50" y2="185.10" stroke="#000" stroke-width="0.9" />
<circle cx="342.40" cy="182.20" r="2.30" fill="none" stroke="#6cb548" stroke-width="0.85"/>
<circle cx="340.30" cy="184.80" r="2.30" fill="none" stroke="#6cb548" stroke-width="0.85"/>
<circle cx="343.40" cy="185.80" r="2.30" fill="none" stroke="#6cb548" stroke-width="0.85"/>
<circle cx="341.30" cy="190.00" r="2.30" fill="none" stroke="#6cb548" stroke-width="0.85"/>
<circle cx="342.40" cy="195.30" r="2.30" fill="none" stroke="#6cb548" stroke-width="0.85"/>
<circle cx="344.50" cy="183.70" r="2.30" fill="none" stroke="#6cb548" stroke-width="0.85"/>
<line x1="338.30" y1="185.80" x2="346.30" y2="185.80" stroke="#000" stroke-width="1.1" />
<line x1="342.30" y1="182.30" x2="342.30" y2="189.30" stroke="#000" stroke-width="0.9" />
<line x1="341.00" y1="182.30" x2="343.60" y2="182.30" stroke="#000" stroke-width="0.9" />
<line x1="341.00" y1="189.30" x2="343.60" y2="189.30" stroke="#000" stroke-width="0.9" />
<circle cx="355.00" cy="183.70" r="2.30" fill="none" stroke="#4d63ad" stroke-width="0.85"/>
<circle cx="357.20" cy="188.00" r="2.30" fill="none" stroke="#4d63ad" stroke-width="0.85"/>
<circle cx="353.00" cy="190.00" r="2.30" fill="none" stroke="#4d63ad" stroke-width="0.85"/>
<circle cx="358.20" cy="191.00" r="2.30" fill="none" stroke="#4d63ad" stroke-width="0.85"/>
<circle cx="355.00" cy="193.20" r="2.30" fill="none" stroke="#4d63ad" stroke-width="0.85"/>
<circle cx="359.30" cy="186.90" r="2.30" fill="none" stroke="#4d63ad" stroke-width="0.85"/>
<line x1="352.20" y1="188.00" x2="360.20" y2="188.00" stroke="#000" stroke-width="1.1" />
<line x1="356.20" y1="185.50" x2="356.20" y2="190.50" stroke="#000" stroke-width="0.9" />
<line x1="354.90" y1="185.50" x2="357.50" y2="185.50" stroke="#000" stroke-width="0.9" />
<line x1="354.90" y1="190.50" x2="357.50" y2="190.50" stroke="#000" stroke-width="0.9" />
<circle cx="361.80" cy="202.60" r="2.30" fill="none" stroke="#6cb548" stroke-width="0.85"/>
<circle cx="367.40" cy="203.60" r="2.30" fill="none" stroke="#6cb548" stroke-width="0.85"/>
<circle cx="364.80" cy="208.60" r="2.30" fill="none" stroke="#6cb548" stroke-width="0.85"/>
<circle cx="368.20" cy="207.00" r="2.30" fill="none" stroke="#6cb548" stroke-width="0.85"/>
<circle cx="365.40" cy="222.40" r="2.30" fill="none" stroke="#6cb548" stroke-width="0.85"/>
<line x1="361.00" y1="206.60" x2="369.40" y2="206.60" stroke="#000" stroke-width="1.1" />
<line x1="365.20" y1="204.40" x2="365.20" y2="208.80" stroke="#000" stroke-width="0.9" />
<line x1="363.90" y1="204.40" x2="366.50" y2="204.40" stroke="#000" stroke-width="0.9" />
<line x1="363.90" y1="208.80" x2="366.50" y2="208.80" stroke="#000" stroke-width="0.9" />
<line x1="309.60" y1="166.80" x2="321.20" y2="166.80" stroke="#222" stroke-width="1.2" />
<circle cx="311.95" cy="163.90" r="0.72" fill="#333" stroke="none" stroke-width="1"/>
<circle cx="314.25" cy="163.90" r="0.72" fill="#333" stroke="none" stroke-width="1"/>
<circle cx="316.55" cy="163.90" r="0.72" fill="#333" stroke="none" stroke-width="1"/>
<circle cx="318.85" cy="163.90" r="0.72" fill="#333" stroke="none" stroke-width="1"/>
<line x1="356.10" y1="179.50" x2="367.70" y2="179.50" stroke="#222" stroke-width="1.2" />
<circle cx="360.75" cy="176.60" r="0.72" fill="#333" stroke="none" stroke-width="1"/>
<circle cx="363.05" cy="176.60" r="0.72" fill="#333" stroke="none" stroke-width="1"/>
<text x="286.00" y="246.60" font-size="8.6" text-anchor="middle" fill="#222" textLength="82.7" lengthAdjust="spacingAndGlyphs" >Days after CAR-T cell transfer</text>
<text x="185.00" y="188.50" font-size="8.6" text-anchor="middle" fill="#222" textLength="40" lengthAdjust="spacingAndGlyphs" transform="rotate(-90 185.00 188.50)" ># CAR-T cells</text>
<text x="195.10" y="188.00" font-size="8.6" text-anchor="middle" fill="#222" textLength="63.8" lengthAdjust="spacingAndGlyphs" transform="rotate(-90 195.10 188.00)" >(normalized to input)</text>
<circle cx="216.70" cy="254.60" r="2.30" fill="none" stroke="#4d63ad" stroke-width="0.85"/>
<circle cx="216.70" cy="262.90" r="2.30" fill="none" stroke="#6cb548" stroke-width="0.85"/>
<text x="221.90" y="256.90" font-size="6.4" text-anchor="start" fill="#333" textLength="26" lengthAdjust="spacingAndGlyphs" >KO CAR-T</text>
<text x="221.90" y="265.20" font-size="6.4" text-anchor="start" fill="#333" textLength="31" lengthAdjust="spacingAndGlyphs" >DKO CAR-T</text>
<rect x="395.30" y="33.00" width="9.74" height="8.39" fill="#d35056" stroke="none" stroke-width="1" />
<rect x="404.54" y="33.00" width="9.74" height="8.39" fill="#d56066" stroke="none" stroke-width="1" />
<rect x="413.78" y="33.00" width="9.74" height="8.39" fill="#d56066" stroke="none" stroke-width="1" />
<rect x="423.02" y="33.00" width="9.74" height="8.39" fill="#d0383f" stroke="none" stroke-width="1" />
<rect x="432.26" y="33.00" width="9.24" height="8.39" fill="#d24047" stroke="none" stroke-width="1" />
<rect x="442.40" y="33.00" width="9.80" height="8.39" fill="#5560b0" stroke="none" stroke-width="1" />
<rect x="451.70" y="33.00" width="9.80" height="8.39" fill="#e8e8f5" stroke="none" stroke-width="1" />
<rect x="461.00" y="33.00" width="9.80" height="8.39" fill="#6a70b8" stroke="none" stroke-width="1" />
<rect x="470.30" y="33.00" width="9.80" height="8.39" fill="#b0b0d8" stroke="none" stroke-width="1" />
<rect x="479.60" y="33.00" width="9.30" height="8.39" fill="#b0b0d8" stroke="none" stroke-width="1" />
<text x="492.40" y="39.35" font-size="6.5" text-anchor="start" fill="#333" font-style="italic" >Ccr7</text>
<rect x="395.30" y="40.89" width="9.74" height="8.39" fill="#d24047" stroke="none" stroke-width="1" />
<rect x="404.54" y="40.89" width="9.74" height="8.39" fill="#d2484f" stroke="none" stroke-width="1" />
<rect x="413.78" y="40.89" width="9.74" height="8.39" fill="#d2484f" stroke="none" stroke-width="1" />
<rect x="423.02" y="40.89" width="9.74" height="8.39" fill="#d5585e" stroke="none" stroke-width="1" />
<rect x="432.26" y="40.89" width="9.24" height="8.39" fill="#d5585e" stroke="none" stroke-width="1" />
<rect x="442.40" y="40.89" width="9.80" height="8.39" fill="#6068b0" stroke="none" stroke-width="1" />
<rect x="451.70" y="40.89" width="9.80" height="8.39" fill="#a0a0d0" stroke="none" stroke-width="1" />
<rect x="461.00" y="40.89" width="9.80" height="8.39" fill="#8a90c8" stroke="none" stroke-width="1" />
<rect x="470.30" y="40.89" width="9.80" height="8.39" fill="#a8a8d5" stroke="none" stroke-width="1" />
<rect x="479.60" y="40.89" width="9.30" height="8.39" fill="#c5c5e5" stroke="none" stroke-width="1" />
<text x="492.40" y="47.24" font-size="6.5" text-anchor="start" fill="#333" font-style="italic" >Plagl1</text>
<rect x="395.30" y="48.78" width="9.74" height="8.39" fill="#d24047" stroke="none" stroke-width="1" />
<rect x="404.54" y="48.78" width="9.74" height="8.39" fill="#ce2830" stroke="none" stroke-width="1" />
<rect x="413.78" y="48.78" width="9.74" height="8.39" fill="#da8084" stroke="none" stroke-width="1" />
<rect x="423.02" y="48.78" width="9.74" height="8.39" fill="#da8084" stroke="none" stroke-width="1" />
<rect x="432.26" y="48.78" width="9.24" height="8.39" fill="#d5585e" stroke="none" stroke-width="1" />
<rect x="442.40" y="48.78" width="9.80" height="8.39" fill="#8a8ec8" stroke="none" stroke-width="1" />
<rect x="451.70" y="48.78" width="9.80" height="8.39" fill="#6a70b8" stroke="none" stroke-width="1" />
<rect x="461.00" y="48.78" width="9.80" height="8.39" fill="#5a60b0" stroke="none" stroke-width="1" />
<rect x="470.30" y="48.78" width="9.80" height="8.39" fill="#f8f8ff" stroke="none" stroke-width="1" />
<rect x="479.60" y="48.78" width="9.30" height="8.39" fill="#c0c0e0" stroke="none" stroke-width="1" />
<text x="492.40" y="55.13" font-size="6.5" text-anchor="start" fill="#333" font-style="italic" >Id3</text>
<rect x="395.30" y="56.67" width="9.74" height="8.39" fill="#d0383f" stroke="none" stroke-width="1" />
<rect x="404.54" y="56.67" width="9.74" height="8.39" fill="#e2a0a3" stroke="none" stroke-width="1" />
<rect x="413.78" y="56.67" width="9.74" height="8.39" fill="#e2a0a3" stroke="none" stroke-width="1" />
<rect x="423.02" y="56.67" width="9.74" height="8.39" fill="#d97075" stroke="none" stroke-width="1" />
<rect x="432.26" y="56.67" width="9.24" height="8.39" fill="#c60a13" stroke="none" stroke-width="1" />
<rect x="442.40" y="56.67" width="9.80" height="8.39" fill="#d0d0ea" stroke="none" stroke-width="1" />
<rect x="451.70" y="56.67" width="9.80" height="8.39" fill="#8a8ec8" stroke="none" stroke-width="1" />
<rect x="461.00" y="56.67" width="9.80" height="8.39" fill="#ececf8" stroke="none" stroke-width="1" />
<rect x="470.30" y="56.67" width="9.80" height="8.39" fill="#8a8ec8" stroke="none" stroke-width="1" />
<rect x="479.60" y="56.67" width="9.30" height="8.39" fill="#5a60b0" stroke="none" stroke-width="1" />
<text x="492.40" y="63.02" font-size="6.5" text-anchor="start" fill="#333" font-style="italic" >Slamf6</text>
<rect x="395.30" y="64.57" width="9.74" height="8.39" fill="#d35056" stroke="none" stroke-width="1" />
<rect x="404.54" y="64.57" width="9.74" height="8.39" fill="#d35056" stroke="none" stroke-width="1" />
<rect x="413.78" y="64.57" width="9.74" height="8.39" fill="#d24047" stroke="none" stroke-width="1" />
<rect x="423.02" y="64.57" width="9.74" height="8.39" fill="#d9686d" stroke="none" stroke-width="1" />
<rect x="432.26" y="64.57" width="9.24" height="8.39" fill="#d0383f" stroke="none" stroke-width="1" />
<rect x="442.40" y="64.57" width="9.80" height="8.39" fill="#b5b5dc" stroke="none" stroke-width="1" />
<rect x="451.70" y="64.57" width="9.80" height="8.39" fill="#9a9ed0" stroke="none" stroke-width="1" />
<rect x="461.00" y="64.57" width="9.80" height="8.39" fill="#9296cc" stroke="none" stroke-width="1" />
<rect x="470.30" y="64.57" width="9.80" height="8.39" fill="#a8a8d5" stroke="none" stroke-width="1" />
<rect x="479.60" y="64.57" width="9.30" height="8.39" fill="#8a8ec8" stroke="none" stroke-width="1" />
<text x="492.40" y="70.91" font-size="6.5" text-anchor="start" fill="#333" font-style="italic" >Tcf7</text>
<rect x="395.30" y="72.46" width="9.74" height="8.39" fill="#d0383f" stroke="none" stroke-width="1" />
<rect x="404.54" y="72.46" width="9.74" height="8.39" fill="#d2484f" stroke="none" stroke-width="1" />
<rect x="413.78" y="72.46" width="9.74" height="8.39" fill="#d2484f" stroke="none" stroke-width="1" />
<rect x="423.02" y="72.46" width="9.74" height="8.39" fill="#da9094" stroke="none" stroke-width="1" />
<rect x="432.26" y="72.46" width="9.24" height="8.39" fill="#d24047" stroke="none" stroke-width="1" />
<rect x="442.40" y="72.46" width="9.80" height="8.39" fill="#a0a4d2" stroke="none" stroke-width="1" />
<rect x="451.70" y="72.46" width="9.80" height="8.39" fill="#b0b0d8" stroke="none" stroke-width="1" />
<rect x="461.00" y="72.46" width="9.80" height="8.39" fill="#b0b0d8" stroke="none" stroke-width="1" />
<rect x="470.30" y="72.46" width="9.80" height="8.39" fill="#d0d0ea" stroke="none" stroke-width="1" />
<rect x="479.60" y="72.46" width="9.30" height="8.39" fill="#5058a8" stroke="none" stroke-width="1" />
<text x="492.40" y="78.80" font-size="6.5" text-anchor="start" fill="#333" font-style="italic" >Kit</text>
<rect x="395.30" y="80.35" width="9.74" height="8.39" fill="#d2484f" stroke="none" stroke-width="1" />
<rect x="404.54" y="80.35" width="9.74" height="8.39" fill="#d35056" stroke="none" stroke-width="1" />
<rect x="413.78" y="80.35" width="9.74" height="8.39" fill="#d2484f" stroke="none" stroke-width="1" />
<rect x="423.02" y="80.35" width="9.74" height="8.39" fill="#d56066" stroke="none" stroke-width="1" />
<rect x="432.26" y="80.35" width="9.24" height="8.39" fill="#d24047" stroke="none" stroke-width="1" />
<rect x="442.40" y="80.35" width="9.80" height="8.39" fill="#8a8ec8" stroke="none" stroke-width="1" />
<rect x="451.70" y="80.35" width="9.80" height="8.39" fill="#e0e0f0" stroke="none" stroke-width="1" />
<rect x="461.00" y="80.35" width="9.80" height="8.39" fill="#9296cc" stroke="none" stroke-width="1" />
<rect x="470.30" y="80.35" width="9.80" height="8.39" fill="#c5c5e5" stroke="none" stroke-width="1" />
<rect x="479.60" y="80.35" width="9.30" height="8.39" fill="#5058a8" stroke="none" stroke-width="1" />
<text x="492.40" y="86.69" font-size="6.5" text-anchor="start" fill="#333" font-style="italic" >Sell</text>
<rect x="395.30" y="88.24" width="9.74" height="8.39" fill="#d0383f" stroke="none" stroke-width="1" />
<rect x="404.54" y="88.24" width="9.74" height="8.39" fill="#d24047" stroke="none" stroke-width="1" />
<rect x="413.78" y="88.24" width="9.74" height="8.39" fill="#d9686d" stroke="none" stroke-width="1" />
<rect x="423.02" y="88.24" width="9.74" height="8.39" fill="#da888c" stroke="none" stroke-width="1" />
<rect x="432.26" y="88.24" width="9.24" height="8.39" fill="#d24047" stroke="none" stroke-width="1" />
<rect x="442.40" y="88.24" width="9.80" height="8.39" fill="#c0c0e0" stroke="none" stroke-width="1" />
<rect x="451.70" y="88.24" width="9.80" height="8.39" fill="#b0b0d8" stroke="none" stroke-width="1" />
<rect x="461.00" y="88.24" width="9.80" height="8.39" fill="#c8c8e5" stroke="none" stroke-width="1" />
<rect x="470.30" y="88.24" width="9.80" height="8.39" fill="#8a8ec8" stroke="none" stroke-width="1" />
<rect x="479.60" y="88.24" width="9.30" height="8.39" fill="#6068b0" stroke="none" stroke-width="1" />
<text x="492.40" y="94.58" font-size="6.5" text-anchor="start" fill="#333" font-style="italic" >Cxcr5</text>
<rect x="395.30" y="96.13" width="9.74" height="8.39" fill="#c6151e" stroke="none" stroke-width="1" />
<rect x="404.54" y="96.13" width="9.74" height="8.39" fill="#d2484f" stroke="none" stroke-width="1" />
<rect x="413.78" y="96.13" width="9.74" height="8.39" fill="#d96066" stroke="none" stroke-width="1" />
<rect x="423.02" y="96.13" width="9.74" height="8.39" fill="#e6c0c2" stroke="none" stroke-width="1" />
<rect x="432.26" y="96.13" width="9.24" height="8.39" fill="#d24047" stroke="none" stroke-width="1" />
<rect x="442.40" y="96.13" width="9.80" height="8.39" fill="#d8d8ee" stroke="none" stroke-width="1" />
<rect x="451.70" y="96.13" width="9.80" height="8.39" fill="#b0b0d8" stroke="none" stroke-width="1" />
<rect x="461.00" y="96.13" width="9.80" height="8.39" fill="#9296cc" stroke="none" stroke-width="1" />
<rect x="470.30" y="96.13" width="9.80" height="8.39" fill="#8a8ec8" stroke="none" stroke-width="1" />
<rect x="479.60" y="96.13" width="9.30" height="8.39" fill="#6068b0" stroke="none" stroke-width="1" />
<text x="492.40" y="102.48" font-size="6.5" text-anchor="start" fill="#333" font-style="italic" >Il7r</text>
<rect x="395.30" y="104.02" width="9.74" height="8.39" fill="#d5585e" stroke="none" stroke-width="1" />
<rect x="404.54" y="104.02" width="9.74" height="8.39" fill="#d5585e" stroke="none" stroke-width="1" />
<rect x="413.78" y="104.02" width="9.74" height="8.39" fill="#d0383f" stroke="none" stroke-width="1" />
<rect x="423.02" y="104.02" width="9.74" height="8.39" fill="#eac8ca" stroke="none" stroke-width="1" />
<rect x="432.26" y="104.02" width="9.24" height="8.39" fill="#d24047" stroke="none" stroke-width="1" />
<rect x="442.40" y="104.02" width="9.80" height="8.39" fill="#9296cc" stroke="none" stroke-width="1" />
<rect x="451.70" y="104.02" width="9.80" height="8.39" fill="#4a52a5" stroke="none" stroke-width="1" />
<rect x="461.00" y="104.02" width="9.80" height="8.39" fill="#fafaff" stroke="none" stroke-width="1" />
<rect x="470.30" y="104.02" width="9.80" height="8.39" fill="#f0f0fa" stroke="none" stroke-width="1" />
<rect x="479.60" y="104.02" width="9.30" height="8.39" fill="#4a52a5" stroke="none" stroke-width="1" />
<text x="492.40" y="110.37" font-size="6.5" text-anchor="start" fill="#333" font-style="italic" >Foxo1</text>
<rect x="395.30" y="111.91" width="9.74" height="8.39" fill="#d56066" stroke="none" stroke-width="1" />
<rect x="404.54" y="111.91" width="9.74" height="8.39" fill="#d2484f" stroke="none" stroke-width="1" />
<rect x="413.78" y="111.91" width="9.74" height="8.39" fill="#ce2830" stroke="none" stroke-width="1" />
<rect x="423.02" y="111.91" width="9.74" height="8.39" fill="#ffffff" stroke="none" stroke-width="1" />
<rect x="432.26" y="111.91" width="9.24" height="8.39" fill="#d0383f" stroke="none" stroke-width="1" />
<rect x="442.40" y="111.91" width="9.80" height="8.39" fill="#c8c8e5" stroke="none" stroke-width="1" />
<rect x="451.70" y="111.91" width="9.80" height="8.39" fill="#e0e0f0" stroke="none" stroke-width="1" />
<rect x="461.00" y="111.91" width="9.80" height="8.39" fill="#9296cc" stroke="none" stroke-width="1" />
<rect x="470.30" y="111.91" width="9.80" height="8.39" fill="#b0b0d8" stroke="none" stroke-width="1" />
<rect x="479.60" y="111.91" width="9.30" height="8.39" fill="#5058a8" stroke="none" stroke-width="1" />
<text x="492.40" y="118.26" font-size="6.5" text-anchor="start" fill="#333" font-style="italic" >Xcl1</text>
<rect x="395.30" y="119.80" width="9.74" height="8.39" fill="#d0383f" stroke="none" stroke-width="1" />
<rect x="404.54" y="119.80" width="9.74" height="8.39" fill="#c61019" stroke="none" stroke-width="1" />
<rect x="413.78" y="119.80" width="9.74" height="8.39" fill="#e2a0a3" stroke="none" stroke-width="1" />
<rect x="423.02" y="119.80" width="9.74" height="8.39" fill="#f2e8e8" stroke="none" stroke-width="1" />
<rect x="432.26" y="119.80" width="9.24" height="8.39" fill="#d0383f" stroke="none" stroke-width="1" />
<rect x="442.40" y="119.80" width="9.80" height="8.39" fill="#b0b0d8" stroke="none" stroke-width="1" />
<rect x="451.70" y="119.80" width="9.80" height="8.39" fill="#e0e0f0" stroke="none" stroke-width="1" />
<rect x="461.00" y="119.80" width="9.80" height="8.39" fill="#e0e0f0" stroke="none" stroke-width="1" />
<rect x="470.30" y="119.80" width="9.80" height="8.39" fill="#7a80c0" stroke="none" stroke-width="1" />
<rect x="479.60" y="119.80" width="9.30" height="8.39" fill="#4a52a5" stroke="none" stroke-width="1" />
<text x="492.40" y="126.15" font-size="6.5" text-anchor="start" fill="#333" font-style="italic" >Lef1</text>
<rect x="395.30" y="127.70" width="9.74" height="8.39" fill="#e5b0b3" stroke="none" stroke-width="1" />
<rect x="404.54" y="127.70" width="9.74" height="8.39" fill="#d8d8ee" stroke="none" stroke-width="1" />
<rect x="413.78" y="127.70" width="9.74" height="8.39" fill="#5a60b0" stroke="none" stroke-width="1" />
<rect x="423.02" y="127.70" width="9.74" height="8.39" fill="#d0d0ea" stroke="none" stroke-width="1" />
<rect x="432.26" y="127.70" width="9.24" height="8.39" fill="#4a52a5" stroke="none" stroke-width="1" />
<rect x="442.40" y="127.70" width="9.80" height="8.39" fill="#d0383f" stroke="none" stroke-width="1" />
<rect x="451.70" y="127.70" width="9.80" height="8.39" fill="#f7f0f0" stroke="none" stroke-width="1" />
<rect x="461.00" y="127.70" width="9.80" height="8.39" fill="#e2a8ab" stroke="none" stroke-width="1" />
<rect x="470.30" y="127.70" width="9.80" height="8.39" fill="#d2484f" stroke="none" stroke-width="1" />
<rect x="479.60" y="127.70" width="9.30" height="8.39" fill="#ca2028" stroke="none" stroke-width="1" />
<text x="492.40" y="134.04" font-size="6.5" text-anchor="start" fill="#333" font-style="italic" >Slamf1</text>
<rect x="395.30" y="135.59" width="9.74" height="8.39" fill="#f5e8e8" stroke="none" stroke-width="1" />
<rect x="404.54" y="135.59" width="9.74" height="8.39" fill="#4a52a5" stroke="none" stroke-width="1" />
<rect x="413.78" y="135.59" width="9.74" height="8.39" fill="#6a70b8" stroke="none" stroke-width="1" />
<rect x="423.02" y="135.59" width="9.74" height="8.39" fill="#f5f5fc" stroke="none" stroke-width="1" />
<rect x="432.26" y="135.59" width="9.24" height="8.39" fill="#8a8ec8" stroke="none" stroke-width="1" />
<rect x="442.40" y="135.59" width="9.80" height="8.39" fill="#d35056" stroke="none" stroke-width="1" />
<rect x="451.70" y="135.59" width="9.80" height="8.39" fill="#eac8ca" stroke="none" stroke-width="1" />
<rect x="461.00" y="135.59" width="9.80" height="8.39" fill="#d97075" stroke="none" stroke-width="1" />
<rect x="470.30" y="135.59" width="9.80" height="8.39" fill="#d0383f" stroke="none" stroke-width="1" />
<rect x="479.60" y="135.59" width="9.30" height="8.39" fill="#d0383f" stroke="none" stroke-width="1" />
<text x="492.40" y="141.93" font-size="6.5" text-anchor="start" fill="#333" font-style="italic" >Havcr2</text>
<rect x="395.30" y="143.48" width="9.74" height="8.39" fill="#f7f0f0" stroke="none" stroke-width="1" />
<rect x="404.54" y="143.48" width="9.74" height="8.39" fill="#f2e0e1" stroke="none" stroke-width="1" />
<rect x="413.78" y="143.48" width="9.74" height="8.39" fill="#3f48a0" stroke="none" stroke-width="1" />
<rect x="423.02" y="143.48" width="9.74" height="8.39" fill="#9a9ed0" stroke="none" stroke-width="1" />
<rect x="432.26" y="143.48" width="9.24" height="8.39" fill="#8a8ec8" stroke="none" stroke-width="1" />
<rect x="442.40" y="143.48" width="9.80" height="8.39" fill="#ce2830" stroke="none" stroke-width="1" />
<rect x="451.70" y="143.48" width="9.80" height="8.39" fill="#d2484f" stroke="none" stroke-width="1" />
<rect x="461.00" y="143.48" width="9.80" height="8.39" fill="#d24047" stroke="none" stroke-width="1" />
<rect x="470.30" y="143.48" width="9.80" height="8.39" fill="#f7f0f0" stroke="none" stroke-width="1" />
<rect x="479.60" y="143.48" width="9.30" height="8.39" fill="#da888c" stroke="none" stroke-width="1" />
<text x="492.40" y="149.82" font-size="6.5" text-anchor="start" fill="#333" font-style="italic" >Klrg1</text>
<rect x="395.30" y="151.37" width="9.74" height="8.39" fill="#ffffff" stroke="none" stroke-width="1" />
<rect x="404.54" y="151.37" width="9.74" height="8.39" fill="#c0c0e0" stroke="none" stroke-width="1" />
<rect x="413.78" y="151.37" width="9.74" height="8.39" fill="#e8e8f5" stroke="none" stroke-width="1" />
<rect x="423.02" y="151.37" width="9.74" height="8.39" fill="#a8a8d5" stroke="none" stroke-width="1" />
<rect x="432.26" y="151.37" width="9.24" height="8.39" fill="#4048a0" stroke="none" stroke-width="1" />
<rect x="442.40" y="151.37" width="9.80" height="8.39" fill="#ce2830" stroke="none" stroke-width="1" />
<rect x="451.70" y="151.37" width="9.80" height="8.39" fill="#da8084" stroke="none" stroke-width="1" />
<rect x="461.00" y="151.37" width="9.80" height="8.39" fill="#d5585e" stroke="none" stroke-width="1" />
<rect x="470.30" y="151.37" width="9.80" height="8.39" fill="#d35056" stroke="none" stroke-width="1" />
<rect x="479.60" y="151.37" width="9.30" height="8.39" fill="#da9094" stroke="none" stroke-width="1" />
<text x="492.40" y="157.72" font-size="6.5" text-anchor="start" fill="#333" font-style="italic" >Cxcr6</text>
<rect x="395.30" y="159.26" width="9.74" height="8.39" fill="#ffffff" stroke="none" stroke-width="1" />
<rect x="404.54" y="159.26" width="9.74" height="8.39" fill="#fdf8f8" stroke="none" stroke-width="1" />
<rect x="413.78" y="159.26" width="9.74" height="8.39" fill="#9a9ed0" stroke="none" stroke-width="1" />
<rect x="423.02" y="159.26" width="9.74" height="8.39" fill="#c5c5e5" stroke="none" stroke-width="1" />
<rect x="432.26" y="159.26" width="9.24" height="8.39" fill="#4048a0" stroke="none" stroke-width="1" />
<rect x="442.40" y="159.26" width="9.80" height="8.39" fill="#ca1821" stroke="none" stroke-width="1" />
<rect x="451.70" y="159.26" width="9.80" height="8.39" fill="#d2484f" stroke="none" stroke-width="1" />
<rect x="461.00" y="159.26" width="9.80" height="8.39" fill="#eac0c2" stroke="none" stroke-width="1" />
<rect x="470.30" y="159.26" width="9.80" height="8.39" fill="#e2a0a3" stroke="none" stroke-width="1" />
<rect x="479.60" y="159.26" width="9.30" height="8.39" fill="#da9094" stroke="none" stroke-width="1" />
<text x="492.40" y="165.61" font-size="6.5" text-anchor="start" fill="#333" font-style="italic" >Cx3cr1</text>
<rect x="395.30" y="167.15" width="9.74" height="8.39" fill="#d8d8ee" stroke="none" stroke-width="1" />
<rect x="404.54" y="167.15" width="9.74" height="8.39" fill="#c0c0e0" stroke="none" stroke-width="1" />
<rect x="413.78" y="167.15" width="9.74" height="8.39" fill="#d8d8ee" stroke="none" stroke-width="1" />
<rect x="423.02" y="167.15" width="9.74" height="8.39" fill="#8a8ec8" stroke="none" stroke-width="1" />
<rect x="432.26" y="167.15" width="9.24" height="8.39" fill="#5058a8" stroke="none" stroke-width="1" />
<rect x="442.40" y="167.15" width="9.80" height="8.39" fill="#ce2830" stroke="none" stroke-width="1" />
<rect x="451.70" y="167.15" width="9.80" height="8.39" fill="#d35056" stroke="none" stroke-width="1" />
<rect x="461.00" y="167.15" width="9.80" height="8.39" fill="#da787d" stroke="none" stroke-width="1" />
<rect x="470.30" y="167.15" width="9.80" height="8.39" fill="#c60a13" stroke="none" stroke-width="1" />
<rect x="479.60" y="167.15" width="9.30" height="8.39" fill="#ffffff" stroke="none" stroke-width="1" />
<text x="492.40" y="173.50" font-size="6.5" text-anchor="start" fill="#333" font-style="italic" >Lag3</text>
<rect x="395.30" y="175.04" width="9.74" height="8.39" fill="#e8e8f5" stroke="none" stroke-width="1" />
<rect x="404.54" y="175.04" width="9.74" height="8.39" fill="#b5b5dc" stroke="none" stroke-width="1" />
<rect x="413.78" y="175.04" width="9.74" height="8.39" fill="#b5b5dc" stroke="none" stroke-width="1" />
<rect x="423.02" y="175.04" width="9.74" height="8.39" fill="#a8a8d5" stroke="none" stroke-width="1" />
<rect x="432.26" y="175.04" width="9.24" height="8.39" fill="#4a52a5" stroke="none" stroke-width="1" />
<rect x="442.40" y="175.04" width="9.80" height="8.39" fill="#d2484f" stroke="none" stroke-width="1" />
<rect x="451.70" y="175.04" width="9.80" height="8.39" fill="#d0383f" stroke="none" stroke-width="1" />
<rect x="461.00" y="175.04" width="9.80" height="8.39" fill="#eac0c2" stroke="none" stroke-width="1" />
<rect x="470.30" y="175.04" width="9.80" height="8.39" fill="#ce2830" stroke="none" stroke-width="1" />
<rect x="479.60" y="175.04" width="9.30" height="8.39" fill="#d5585e" stroke="none" stroke-width="1" />
<text x="492.40" y="181.39" font-size="6.5" text-anchor="start" fill="#333" font-style="italic" >Prdm1</text>
<rect x="395.30" y="182.93" width="9.74" height="8.39" fill="#4a52a5" stroke="none" stroke-width="1" />
<rect x="404.54" y="182.93" width="9.74" height="8.39" fill="#b5b5dc" stroke="none" stroke-width="1" />
<rect x="413.78" y="182.93" width="9.74" height="8.39" fill="#efd8d9" stroke="none" stroke-width="1" />
<rect x="423.02" y="182.93" width="9.74" height="8.39" fill="#8a8ec8" stroke="none" stroke-width="1" />
<rect x="432.26" y="182.93" width="9.24" height="8.39" fill="#8a8ec8" stroke="none" stroke-width="1" />
<rect x="442.40" y="182.93" width="9.80" height="8.39" fill="#d24047" stroke="none" stroke-width="1" />
<rect x="451.70" y="182.93" width="9.80" height="8.39" fill="#d35056" stroke="none" stroke-width="1" />
<rect x="461.00" y="182.93" width="9.80" height="8.39" fill="#d9686d" stroke="none" stroke-width="1" />
<rect x="470.30" y="182.93" width="9.80" height="8.39" fill="#d5585e" stroke="none" stroke-width="1" />
<rect x="479.60" y="182.93" width="9.30" height="8.39" fill="#d56066" stroke="none" stroke-width="1" />
<text x="492.40" y="189.28" font-size="6.5" text-anchor="start" fill="#333" font-style="italic" >Irf4</text>
<rect x="395.30" y="190.83" width="9.74" height="8.39" fill="#b5b5dc" stroke="none" stroke-width="1" />
<rect x="404.54" y="190.83" width="9.74" height="8.39" fill="#b5b5dc" stroke="none" stroke-width="1" />
<rect x="413.78" y="190.83" width="9.74" height="8.39" fill="#c0c0e0" stroke="none" stroke-width="1" />
<rect x="423.02" y="190.83" width="9.74" height="8.39" fill="#ececf8" stroke="none" stroke-width="1" />
<rect x="432.26" y="190.83" width="9.24" height="8.39" fill="#4a52a5" stroke="none" stroke-width="1" />
<rect x="442.40" y="190.83" width="9.80" height="8.39" fill="#ca2028" stroke="none" stroke-width="1" />
<rect x="451.70" y="190.83" width="9.80" height="8.39" fill="#da8084" stroke="none" stroke-width="1" />
<rect x="461.00" y="190.83" width="9.80" height="8.39" fill="#da888c" stroke="none" stroke-width="1" />
<rect x="470.30" y="190.83" width="9.80" height="8.39" fill="#d2484f" stroke="none" stroke-width="1" />
<rect x="479.60" y="190.83" width="9.30" height="8.39" fill="#d5585e" stroke="none" stroke-width="1" />
<text x="492.40" y="197.17" font-size="6.5" text-anchor="start" fill="#333" font-style="italic" >Prf1</text>
<rect x="395.30" y="198.72" width="9.74" height="8.39" fill="#b5b5dc" stroke="none" stroke-width="1" />
<rect x="404.54" y="198.72" width="9.74" height="8.39" fill="#e0e0f0" stroke="none" stroke-width="1" />
<rect x="413.78" y="198.72" width="9.74" height="8.39" fill="#c8c8e5" stroke="none" stroke-width="1" />
<rect x="423.02" y="198.72" width="9.74" height="8.39" fill="#d8d8ee" stroke="none" stroke-width="1" />
<rect x="432.26" y="198.72" width="9.24" height="8.39" fill="#4a52a5" stroke="none" stroke-width="1" />
<rect x="442.40" y="198.72" width="9.80" height="8.39" fill="#ce2830" stroke="none" stroke-width="1" />
<rect x="451.70" y="198.72" width="9.80" height="8.39" fill="#da7075" stroke="none" stroke-width="1" />
<rect x="461.00" y="198.72" width="9.80" height="8.39" fill="#da9094" stroke="none" stroke-width="1" />
<rect x="470.30" y="198.72" width="9.80" height="8.39" fill="#da9094" stroke="none" stroke-width="1" />
<rect x="479.60" y="198.72" width="9.30" height="8.39" fill="#ce2830" stroke="none" stroke-width="1" />
<text x="492.40" y="205.06" font-size="6.5" text-anchor="start" fill="#333" font-style="italic" >Entpd1</text>
<rect x="395.30" y="206.61" width="9.74" height="7.89" fill="#b0b0d8" stroke="none" stroke-width="1" />
<rect x="404.54" y="206.61" width="9.74" height="7.89" fill="#8a8ec8" stroke="none" stroke-width="1" />
<rect x="413.78" y="206.61" width="9.74" height="7.89" fill="#c0c0e0" stroke="none" stroke-width="1" />
<rect x="423.02" y="206.61" width="9.74" height="7.89" fill="#d0d0ea" stroke="none" stroke-width="1" />
<rect x="432.26" y="206.61" width="9.24" height="7.89" fill="#6068b0" stroke="none" stroke-width="1" />
<rect x="442.40" y="206.61" width="9.80" height="7.89" fill="#ce2830" stroke="none" stroke-width="1" />
<rect x="451.70" y="206.61" width="9.80" height="7.89" fill="#d56066" stroke="none" stroke-width="1" />
<rect x="461.00" y="206.61" width="9.80" height="7.89" fill="#da888c" stroke="none" stroke-width="1" />
<rect x="470.30" y="206.61" width="9.80" height="7.89" fill="#e2a0a3" stroke="none" stroke-width="1" />
<rect x="479.60" y="206.61" width="9.30" height="7.89" fill="#ca2028" stroke="none" stroke-width="1" />
<text x="492.40" y="212.95" font-size="6.5" text-anchor="start" fill="#333" font-style="italic" >Fasl</text>
<text x="418.50" y="28.80" font-size="7.4" text-anchor="middle" fill="#222" textLength="29.6" lengthAdjust="spacingAndGlyphs" >KO CAR-T</text>
<text x="465.90" y="28.80" font-size="7.4" text-anchor="middle" fill="#222" textLength="34.4" lengthAdjust="spacingAndGlyphs" >DKO CAR-T</text>
<text x="476.40" y="226.20" font-size="7.2" text-anchor="middle" fill="#222" textLength="37.7" lengthAdjust="spacingAndGlyphs" >Row Z−Score</text>
<defs><linearGradient id="zg" x1="0" y1="0" x2="0" y2="1"><stop offset="0" stop-color="#c80018"/><stop offset="0.25" stop-color="#d86070"/><stop offset="0.5" stop-color="#ffffff"/><stop offset="0.75" stop-color="#7078c0"/><stop offset="1" stop-color="#2a3590"/></linearGradient></defs>
<rect x="474.00" y="230.60" width="5.80" height="26.50" fill="url(#zg)" stroke="none" stroke-width="1" />
<text x="482.90" y="234.10" font-size="6.8" text-anchor="start" fill="#222" >2</text>
<text x="482.90" y="239.90" font-size="6.8" text-anchor="start" fill="#222" >1</text>
<text x="482.90" y="245.70" font-size="6.8" text-anchor="start" fill="#222" >0</text>
<text x="482.00" y="251.80" font-size="6.8" text-anchor="start" fill="#222" >−1</text>
<text x="482.00" y="257.80" font-size="6.8" text-anchor="start" fill="#222" >−2</text>
<text x="82.50" y="166.30" font-size="9.6" text-anchor="middle" fill="#222" textLength="26.5" lengthAdjust="spacingAndGlyphs" >Spleen</text>
<text x="129.30" y="166.30" font-size="9.6" text-anchor="middle" fill="#222" textLength="50.7" lengthAdjust="spacingAndGlyphs" >Bone marrow</text>
<text x="37.70" y="190.80" font-size="7.6" text-anchor="middle" fill="#333" textLength="9.5" lengthAdjust="spacingAndGlyphs" >KO</text>
<text x="37.70" y="199.00" font-size="7.6" text-anchor="middle" fill="#333" textLength="18.5" lengthAdjust="spacingAndGlyphs" >CAR-T</text>
<text x="37.70" y="236.60" font-size="7.6" text-anchor="middle" fill="#333" textLength="13.5" lengthAdjust="spacingAndGlyphs" >DKO</text>
<text x="37.70" y="244.30" font-size="7.6" text-anchor="middle" fill="#333" textLength="18.5" lengthAdjust="spacingAndGlyphs" >CAR-T</text>
<line x1="54.00" y1="208.50" x2="54.00" y2="231.60" stroke="#000" stroke-width="1.1" />
<polygon points="54,204.9 51.8,209.9 56.2,209.9" fill="#000"/>
<text x="57.00" y="245.60" font-size="9" text-anchor="middle" fill="#222" textLength="23" lengthAdjust="spacingAndGlyphs" transform="rotate(-90 57.00 245.60)" >KLRG1</text>
<text x="70.60" y="269.40" font-size="9" text-anchor="middle" fill="#222" textLength="20.8" lengthAdjust="spacingAndGlyphs" >CD127</text>
<line x1="84.20" y1="266.20" x2="110.50" y2="266.20" stroke="#000" stroke-width="1.1" />
<polygon points="113.8,266.2 108.8,264.0 108.8,268.4" fill="#000"/>
<rect x="61.50" y="171.50" width="42.80" height="41.90" fill="none" stroke="#cfcfcf" stroke-width="0.8" />
<line x1="60.30" y1="175.69" x2="61.50" y2="175.69" stroke="#888" stroke-width="0.5" />
<line x1="60.30" y1="179.88" x2="61.50" y2="179.88" stroke="#888" stroke-width="0.5" />
<line x1="60.30" y1="184.07" x2="61.50" y2="184.07" stroke="#888" stroke-width="0.5" />
<line x1="60.30" y1="188.26" x2="61.50" y2="188.26" stroke="#888" stroke-width="0.5" />
<line x1="60.30" y1="192.45" x2="61.50" y2="192.45" stroke="#888" stroke-width="0.5" />
<line x1="60.30" y1="196.64" x2="61.50" y2="196.64" stroke="#888" stroke-width="0.5" />
<line x1="60.30" y1="200.83" x2="61.50" y2="200.83" stroke="#888" stroke-width="0.5" />
<line x1="60.30" y1="205.02" x2="61.50" y2="205.02" stroke="#888" stroke-width="0.5" />
<line x1="60.30" y1="209.21" x2="61.50" y2="209.21" stroke="#888" stroke-width="0.5" />
<line x1="65.78" y1="213.40" x2="65.78" y2="214.60" stroke="#888" stroke-width="0.5" />
<line x1="70.06" y1="213.40" x2="70.06" y2="214.60" stroke="#888" stroke-width="0.5" />
<line x1="74.34" y1="213.40" x2="74.34" y2="214.60" stroke="#888" stroke-width="0.5" />
<line x1="78.62" y1="213.40" x2="78.62" y2="214.60" stroke="#888" stroke-width="0.5" />
<line x1="82.90" y1="213.40" x2="82.90" y2="214.60" stroke="#888" stroke-width="0.5" />
<line x1="87.18" y1="213.40" x2="87.18" y2="214.60" stroke="#888" stroke-width="0.5" />
<line x1="91.46" y1="213.40" x2="91.46" y2="214.60" stroke="#888" stroke-width="0.5" />
<line x1="95.74" y1="213.40" x2="95.74" y2="214.60" stroke="#888" stroke-width="0.5" />
<line x1="100.02" y1="213.40" x2="100.02" y2="214.60" stroke="#888" stroke-width="0.5" />
<line x1="61.50" y1="198.60" x2="104.30" y2="198.60" stroke="#8a8a8a" stroke-width="0.8" />
<line x1="78.30" y1="171.50" x2="78.30" y2="213.40" stroke="#8a8a8a" stroke-width="0.8" />
<text x="62.70" y="177.30" font-size="6.3" text-anchor="start" fill="#222" >19.0</text>
<text x="102.70" y="177.30" font-size="6.3" text-anchor="end" fill="#222" >3.0</text>
<text x="62.70" y="212.00" font-size="6.3" text-anchor="start" fill="#222" >56.3</text>
<text x="102.70" y="212.00" font-size="6.3" text-anchor="end" fill="#222" >21.6</text>
<path d="M77.0 198.4h0.6v0.6h-0.6zM74.2 186.2h0.6v0.6h-0.6zM72.3 188.7h0.6v0.6h-0.6zM75.3 188.1h0.6v0.6h-0.6zM78.8 196.7h0.6v0.6h-0.6zM86.3 197.4h0.6v0.6h-0.6zM78.1 192.5h0.6v0.6h-0.6zM69.3 202.0h0.6v0.6h-0.6zM74.1 197.0h0.6v0.6h-0.6zM75.1 198.3h0.6v0.6h-0.6zM62.2 184.8h0.6v0.6h-0.6zM76.7 206.1h0.6v0.6h-0.6zM74.5 191.3h0.6v0.6h-0.6zM71.2 191.9h0.6v0.6h-0.6zM79.0 194.2h0.6v0.6h-0.6zM74.1 187.6h0.6v0.6h-0.6zM77.1 203.0h0.6v0.6h-0.6zM76.8 192.1h0.6v0.6h-0.6zM64.9 196.3h0.6v0.6h-0.6zM75.6 192.5h0.6v0.6h-0.6zM65.6 189.0h0.6v0.6h-0.6zM74.1 188.1h0.6v0.6h-0.6zM71.0 200.5h0.6v0.6h-0.6zM67.6 193.2h0.6v0.6h-0.6zM76.5 190.2h0.6v0.6h-0.6zM62.9 194.9h0.6v0.6h-0.6zM77.9 184.3h0.6v0.6h-0.6zM70.3 190.9h0.6v0.6h-0.6zM80.6 185.0h0.6v0.6h-0.6zM70.7 185.7h0.6v0.6h-0.6zM66.0 193.5h0.6v0.6h-0.6zM70.1 192.6h0.6v0.6h-0.6zM67.7 185.1h0.6v0.6h-0.6zM78.1 201.2h0.6v0.6h-0.6zM72.2 191.6h0.6v0.6h-0.6zM80.7 196.1h0.6v0.6h-0.6zM74.0 198.2h0.6v0.6h-0.6zM66.7 189.0h0.6v0.6h-0.6zM72.9 187.5h0.6v0.6h-0.6zM72.5 194.7h0.6v0.6h-0.6zM76.0 196.1h0.6v0.6h-0.6zM63.5 192.7h0.6v0.6h-0.6zM74.5 198.8h0.6v0.6h-0.6zM78.6 192.0h0.6v0.6h-0.6zM71.1 187.2h0.6v0.6h-0.6zM69.3 189.2h0.6v0.6h-0.6zM64.1 191.8h0.6v0.6h-0.6zM78.7 201.6h0.6v0.6h-0.6zM74.3 192.9h0.6v0.6h-0.6zM74.5 197.6h0.6v0.6h-0.6zM75.7 195.5h0.6v0.6h-0.6zM71.1 192.0h0.6v0.6h-0.6zM86.2 198.9h0.6v0.6h-0.6zM66.9 197.6h0.6v0.6h-0.6zM67.6 194.7h0.6v0.6h-0.6zM69.2 194.9h0.6v0.6h-0.6zM69.0 192.2h0.6v0.6h-0.6zM75.5 196.7h0.6v0.6h-0.6zM69.2 196.3h0.6v0.6h-0.6zM72.0 190.8h0.6v0.6h-0.6zM79.0 193.9h0.6v0.6h-0.6zM72.4 197.9h0.6v0.6h-0.6zM68.3 205.1h0.6v0.6h-0.6zM80.7 193.7h0.6v0.6h-0.6zM73.1 194.7h0.6v0.6h-0.6zM77.4 196.0h0.6v0.6h-0.6zM67.7 188.5h0.6v0.6h-0.6zM79.7 186.6h0.6v0.6h-0.6zM67.6 200.0h0.6v0.6h-0.6zM63.9 196.8h0.6v0.6h-0.6zM79.6 206.5h0.6v0.6h-0.6zM81.2 195.0h0.6v0.6h-0.6zM66.5 201.2h0.6v0.6h-0.6zM80.8 202.3h0.6v0.6h-0.6zM82.8 194.2h0.6v0.6h-0.6zM70.9 188.3h0.6v0.6h-0.6zM75.7 198.4h0.6v0.6h-0.6zM69.1 195.1h0.6v0.6h-0.6zM79.1 202.1h0.6v0.6h-0.6zM68.5 192.8h0.6v0.6h-0.6zM67.0 189.0h0.6v0.6h-0.6zM78.2 199.0h0.6v0.6h-0.6zM70.5 192.8h0.6v0.6h-0.6zM69.2 203.5h0.6v0.6h-0.6zM69.3 192.3h0.6v0.6h-0.6zM67.8 197.4h0.6v0.6h-0.6zM69.9 184.4h0.6v0.6h-0.6zM74.6 194.8h0.6v0.6h-0.6zM71.9 194.4h0.6v0.6h-0.6zM74.6 196.0h0.6v0.6h-0.6z" fill="#aaa"/>
<path d="M64.80 199.00 L64.80 190.00 Q65.50 185.80 70.30 185.80 Q75.50 186.00 75.80 191.00 L75.80 199.00 Z" fill="#c4c4c4" stroke="#777" stroke-width="1.2"/>
<ellipse cx="70.80" cy="193.60" rx="3.0" ry="4.0" fill="#b0b0b0" stroke="#666" stroke-width="0.9"/>
<line x1="70.60" y1="191.00" x2="70.60" y2="197.50" stroke="#fff" stroke-width="0.8" />
<ellipse cx="71.80" cy="192.00" rx="1.0" ry="1.4" fill="#555"/>
<rect x="64.60" y="198.90" width="20.6" height="7.9" rx="3.9" ry="3.9" fill="#2a2a2a" stroke="#000" stroke-width="1.7"/>
<ellipse cx="81.90" cy="202.40" rx="2.3" ry="2.8" fill="#3a3a3a" stroke="#000" stroke-width="0.8"/>
<line x1="67.50" y1="204.20" x2="77.50" y2="203.90" stroke="#fff" stroke-width="0.9" />
<rect x="61.50" y="217.40" width="42.80" height="41.80" fill="none" stroke="#cfcfcf" stroke-width="0.8" />
<line x1="60.30" y1="221.58" x2="61.50" y2="221.58" stroke="#888" stroke-width="0.5" />
<line x1="60.30" y1="225.76" x2="61.50" y2="225.76" stroke="#888" stroke-width="0.5" />
<line x1="60.30" y1="229.94" x2="61.50" y2="229.94" stroke="#888" stroke-width="0.5" />
<line x1="60.30" y1="234.12" x2="61.50" y2="234.12" stroke="#888" stroke-width="0.5" />
<line x1="60.30" y1="238.30" x2="61.50" y2="238.30" stroke="#888" stroke-width="0.5" />
<line x1="60.30" y1="242.48" x2="61.50" y2="242.48" stroke="#888" stroke-width="0.5" />
<line x1="60.30" y1="246.66" x2="61.50" y2="246.66" stroke="#888" stroke-width="0.5" />
<line x1="60.30" y1="250.84" x2="61.50" y2="250.84" stroke="#888" stroke-width="0.5" />
<line x1="60.30" y1="255.02" x2="61.50" y2="255.02" stroke="#888" stroke-width="0.5" />
<line x1="65.78" y1="259.20" x2="65.78" y2="260.40" stroke="#888" stroke-width="0.5" />
<line x1="70.06" y1="259.20" x2="70.06" y2="260.40" stroke="#888" stroke-width="0.5" />
<line x1="74.34" y1="259.20" x2="74.34" y2="260.40" stroke="#888" stroke-width="0.5" />
<line x1="78.62" y1="259.20" x2="78.62" y2="260.40" stroke="#888" stroke-width="0.5" />
<line x1="82.90" y1="259.20" x2="82.90" y2="260.40" stroke="#888" stroke-width="0.5" />
<line x1="87.18" y1="259.20" x2="87.18" y2="260.40" stroke="#888" stroke-width="0.5" />
<line x1="91.46" y1="259.20" x2="91.46" y2="260.40" stroke="#888" stroke-width="0.5" />
<line x1="95.74" y1="259.20" x2="95.74" y2="260.40" stroke="#888" stroke-width="0.5" />
<line x1="100.02" y1="259.20" x2="100.02" y2="260.40" stroke="#888" stroke-width="0.5" />
<line x1="61.50" y1="244.90" x2="104.30" y2="244.90" stroke="#8a8a8a" stroke-width="0.8" />
<line x1="78.30" y1="217.40" x2="78.30" y2="259.20" stroke="#8a8a8a" stroke-width="0.8" />
<text x="62.70" y="223.20" font-size="6.3" text-anchor="start" fill="#222" >34.1</text>
<text x="102.70" y="223.20" font-size="6.3" text-anchor="end" fill="#222" >1.3</text>
<text x="62.70" y="257.80" font-size="6.3" text-anchor="start" fill="#222" >58.0</text>
<text x="102.70" y="257.80" font-size="6.3" text-anchor="end" fill="#222" >6.7</text>
<path d="M70.4 240.1h0.6v0.6h-0.6zM83.0 239.0h0.6v0.6h-0.6zM66.5 243.8h0.6v0.6h-0.6zM73.7 246.1h0.6v0.6h-0.6zM71.3 250.9h0.6v0.6h-0.6zM75.8 257.5h0.6v0.6h-0.6zM75.7 243.7h0.6v0.6h-0.6zM79.5 247.4h0.6v0.6h-0.6zM69.6 247.0h0.6v0.6h-0.6zM70.1 249.6h0.6v0.6h-0.6zM70.5 244.3h0.6v0.6h-0.6zM69.5 244.2h0.6v0.6h-0.6zM79.4 249.2h0.6v0.6h-0.6zM70.2 234.0h0.6v0.6h-0.6zM76.3 238.0h0.6v0.6h-0.6zM69.6 246.3h0.6v0.6h-0.6zM67.5 247.0h0.6v0.6h-0.6zM78.0 242.3h0.6v0.6h-0.6zM69.0 240.8h0.6v0.6h-0.6zM80.0 243.3h0.6v0.6h-0.6zM78.8 242.5h0.6v0.6h-0.6zM73.7 243.3h0.6v0.6h-0.6zM73.7 244.0h0.6v0.6h-0.6zM77.0 249.4h0.6v0.6h-0.6zM72.4 236.4h0.6v0.6h-0.6zM70.1 236.4h0.6v0.6h-0.6zM63.8 242.1h0.6v0.6h-0.6zM69.6 253.2h0.6v0.6h-0.6zM70.5 233.5h0.6v0.6h-0.6zM74.9 242.1h0.6v0.6h-0.6zM77.1 243.1h0.6v0.6h-0.6zM81.7 237.9h0.6v0.6h-0.6zM74.2 239.4h0.6v0.6h-0.6zM70.9 232.0h0.6v0.6h-0.6zM75.9 232.1h0.6v0.6h-0.6zM74.8 244.9h0.6v0.6h-0.6zM74.9 232.5h0.6v0.6h-0.6zM76.8 237.9h0.6v0.6h-0.6zM74.9 239.9h0.6v0.6h-0.6zM82.0 238.7h0.6v0.6h-0.6zM72.1 243.9h0.6v0.6h-0.6zM66.4 239.2h0.6v0.6h-0.6zM72.1 243.7h0.6v0.6h-0.6zM71.5 253.0h0.6v0.6h-0.6zM81.9 249.6h0.6v0.6h-0.6zM73.0 246.1h0.6v0.6h-0.6zM82.7 252.9h0.6v0.6h-0.6zM76.2 238.9h0.6v0.6h-0.6zM78.4 246.9h0.6v0.6h-0.6zM73.5 241.4h0.6v0.6h-0.6zM67.1 233.2h0.6v0.6h-0.6zM67.4 244.0h0.6v0.6h-0.6zM74.1 237.8h0.6v0.6h-0.6zM72.0 250.7h0.6v0.6h-0.6zM67.7 239.6h0.6v0.6h-0.6zM67.7 254.2h0.6v0.6h-0.6zM71.4 250.8h0.6v0.6h-0.6zM76.6 238.3h0.6v0.6h-0.6zM76.0 243.4h0.6v0.6h-0.6zM75.3 243.4h0.6v0.6h-0.6zM76.0 245.8h0.6v0.6h-0.6zM69.6 246.8h0.6v0.6h-0.6zM69.6 234.2h0.6v0.6h-0.6zM71.4 236.7h0.6v0.6h-0.6zM70.0 235.5h0.6v0.6h-0.6zM76.9 247.4h0.6v0.6h-0.6zM70.2 250.2h0.6v0.6h-0.6zM72.7 237.6h0.6v0.6h-0.6zM68.4 244.6h0.6v0.6h-0.6zM72.6 243.7h0.6v0.6h-0.6zM86.5 247.8h0.6v0.6h-0.6zM72.7 235.6h0.6v0.6h-0.6zM71.2 237.9h0.6v0.6h-0.6zM70.3 227.7h0.6v0.6h-0.6zM73.7 235.4h0.6v0.6h-0.6zM83.1 240.6h0.6v0.6h-0.6zM77.3 244.2h0.6v0.6h-0.6zM69.6 243.4h0.6v0.6h-0.6zM71.1 239.8h0.6v0.6h-0.6zM72.8 230.2h0.6v0.6h-0.6zM79.4 245.5h0.6v0.6h-0.6zM72.4 250.5h0.6v0.6h-0.6zM68.5 226.7h0.6v0.6h-0.6zM74.2 236.8h0.6v0.6h-0.6zM72.7 238.6h0.6v0.6h-0.6zM71.9 235.9h0.6v0.6h-0.6zM72.7 246.4h0.6v0.6h-0.6zM74.7 252.5h0.6v0.6h-0.6zM75.7 244.5h0.6v0.6h-0.6zM73.9 245.3h0.6v0.6h-0.6zM72.2 234.1h0.6v0.6h-0.6zM68.1 230.9h0.6v0.6h-0.6zM71.8 242.5h0.6v0.6h-0.6zM75.0 248.7h0.6v0.6h-0.6zM70.8 228.9h0.6v0.6h-0.6zM69.8 241.7h0.6v0.6h-0.6zM64.2 234.3h0.6v0.6h-0.6zM67.8 254.0h0.6v0.6h-0.6zM77.9 237.5h0.6v0.6h-0.6zM70.7 242.4h0.6v0.6h-0.6zM74.0 243.1h0.6v0.6h-0.6zM67.6 235.9h0.6v0.6h-0.6zM79.1 241.7h0.6v0.6h-0.6zM77.6 241.8h0.6v0.6h-0.6zM74.1 243.6h0.6v0.6h-0.6zM71.7 249.2h0.6v0.6h-0.6zM76.8 241.6h0.6v0.6h-0.6zM73.7 251.6h0.6v0.6h-0.6zM68.6 246.9h0.6v0.6h-0.6zM78.1 251.6h0.6v0.6h-0.6z" fill="#aaa"/>
<ellipse cx="72.40" cy="239.60" rx="5.6" ry="7.6" fill="#bbb" opacity="0.8"/>
<ellipse cx="72.50" cy="239.80" rx="4.6" ry="6.8" fill="#3a3a3a" stroke="#111" stroke-width="1.3"/>
<path d="M71.50 238.50 q1.6 1.5 0 3 q-1.5 1.5 0.5 3.5" fill="none" stroke="#999" stroke-width="0.7"/>
<circle cx="72.70" cy="237.40" r="0.90" fill="#fff" stroke="none" stroke-width="1"/>
<ellipse cx="72.70" cy="249.40" rx="6.4" ry="3.2" fill="#000"/>
<line x1="70.50" y1="250.30" x2="75.00" y2="250.30" stroke="#999" stroke-width="0.6" />
<rect x="108.40" y="171.50" width="42.80" height="41.90" fill="none" stroke="#cfcfcf" stroke-width="0.8" />
<line x1="107.20" y1="175.69" x2="108.40" y2="175.69" stroke="#888" stroke-width="0.5" />
<line x1="107.20" y1="179.88" x2="108.40" y2="179.88" stroke="#888" stroke-width="0.5" />
<line x1="107.20" y1="184.07" x2="108.40" y2="184.07" stroke="#888" stroke-width="0.5" />
<line x1="107.20" y1="188.26" x2="108.40" y2="188.26" stroke="#888" stroke-width="0.5" />
<line x1="107.20" y1="192.45" x2="108.40" y2="192.45" stroke="#888" stroke-width="0.5" />
<line x1="107.20" y1="196.64" x2="108.40" y2="196.64" stroke="#888" stroke-width="0.5" />
<line x1="107.20" y1="200.83" x2="108.40" y2="200.83" stroke="#888" stroke-width="0.5" />
<line x1="107.20" y1="205.02" x2="108.40" y2="205.02" stroke="#888" stroke-width="0.5" />
<line x1="107.20" y1="209.21" x2="108.40" y2="209.21" stroke="#888" stroke-width="0.5" />
<line x1="112.68" y1="213.40" x2="112.68" y2="214.60" stroke="#888" stroke-width="0.5" />
<line x1="116.96" y1="213.40" x2="116.96" y2="214.60" stroke="#888" stroke-width="0.5" />
<line x1="121.24" y1="213.40" x2="121.24" y2="214.60" stroke="#888" stroke-width="0.5" />
<line x1="125.52" y1="213.40" x2="125.52" y2="214.60" stroke="#888" stroke-width="0.5" />
<line x1="129.80" y1="213.40" x2="129.80" y2="214.60" stroke="#888" stroke-width="0.5" />
<line x1="134.08" y1="213.40" x2="134.08" y2="214.60" stroke="#888" stroke-width="0.5" />
<line x1="138.36" y1="213.40" x2="138.36" y2="214.60" stroke="#888" stroke-width="0.5" />
<line x1="142.64" y1="213.40" x2="142.64" y2="214.60" stroke="#888" stroke-width="0.5" />
<line x1="146.92" y1="213.40" x2="146.92" y2="214.60" stroke="#888" stroke-width="0.5" />
<line x1="108.40" y1="198.60" x2="151.20" y2="198.60" stroke="#8a8a8a" stroke-width="0.8" />
<line x1="125.60" y1="171.50" x2="125.60" y2="213.40" stroke="#8a8a8a" stroke-width="0.8" />
<text x="109.60" y="177.30" font-size="6.3" text-anchor="start" fill="#222" >21.1</text>
<text x="149.60" y="177.30" font-size="6.3" text-anchor="end" fill="#222" >4.2</text>
<text x="109.60" y="212.00" font-size="6.3" text-anchor="start" fill="#222" >57.1</text>
<text x="149.60" y="212.00" font-size="6.3" text-anchor="end" fill="#222" >17.6</text>
<path d="M125.3 192.0h0.6v0.6h-0.6zM121.9 190.6h0.6v0.6h-0.6zM115.1 194.4h0.6v0.6h-0.6zM117.6 193.5h0.6v0.6h-0.6zM115.4 196.2h0.6v0.6h-0.6zM130.6 196.3h0.6v0.6h-0.6zM122.8 192.5h0.6v0.6h-0.6zM114.9 189.5h0.6v0.6h-0.6zM112.8 197.0h0.6v0.6h-0.6zM117.3 190.6h0.6v0.6h-0.6zM115.3 198.5h0.6v0.6h-0.6zM133.8 193.5h0.6v0.6h-0.6zM121.0 188.5h0.6v0.6h-0.6zM133.9 186.5h0.6v0.6h-0.6zM122.8 191.8h0.6v0.6h-0.6zM116.2 195.9h0.6v0.6h-0.6zM114.5 194.1h0.6v0.6h-0.6zM121.6 196.4h0.6v0.6h-0.6zM126.4 182.9h0.6v0.6h-0.6zM120.3 193.7h0.6v0.6h-0.6zM119.5 196.7h0.6v0.6h-0.6zM116.0 194.8h0.6v0.6h-0.6zM113.3 194.4h0.6v0.6h-0.6zM115.0 189.6h0.6v0.6h-0.6zM118.1 194.0h0.6v0.6h-0.6zM125.8 192.1h0.6v0.6h-0.6zM123.5 190.8h0.6v0.6h-0.6zM135.5 202.3h0.6v0.6h-0.6zM116.3 194.1h0.6v0.6h-0.6zM133.3 191.4h0.6v0.6h-0.6zM131.2 201.9h0.6v0.6h-0.6zM122.0 195.9h0.6v0.6h-0.6zM127.2 202.2h0.6v0.6h-0.6zM113.9 190.1h0.6v0.6h-0.6zM118.3 190.0h0.6v0.6h-0.6zM122.2 194.8h0.6v0.6h-0.6zM120.5 200.6h0.6v0.6h-0.6zM121.5 194.7h0.6v0.6h-0.6zM120.2 194.7h0.6v0.6h-0.6zM122.9 194.9h0.6v0.6h-0.6zM123.8 197.1h0.6v0.6h-0.6zM125.1 188.0h0.6v0.6h-0.6zM122.2 194.1h0.6v0.6h-0.6zM116.5 198.7h0.6v0.6h-0.6zM112.7 195.8h0.6v0.6h-0.6zM118.4 187.0h0.6v0.6h-0.6zM120.0 198.0h0.6v0.6h-0.6zM127.2 193.7h0.6v0.6h-0.6zM131.8 188.2h0.6v0.6h-0.6zM123.0 187.5h0.6v0.6h-0.6zM119.6 189.9h0.6v0.6h-0.6zM121.5 198.8h0.6v0.6h-0.6zM121.3 196.9h0.6v0.6h-0.6zM122.8 196.0h0.6v0.6h-0.6zM123.1 194.3h0.6v0.6h-0.6zM119.7 192.4h0.6v0.6h-0.6zM117.4 186.4h0.6v0.6h-0.6zM123.3 198.9h0.6v0.6h-0.6zM117.4 192.3h0.6v0.6h-0.6zM123.4 195.1h0.6v0.6h-0.6zM127.1 201.0h0.6v0.6h-0.6zM121.5 192.0h0.6v0.6h-0.6zM121.7 183.3h0.6v0.6h-0.6zM121.2 199.8h0.6v0.6h-0.6zM120.6 199.2h0.6v0.6h-0.6zM120.3 190.7h0.6v0.6h-0.6zM111.5 193.9h0.6v0.6h-0.6zM130.3 184.6h0.6v0.6h-0.6zM124.9 191.1h0.6v0.6h-0.6zM112.4 203.0h0.6v0.6h-0.6zM126.9 187.1h0.6v0.6h-0.6zM122.5 196.4h0.6v0.6h-0.6zM120.2 190.0h0.6v0.6h-0.6zM114.5 189.1h0.6v0.6h-0.6zM116.4 191.4h0.6v0.6h-0.6zM127.4 192.5h0.6v0.6h-0.6zM125.2 194.1h0.6v0.6h-0.6zM118.9 195.5h0.6v0.6h-0.6zM126.4 184.8h0.6v0.6h-0.6zM118.6 194.0h0.6v0.6h-0.6zM117.4 193.0h0.6v0.6h-0.6zM116.8 196.6h0.6v0.6h-0.6zM115.5 198.4h0.6v0.6h-0.6zM114.0 182.5h0.6v0.6h-0.6zM126.4 186.5h0.6v0.6h-0.6zM124.3 199.5h0.6v0.6h-0.6zM115.1 197.6h0.6v0.6h-0.6zM125.6 196.8h0.6v0.6h-0.6zM131.8 191.5h0.6v0.6h-0.6zM121.2 192.0h0.6v0.6h-0.6z" fill="#aaa"/>
<path d="M111.70 199.00 L111.70 190.00 Q112.40 185.80 117.20 185.80 Q122.40 186.00 122.70 191.00 L122.70 199.00 Z" fill="#c4c4c4" stroke="#777" stroke-width="1.2"/>
<ellipse cx="117.70" cy="193.60" rx="3.0" ry="4.0" fill="#b0b0b0" stroke="#666" stroke-width="0.9"/>
<line x1="117.50" y1="191.00" x2="117.50" y2="197.50" stroke="#fff" stroke-width="0.8" />
<ellipse cx="118.70" cy="192.00" rx="1.0" ry="1.4" fill="#555"/>
<rect x="111.50" y="198.90" width="20.6" height="7.9" rx="3.9" ry="3.9" fill="#2a2a2a" stroke="#000" stroke-width="1.7"/>
<ellipse cx="128.80" cy="202.40" rx="2.3" ry="2.8" fill="#3a3a3a" stroke="#000" stroke-width="0.8"/>
<line x1="114.40" y1="204.20" x2="124.40" y2="203.90" stroke="#fff" stroke-width="0.9" />
<rect x="108.40" y="217.40" width="42.80" height="41.80" fill="none" stroke="#cfcfcf" stroke-width="0.8" />
<line x1="107.20" y1="221.58" x2="108.40" y2="221.58" stroke="#888" stroke-width="0.5" />
<line x1="107.20" y1="225.76" x2="108.40" y2="225.76" stroke="#888" stroke-width="0.5" />
<line x1="107.20" y1="229.94" x2="108.40" y2="229.94" stroke="#888" stroke-width="0.5" />
<line x1="107.20" y1="234.12" x2="108.40" y2="234.12" stroke="#888" stroke-width="0.5" />
<line x1="107.20" y1="238.30" x2="108.40" y2="238.30" stroke="#888" stroke-width="0.5" />
<line x1="107.20" y1="242.48" x2="108.40" y2="242.48" stroke="#888" stroke-width="0.5" />
<line x1="107.20" y1="246.66" x2="108.40" y2="246.66" stroke="#888" stroke-width="0.5" />
<line x1="107.20" y1="250.84" x2="108.40" y2="250.84" stroke="#888" stroke-width="0.5" />
<line x1="107.20" y1="255.02" x2="108.40" y2="255.02" stroke="#888" stroke-width="0.5" />
<line x1="112.68" y1="259.20" x2="112.68" y2="260.40" stroke="#888" stroke-width="0.5" />
<line x1="116.96" y1="259.20" x2="116.96" y2="260.40" stroke="#888" stroke-width="0.5" />
<line x1="121.24" y1="259.20" x2="121.24" y2="260.40" stroke="#888" stroke-width="0.5" />
<line x1="125.52" y1="259.20" x2="125.52" y2="260.40" stroke="#888" stroke-width="0.5" />
<line x1="129.80" y1="259.20" x2="129.80" y2="260.40" stroke="#888" stroke-width="0.5" />
<line x1="134.08" y1="259.20" x2="134.08" y2="260.40" stroke="#888" stroke-width="0.5" />
<line x1="138.36" y1="259.20" x2="138.36" y2="260.40" stroke="#888" stroke-width="0.5" />
<line x1="142.64" y1="259.20" x2="142.64" y2="260.40" stroke="#888" stroke-width="0.5" />
<line x1="146.92" y1="259.20" x2="146.92" y2="260.40" stroke="#888" stroke-width="0.5" />
<line x1="108.40" y1="244.90" x2="151.20" y2="244.90" stroke="#8a8a8a" stroke-width="0.8" />
<line x1="125.60" y1="217.40" x2="125.60" y2="259.20" stroke="#8a8a8a" stroke-width="0.8" />
<text x="109.60" y="223.20" font-size="6.3" text-anchor="start" fill="#222" >33.7</text>
<text x="149.60" y="223.20" font-size="6.3" text-anchor="end" fill="#222" >2.1</text>
<text x="109.60" y="257.80" font-size="6.3" text-anchor="start" fill="#222" >55.6</text>
<text x="149.60" y="257.80" font-size="6.3" text-anchor="end" fill="#222" >8.7</text>
<path d="M121.4 238.3h0.6v0.6h-0.6zM124.8 239.5h0.6v0.6h-0.6zM114.9 247.0h0.6v0.6h-0.6zM121.3 245.4h0.6v0.6h-0.6zM117.0 244.0h0.6v0.6h-0.6zM117.7 236.5h0.6v0.6h-0.6zM117.2 245.2h0.6v0.6h-0.6zM121.2 251.4h0.6v0.6h-0.6zM123.3 238.8h0.6v0.6h-0.6zM121.2 237.1h0.6v0.6h-0.6zM120.1 237.6h0.6v0.6h-0.6zM115.7 239.4h0.6v0.6h-0.6zM125.1 234.6h0.6v0.6h-0.6zM121.5 243.7h0.6v0.6h-0.6zM116.9 243.0h0.6v0.6h-0.6zM120.7 256.7h0.6v0.6h-0.6zM120.7 241.6h0.6v0.6h-0.6zM126.2 243.2h0.6v0.6h-0.6zM128.8 237.9h0.6v0.6h-0.6zM117.3 232.8h0.6v0.6h-0.6zM114.7 242.7h0.6v0.6h-0.6zM121.2 239.8h0.6v0.6h-0.6zM116.9 233.3h0.6v0.6h-0.6zM124.2 250.5h0.6v0.6h-0.6zM125.7 255.7h0.6v0.6h-0.6zM120.3 235.4h0.6v0.6h-0.6zM109.4 233.8h0.6v0.6h-0.6zM117.9 245.0h0.6v0.6h-0.6zM116.3 230.0h0.6v0.6h-0.6zM124.2 250.5h0.6v0.6h-0.6zM114.6 247.9h0.6v0.6h-0.6zM109.0 244.1h0.6v0.6h-0.6zM109.5 234.8h0.6v0.6h-0.6zM122.2 241.3h0.6v0.6h-0.6zM126.9 238.2h0.6v0.6h-0.6zM123.6 248.2h0.6v0.6h-0.6zM119.7 243.9h0.6v0.6h-0.6zM123.9 244.0h0.6v0.6h-0.6zM121.1 240.3h0.6v0.6h-0.6zM112.1 235.7h0.6v0.6h-0.6zM115.2 249.2h0.6v0.6h-0.6zM113.6 236.4h0.6v0.6h-0.6zM117.4 244.5h0.6v0.6h-0.6zM122.4 245.2h0.6v0.6h-0.6zM127.8 251.6h0.6v0.6h-0.6zM125.7 250.5h0.6v0.6h-0.6zM120.5 235.3h0.6v0.6h-0.6zM122.8 243.3h0.6v0.6h-0.6zM124.2 239.6h0.6v0.6h-0.6zM120.4 239.0h0.6v0.6h-0.6zM124.0 243.7h0.6v0.6h-0.6zM118.1 245.3h0.6v0.6h-0.6zM116.2 235.9h0.6v0.6h-0.6zM116.3 240.1h0.6v0.6h-0.6zM116.9 244.5h0.6v0.6h-0.6zM115.7 240.1h0.6v0.6h-0.6zM113.1 229.5h0.6v0.6h-0.6zM117.2 249.2h0.6v0.6h-0.6zM126.9 248.4h0.6v0.6h-0.6zM114.0 240.4h0.6v0.6h-0.6zM117.8 240.9h0.6v0.6h-0.6zM120.4 241.4h0.6v0.6h-0.6zM121.7 248.5h0.6v0.6h-0.6zM126.1 237.7h0.6v0.6h-0.6zM123.3 238.8h0.6v0.6h-0.6zM114.1 239.4h0.6v0.6h-0.6zM120.1 244.6h0.6v0.6h-0.6zM118.9 244.2h0.6v0.6h-0.6zM122.7 242.2h0.6v0.6h-0.6zM123.9 235.6h0.6v0.6h-0.6zM119.9 234.2h0.6v0.6h-0.6zM110.5 243.4h0.6v0.6h-0.6zM117.9 245.9h0.6v0.6h-0.6zM119.5 244.3h0.6v0.6h-0.6zM123.5 242.5h0.6v0.6h-0.6zM117.9 239.0h0.6v0.6h-0.6zM116.2 242.7h0.6v0.6h-0.6zM119.9 237.6h0.6v0.6h-0.6zM112.8 245.0h0.6v0.6h-0.6zM118.1 229.4h0.6v0.6h-0.6zM124.9 242.6h0.6v0.6h-0.6zM123.3 253.8h0.6v0.6h-0.6zM119.9 252.8h0.6v0.6h-0.6zM112.3 240.9h0.6v0.6h-0.6zM122.5 230.6h0.6v0.6h-0.6zM123.4 238.0h0.6v0.6h-0.6zM115.3 230.1h0.6v0.6h-0.6zM121.4 235.8h0.6v0.6h-0.6zM123.6 232.8h0.6v0.6h-0.6zM115.3 244.3h0.6v0.6h-0.6zM110.1 247.4h0.6v0.6h-0.6zM121.3 256.8h0.6v0.6h-0.6zM122.2 245.5h0.6v0.6h-0.6zM119.4 232.6h0.6v0.6h-0.6zM118.6 246.8h0.6v0.6h-0.6zM113.0 237.9h0.6v0.6h-0.6zM116.1 246.5h0.6v0.6h-0.6zM112.2 246.8h0.6v0.6h-0.6zM125.1 237.2h0.6v0.6h-0.6zM119.8 248.3h0.6v0.6h-0.6zM114.4 246.2h0.6v0.6h-0.6zM117.4 249.5h0.6v0.6h-0.6zM114.3 240.9h0.6v0.6h-0.6zM124.5 240.7h0.6v0.6h-0.6zM119.9 242.7h0.6v0.6h-0.6zM126.8 242.5h0.6v0.6h-0.6zM125.1 236.5h0.6v0.6h-0.6zM120.2 243.5h0.6v0.6h-0.6zM118.3 242.7h0.6v0.6h-0.6zM125.6 245.8h0.6v0.6h-0.6z" fill="#aaa"/>
<ellipse cx="119.30" cy="239.60" rx="5.6" ry="7.6" fill="#bbb" opacity="0.8"/>
<ellipse cx="119.40" cy="239.80" rx="4.6" ry="6.8" fill="#3a3a3a" stroke="#111" stroke-width="1.3"/>
<path d="M118.40 238.50 q1.6 1.5 0 3 q-1.5 1.5 0.5 3.5" fill="none" stroke="#999" stroke-width="0.7"/>
<circle cx="119.60" cy="237.40" r="0.90" fill="#fff" stroke="none" stroke-width="1"/>
<ellipse cx="119.60" cy="249.40" rx="6.4" ry="3.2" fill="#000"/>
<line x1="117.40" y1="250.30" x2="121.90" y2="250.30" stroke="#999" stroke-width="0.6" />
<line x1="53.90" y1="291.40" x2="53.90" y2="362.10" stroke="#000" stroke-width="1.3" />
<line x1="53.30" y1="361.50" x2="87.60" y2="361.50" stroke="#000" stroke-width="1.3" />
<line x1="51.70" y1="361.50" x2="53.90" y2="361.50" stroke="#000" stroke-width="0.9" />
<text x="48.30" y="364.00" font-size="7.3" text-anchor="end" fill="#333" >0</text>
<line x1="51.70" y1="347.68" x2="53.90" y2="347.68" stroke="#000" stroke-width="0.9" />
<text x="48.30" y="350.18" font-size="7.3" text-anchor="end" fill="#333" >20</text>
<line x1="51.70" y1="333.86" x2="53.90" y2="333.86" stroke="#000" stroke-width="0.9" />
<text x="48.30" y="336.36" font-size="7.3" text-anchor="end" fill="#333" >40</text>
<line x1="51.70" y1="320.04" x2="53.90" y2="320.04" stroke="#000" stroke-width="0.9" />
<text x="48.30" y="322.54" font-size="7.3" text-anchor="end" fill="#333" >60</text>
<line x1="51.70" y1="306.22" x2="53.90" y2="306.22" stroke="#000" stroke-width="0.9" />
<text x="48.30" y="308.72" font-size="7.3" text-anchor="end" fill="#333" >80</text>
<line x1="51.70" y1="292.40" x2="53.90" y2="292.40" stroke="#000" stroke-width="0.9" />
<text x="48.30" y="294.90" font-size="7.3" text-anchor="end" fill="#333" >100</text>
<line x1="61.90" y1="361.50" x2="61.90" y2="363.70" stroke="#000" stroke-width="0.9" />
<line x1="79.40" y1="361.50" x2="79.40" y2="363.70" stroke="#000" stroke-width="0.9" />
<circle cx="58.70" cy="346.30" r="2.20" fill="none" stroke="#4d63ad" stroke-width="0.85"/>
<circle cx="60.30" cy="346.99" r="2.20" fill="none" stroke="#4d63ad" stroke-width="0.85"/>
<circle cx="61.90" cy="343.53" r="2.20" fill="none" stroke="#4d63ad" stroke-width="0.85"/>
<circle cx="63.50" cy="344.92" r="2.20" fill="none" stroke="#4d63ad" stroke-width="0.85"/>
<circle cx="65.10" cy="345.61" r="2.20" fill="none" stroke="#4d63ad" stroke-width="0.85"/>
<line x1="57.50" y1="345.47" x2="66.30" y2="345.47" stroke="#000" stroke-width="1.2" />
<circle cx="76.20" cy="357.35" r="2.20" fill="none" stroke="#6cb548" stroke-width="0.85"/>
<circle cx="77.80" cy="358.05" r="2.20" fill="none" stroke="#6cb548" stroke-width="0.85"/>
<circle cx="79.40" cy="356.66" r="2.20" fill="none" stroke="#6cb548" stroke-width="0.85"/>
<circle cx="81.00" cy="357.35" r="2.20" fill="none" stroke="#6cb548" stroke-width="0.85"/>
<circle cx="82.60" cy="357.35" r="2.20" fill="none" stroke="#6cb548" stroke-width="0.85"/>
<line x1="75.00" y1="357.35" x2="83.80" y2="357.35" stroke="#000" stroke-width="1.2" />
<line x1="63.40" y1="335.00" x2="81.90" y2="335.00" stroke="#555" stroke-width="1.2" />
<circle cx="69.20" cy="332.10" r="0.72" fill="#333" stroke="none" stroke-width="1"/>
<circle cx="71.50" cy="332.10" r="0.72" fill="#333" stroke="none" stroke-width="1"/>
<circle cx="73.80" cy="332.10" r="0.72" fill="#333" stroke="none" stroke-width="1"/>
<circle cx="76.10" cy="332.10" r="0.72" fill="#333" stroke="none" stroke-width="1"/>
<line x1="106.90" y1="291.40" x2="106.90" y2="362.10" stroke="#000" stroke-width="1.3" />
<line x1="106.30" y1="361.50" x2="141.90" y2="361.50" stroke="#000" stroke-width="1.3" />
<line x1="104.70" y1="361.50" x2="106.90" y2="361.50" stroke="#000" stroke-width="0.9" />
<text x="101.30" y="364.00" font-size="7.3" text-anchor="end" fill="#333" >0</text>
<line x1="104.70" y1="347.68" x2="106.90" y2="347.68" stroke="#000" stroke-width="0.9" />
<text x="101.30" y="350.18" font-size="7.3" text-anchor="end" fill="#333" >20</text>
<line x1="104.70" y1="333.86" x2="106.90" y2="333.86" stroke="#000" stroke-width="0.9" />
<text x="101.30" y="336.36" font-size="7.3" text-anchor="end" fill="#333" >40</text>
<line x1="104.70" y1="320.04" x2="106.90" y2="320.04" stroke="#000" stroke-width="0.9" />
<text x="101.30" y="322.54" font-size="7.3" text-anchor="end" fill="#333" >60</text>
<line x1="104.70" y1="306.22" x2="106.90" y2="306.22" stroke="#000" stroke-width="0.9" />
<text x="101.30" y="308.72" font-size="7.3" text-anchor="end" fill="#333" >80</text>
<line x1="104.70" y1="292.40" x2="106.90" y2="292.40" stroke="#000" stroke-width="0.9" />
<text x="101.30" y="294.90" font-size="7.3" text-anchor="end" fill="#333" >100</text>
<line x1="116.90" y1="361.50" x2="116.90" y2="363.70" stroke="#000" stroke-width="0.9" />
<line x1="133.80" y1="361.50" x2="133.80" y2="363.70" stroke="#000" stroke-width="0.9" />
<circle cx="113.70" cy="348.37" r="2.20" fill="none" stroke="#4d63ad" stroke-width="0.85"/>
<circle cx="115.30" cy="344.92" r="2.20" fill="none" stroke="#4d63ad" stroke-width="0.85"/>
<circle cx="116.90" cy="349.75" r="2.20" fill="none" stroke="#4d63ad" stroke-width="0.85"/>
<circle cx="118.50" cy="346.99" r="2.20" fill="none" stroke="#4d63ad" stroke-width="0.85"/>
<circle cx="120.10" cy="349.06" r="2.20" fill="none" stroke="#4d63ad" stroke-width="0.85"/>
<line x1="112.50" y1="347.82" x2="121.30" y2="347.82" stroke="#000" stroke-width="1.2" />
<circle cx="130.60" cy="355.97" r="2.20" fill="none" stroke="#6cb548" stroke-width="0.85"/>
<circle cx="132.20" cy="355.28" r="2.20" fill="none" stroke="#6cb548" stroke-width="0.85"/>
<circle cx="133.80" cy="355.97" r="2.20" fill="none" stroke="#6cb548" stroke-width="0.85"/>
<circle cx="135.40" cy="356.66" r="2.20" fill="none" stroke="#6cb548" stroke-width="0.85"/>
<circle cx="137.00" cy="355.28" r="2.20" fill="none" stroke="#6cb548" stroke-width="0.85"/>
<line x1="129.40" y1="355.83" x2="138.20" y2="355.83" stroke="#000" stroke-width="1.2" />
<line x1="117.50" y1="334.80" x2="136.10" y2="334.80" stroke="#555" stroke-width="1.2" />
<circle cx="124.50" cy="331.90" r="0.72" fill="#333" stroke="none" stroke-width="1"/>
<circle cx="126.80" cy="331.90" r="0.72" fill="#333" stroke="none" stroke-width="1"/>
<circle cx="129.10" cy="331.90" r="0.72" fill="#333" stroke="none" stroke-width="1"/>
<line x1="53.30" y1="371.70" x2="53.30" y2="443.00" stroke="#000" stroke-width="1.3" />
<line x1="52.70" y1="442.40" x2="87.60" y2="442.40" stroke="#000" stroke-width="1.3" />
<line x1="51.10" y1="442.40" x2="53.30" y2="442.40" stroke="#000" stroke-width="0.9" />
<text x="47.70" y="444.90" font-size="7.3" text-anchor="end" fill="#333" >0</text>
<line x1="51.10" y1="428.46" x2="53.30" y2="428.46" stroke="#000" stroke-width="0.9" />
<text x="47.70" y="430.96" font-size="7.3" text-anchor="end" fill="#333" >20</text>
<line x1="51.10" y1="414.52" x2="53.30" y2="414.52" stroke="#000" stroke-width="0.9" />
<text x="47.70" y="417.02" font-size="7.3" text-anchor="end" fill="#333" >40</text>
<line x1="51.10" y1="400.58" x2="53.30" y2="400.58" stroke="#000" stroke-width="0.9" />
<text x="47.70" y="403.08" font-size="7.3" text-anchor="end" fill="#333" >60</text>
<line x1="51.10" y1="386.64" x2="53.30" y2="386.64" stroke="#000" stroke-width="0.9" />
<text x="47.70" y="389.14" font-size="7.3" text-anchor="end" fill="#333" >80</text>
<line x1="51.10" y1="372.70" x2="53.30" y2="372.70" stroke="#000" stroke-width="0.9" />
<text x="47.70" y="375.20" font-size="7.3" text-anchor="end" fill="#333" >100</text>
<line x1="61.90" y1="442.40" x2="61.90" y2="444.60" stroke="#000" stroke-width="0.9" />
<line x1="79.40" y1="442.40" x2="79.40" y2="444.60" stroke="#000" stroke-width="0.9" />
<circle cx="58.70" cy="429.16" r="2.20" fill="none" stroke="#4d63ad" stroke-width="0.85"/>
<circle cx="60.30" cy="428.46" r="2.20" fill="none" stroke="#4d63ad" stroke-width="0.85"/>
<circle cx="61.90" cy="429.85" r="2.20" fill="none" stroke="#4d63ad" stroke-width="0.85"/>
<circle cx="63.50" cy="427.76" r="2.20" fill="none" stroke="#4d63ad" stroke-width="0.85"/>
<circle cx="65.10" cy="429.16" r="2.20" fill="none" stroke="#4d63ad" stroke-width="0.85"/>
<line x1="57.50" y1="428.88" x2="66.30" y2="428.88" stroke="#000" stroke-width="1.2" />
<circle cx="76.20" cy="418.70" r="2.20" fill="none" stroke="#6cb548" stroke-width="0.85"/>
<circle cx="77.80" cy="416.61" r="2.20" fill="none" stroke="#6cb548" stroke-width="0.85"/>
<circle cx="79.40" cy="419.40" r="2.20" fill="none" stroke="#6cb548" stroke-width="0.85"/>
<circle cx="81.00" cy="418.00" r="2.20" fill="none" stroke="#6cb548" stroke-width="0.85"/>
<circle cx="82.60" cy="418.70" r="2.20" fill="none" stroke="#6cb548" stroke-width="0.85"/>
<line x1="75.00" y1="418.28" x2="83.80" y2="418.28" stroke="#000" stroke-width="1.2" />
<line x1="63.00" y1="412.00" x2="82.20" y2="412.00" stroke="#555" stroke-width="1.2" />
<circle cx="69.15" cy="409.10" r="0.72" fill="#333" stroke="none" stroke-width="1"/>
<circle cx="71.45" cy="409.10" r="0.72" fill="#333" stroke="none" stroke-width="1"/>
<circle cx="73.75" cy="409.10" r="0.72" fill="#333" stroke="none" stroke-width="1"/>
<circle cx="76.05" cy="409.10" r="0.72" fill="#333" stroke="none" stroke-width="1"/>
<line x1="107.50" y1="371.70" x2="107.50" y2="443.00" stroke="#000" stroke-width="1.3" />
<line x1="106.90" y1="442.40" x2="142.00" y2="442.40" stroke="#000" stroke-width="1.3" />
<line x1="105.30" y1="442.40" x2="107.50" y2="442.40" stroke="#000" stroke-width="0.9" />
<text x="101.90" y="444.90" font-size="7.3" text-anchor="end" fill="#333" >0</text>
<line x1="105.30" y1="428.46" x2="107.50" y2="428.46" stroke="#000" stroke-width="0.9" />
<text x="101.90" y="430.96" font-size="7.3" text-anchor="end" fill="#333" >20</text>
<line x1="105.30" y1="414.52" x2="107.50" y2="414.52" stroke="#000" stroke-width="0.9" />
<text x="101.90" y="417.02" font-size="7.3" text-anchor="end" fill="#333" >40</text>
<line x1="105.30" y1="400.58" x2="107.50" y2="400.58" stroke="#000" stroke-width="0.9" />
<text x="101.90" y="403.08" font-size="7.3" text-anchor="end" fill="#333" >60</text>
<line x1="105.30" y1="386.64" x2="107.50" y2="386.64" stroke="#000" stroke-width="0.9" />
<text x="101.90" y="389.14" font-size="7.3" text-anchor="end" fill="#333" >80</text>
<line x1="105.30" y1="372.70" x2="107.50" y2="372.70" stroke="#000" stroke-width="0.9" />
<text x="101.90" y="375.20" font-size="7.3" text-anchor="end" fill="#333" >100</text>
<line x1="117.00" y1="442.40" x2="117.00" y2="444.60" stroke="#000" stroke-width="0.9" />
<line x1="134.00" y1="442.40" x2="134.00" y2="444.60" stroke="#000" stroke-width="0.9" />
<circle cx="113.80" cy="428.46" r="2.20" fill="none" stroke="#4d63ad" stroke-width="0.85"/>
<circle cx="115.40" cy="426.37" r="2.20" fill="none" stroke="#4d63ad" stroke-width="0.85"/>
<circle cx="117.00" cy="429.85" r="2.20" fill="none" stroke="#4d63ad" stroke-width="0.85"/>
<circle cx="118.60" cy="427.76" r="2.20" fill="none" stroke="#4d63ad" stroke-width="0.85"/>
<circle cx="120.20" cy="429.16" r="2.20" fill="none" stroke="#4d63ad" stroke-width="0.85"/>
<line x1="112.60" y1="428.32" x2="121.40" y2="428.32" stroke="#000" stroke-width="1.2" />
<circle cx="130.80" cy="419.40" r="2.20" fill="none" stroke="#6cb548" stroke-width="0.85"/>
<circle cx="132.40" cy="418.70" r="2.20" fill="none" stroke="#6cb548" stroke-width="0.85"/>
<circle cx="134.00" cy="420.10" r="2.20" fill="none" stroke="#6cb548" stroke-width="0.85"/>
<circle cx="135.60" cy="419.40" r="2.20" fill="none" stroke="#6cb548" stroke-width="0.85"/>
<circle cx="137.20" cy="418.70" r="2.20" fill="none" stroke="#6cb548" stroke-width="0.85"/>
<line x1="129.60" y1="419.26" x2="138.40" y2="419.26" stroke="#000" stroke-width="1.2" />
<line x1="117.70" y1="416.00" x2="136.50" y2="416.00" stroke="#555" stroke-width="1.2" />
<circle cx="123.65" cy="413.10" r="0.72" fill="#333" stroke="none" stroke-width="1"/>
<circle cx="125.95" cy="413.10" r="0.72" fill="#333" stroke="none" stroke-width="1"/>
<circle cx="128.25" cy="413.10" r="0.72" fill="#333" stroke="none" stroke-width="1"/>
<circle cx="130.55" cy="413.10" r="0.72" fill="#333" stroke="none" stroke-width="1"/>
<text x="70.30" y="284.50" font-size="9.6" text-anchor="middle" fill="#222" textLength="26.7" lengthAdjust="spacingAndGlyphs" >Spleen</text>
<text x="125.00" y="284.50" font-size="9.6" text-anchor="middle" fill="#222" textLength="51.1" lengthAdjust="spacingAndGlyphs" >Bone marrow</text>
<text x="31.00" y="325.60" font-size="8.0" text-anchor="middle" fill="#333" textLength="53" lengthAdjust="spacingAndGlyphs" transform="rotate(-90 31.00 325.60)" >% CD127<tspan font-size="5" dy="-3">+</tspan><tspan dy="3">KLRG1</tspan><tspan font-size="5" dy="-3">−</tspan></text>
<text x="31.00" y="407.20" font-size="8.0" text-anchor="middle" fill="#333" textLength="51.6" lengthAdjust="spacingAndGlyphs" transform="rotate(-90 31.00 407.20)" >%CD127<tspan font-size="5" dy="-3">−</tspan><tspan dy="3">KLRG1</tspan><tspan font-size="5" dy="-3">+</tspan></text>
<circle cx="55.20" cy="452.00" r="2.30" fill="none" stroke="#4d63ad" stroke-width="0.85"/>
<circle cx="55.20" cy="461.00" r="2.30" fill="none" stroke="#6cb548" stroke-width="0.85"/>
<text x="60.60" y="454.30" font-size="6.4" text-anchor="start" fill="#333" textLength="26" lengthAdjust="spacingAndGlyphs" >KO CAR-T</text>
<text x="60.60" y="463.30" font-size="6.4" text-anchor="start" fill="#333" textLength="31" lengthAdjust="spacingAndGlyphs" >DKO CAR-T</text>
<rect x="204.10" y="291.30" width="43.50" height="32.30" fill="#fff" stroke="none" stroke-width="1" />
<path d="M204.90 302.20 L204.90 302.20 L205.25 302.20 L205.60 302.20 L205.95 302.20 L206.30 302.20 L206.65 302.20 L207.00 302.20 L207.34 302.20 L207.69 302.20 L208.04 302.20 L208.39 302.20 L208.74 302.20 L209.09 302.20 L209.44 302.20 L209.79 302.20 L210.14 302.20 L210.49 302.20 L210.84 302.20 L211.19 302.20 L211.53 302.20 L211.88 302.20 L212.23 302.20 L212.58 302.20 L212.93 302.20 L213.28 302.20 L213.63 302.20 L213.98 302.20 L214.33 302.20 L214.68 302.20 L215.03 302.20 L215.38 302.19 L215.72 302.19 L216.07 302.19 L216.42 302.19 L216.77 302.18 L217.12 302.18 L217.47 302.17 L217.82 302.16 L218.17 302.15 L218.52 302.13 L218.87 302.12 L219.22 302.10 L219.56 302.07 L219.91 302.04 L220.26 302.01 L220.61 301.98 L220.96 301.94 L221.31 301.90 L221.66 301.85 L222.01 301.80 L222.36 301.76 L222.71 301.71 L223.06 301.65 L223.41 301.61 L223.75 301.56 L224.10 301.52 L224.45 301.48 L224.80 301.44 L225.15 301.38 L225.50 301.22 L225.85 300.82 L226.20 299.90 L226.55 298.21 L226.90 295.86 L227.25 293.50 L227.60 292.17 L227.94 292.57 L228.29 294.51 L228.64 297.06 L228.99 299.25 L229.34 300.66 L229.69 301.39 L230.04 301.70 L230.39 301.83 L230.74 301.90 L231.09 301.94 L231.44 301.98 L231.79 302.02 L232.13 302.05 L232.48 302.08 L232.83 302.10 L233.18 302.12 L233.53 302.14 L233.88 302.15 L234.23 302.16 L234.58 302.17 L234.93 302.18 L235.28 302.18 L235.63 302.19 L235.98 302.19 L236.32 302.19 L236.67 302.19 L237.02 302.20 L237.37 302.20 L237.72 302.20 L238.07 302.20 L238.42 302.20 L238.77 302.20 L239.12 302.20 L239.47 302.20 L239.82 302.20 L240.17 302.20 L240.51 302.20 L240.86 302.20 L241.21 302.20 L241.56 302.20 L241.91 302.20 L242.26 302.20 L242.61 302.20 L242.96 302.20 L243.31 302.20 L243.66 302.20 L244.01 302.20 L244.36 302.20 L244.70 302.20 L245.05 302.20 L245.40 302.20 L245.75 302.20 L246.10 302.20 L246.45 302.20 L246.80 302.20 L246.80 302.20 Z" fill="#8e8e9c"/>
<line x1="204.10" y1="302.20" x2="247.60" y2="302.20" stroke="#d4d4da" stroke-width="1.2" />
<path d="M204.90 312.60 L204.90 312.60 L205.25 312.60 L205.60 312.60 L205.95 312.60 L206.30 312.60 L206.65 312.60 L207.00 312.60 L207.34 312.60 L207.69 312.60 L208.04 312.60 L208.39 312.60 L208.74 312.60 L209.09 312.60 L209.44 312.60 L209.79 312.60 L210.14 312.60 L210.49 312.60 L210.84 312.60 L211.19 312.60 L211.53 312.60 L211.88 312.60 L212.23 312.60 L212.58 312.60 L212.93 312.60 L213.28 312.60 L213.63 312.60 L213.98 312.60 L214.33 312.60 L214.68 312.60 L215.03 312.60 L215.38 312.60 L215.72 312.60 L216.07 312.60 L216.42 312.60 L216.77 312.60 L217.12 312.60 L217.47 312.60 L217.82 312.60 L218.17 312.60 L218.52 312.60 L218.87 312.60 L219.22 312.60 L219.56 312.60 L219.91 312.60 L220.26 312.60 L220.61 312.60 L220.96 312.60 L221.31 312.60 L221.66 312.59 L222.01 312.59 L222.36 312.58 L222.71 312.56 L223.06 312.53 L223.41 312.48 L223.75 312.40 L224.10 312.28 L224.45 312.10 L224.80 311.85 L225.15 311.51 L225.50 311.08 L225.85 310.55 L226.20 309.92 L226.55 309.23 L226.90 308.48 L227.25 307.71 L227.60 306.97 L227.94 306.28 L228.29 305.65 L228.64 305.12 L228.99 304.66 L229.34 304.26 L229.69 303.92 L230.04 303.60 L230.39 303.29 L230.74 303.01 L231.09 302.75 L231.44 302.55 L231.79 302.42 L232.13 302.40 L232.48 302.51 L232.83 302.72 L233.18 303.04 L233.53 303.45 L233.88 303.95 L234.23 304.54 L234.58 305.18 L234.93 305.87 L235.28 306.58 L235.63 307.29 L235.98 307.99 L236.32 308.65 L236.67 309.26 L237.02 309.82 L237.37 310.32 L237.72 310.75 L238.07 311.13 L238.42 311.44 L238.77 311.70 L239.12 311.92 L239.47 312.08 L239.82 312.22 L240.17 312.32 L240.51 312.40 L240.86 312.46 L241.21 312.50 L241.56 312.53 L241.91 312.55 L242.26 312.57 L242.61 312.58 L242.96 312.59 L243.31 312.59 L243.66 312.59 L244.01 312.60 L244.36 312.60 L244.70 312.60 L245.05 312.60 L245.40 312.60 L245.75 312.60 L246.10 312.60 L246.45 312.60 L246.80 312.60 L246.80 312.60 Z" fill="#6f7db6"/>
<line x1="204.10" y1="312.60" x2="247.60" y2="312.60" stroke="#aab2d8" stroke-width="1.2" />
<path d="M204.90 323.00 L204.90 323.00 L205.25 323.00 L205.60 323.00 L205.95 323.00 L206.30 323.00 L206.65 323.00 L207.00 323.00 L207.34 323.00 L207.69 323.00 L208.04 323.00 L208.39 323.00 L208.74 323.00 L209.09 323.00 L209.44 323.00 L209.79 323.00 L210.14 323.00 L210.49 323.00 L210.84 323.00 L211.19 323.00 L211.53 323.00 L211.88 323.00 L212.23 323.00 L212.58 323.00 L212.93 323.00 L213.28 323.00 L213.63 323.00 L213.98 323.00 L214.33 323.00 L214.68 323.00 L215.03 323.00 L215.38 323.00 L215.72 323.00 L216.07 323.00 L216.42 323.00 L216.77 323.00 L217.12 323.00 L217.47 323.00 L217.82 323.00 L218.17 323.00 L218.52 323.00 L218.87 323.00 L219.22 323.00 L219.56 323.00 L219.91 323.00 L220.26 323.00 L220.61 323.00 L220.96 323.00 L221.31 323.00 L221.66 323.00 L222.01 323.00 L222.36 323.00 L222.71 323.00 L223.06 323.00 L223.41 323.00 L223.75 323.00 L224.10 323.00 L224.45 323.00 L224.80 323.00 L225.15 323.00 L225.50 323.00 L225.85 322.99 L226.20 322.99 L226.55 322.98 L226.90 322.96 L227.25 322.93 L227.60 322.89 L227.94 322.83 L228.29 322.74 L228.64 322.60 L228.99 322.42 L229.34 322.17 L229.69 321.84 L230.04 321.43 L230.39 320.91 L230.74 320.29 L231.09 319.57 L231.44 318.76 L231.79 317.89 L232.13 316.98 L232.48 316.09 L232.83 315.25 L233.18 314.52 L233.53 313.95 L233.88 313.57 L234.23 313.40 L234.58 313.45 L234.93 313.66 L235.28 314.01 L235.63 314.50 L235.98 315.10 L236.32 315.77 L236.67 316.50 L237.02 317.25 L237.37 318.00 L237.72 318.73 L238.07 319.41 L238.42 320.03 L238.77 320.59 L239.12 321.07 L239.47 321.49 L239.82 321.83 L240.17 322.11 L240.51 322.34 L240.86 322.51 L241.21 322.65 L241.56 322.75 L241.91 322.83 L242.26 322.88 L242.61 322.92 L242.96 322.95 L243.31 322.97 L243.66 322.98 L244.01 322.99 L244.36 322.99 L244.70 322.99 L245.05 323.00 L245.40 323.00 L245.75 323.00 L246.10 323.00 L246.45 323.00 L246.80 323.00 L246.80 323.00 Z" fill="#95c978"/>
<line x1="229.30" y1="291.30" x2="229.30" y2="323.60" stroke="#333" stroke-width="0.9" />
<rect x="204.10" y="291.30" width="43.50" height="32.30" fill="none" stroke="#222" stroke-width="1.4" />
<text x="206.10" y="297.50" font-size="6.1" text-anchor="start" fill="#666" >15.3</text>
<text x="206.10" y="308.00" font-size="6.1" text-anchor="start" fill="#5566aa" >77.2</text>
<text x="206.10" y="318.50" font-size="6.1" text-anchor="start" fill="#86bd66" >98.8</text>
<rect x="250.10" y="291.30" width="43.30" height="32.30" fill="#fff" stroke="none" stroke-width="1" />
<path d="M250.90 302.20 L250.90 302.20 L251.25 302.20 L251.59 302.20 L251.94 302.20 L252.29 302.19 L252.64 302.19 L252.99 302.18 L253.33 302.17 L253.68 302.16 L254.03 302.14 L254.38 302.11 L254.72 302.08 L255.07 302.03 L255.42 301.96 L255.77 301.87 L256.11 301.75 L256.46 301.60 L256.81 301.42 L257.15 301.19 L257.50 300.90 L257.85 300.57 L258.20 300.18 L258.55 299.72 L258.89 299.21 L259.24 298.64 L259.59 298.03 L259.94 297.38 L260.28 296.71 L260.63 296.03 L260.98 295.36 L261.32 294.73 L261.67 294.16 L262.02 293.67 L262.37 293.27 L262.71 292.99 L263.06 292.83 L263.41 292.82 L263.76 293.14 L264.11 293.82 L264.45 294.77 L264.80 295.89 L265.15 297.07 L265.50 298.20 L265.84 299.21 L266.19 300.06 L266.54 300.73 L266.88 301.24 L267.23 301.59 L267.58 301.83 L267.93 301.99 L268.27 302.08 L268.62 302.14 L268.97 302.17 L269.32 302.18 L269.66 302.19 L270.01 302.20 L270.36 302.20 L270.71 302.20 L271.06 302.20 L271.40 302.20 L271.75 302.20 L272.10 302.20 L272.44 302.20 L272.79 302.20 L273.14 302.20 L273.49 302.20 L273.83 302.20 L274.18 302.20 L274.53 302.20 L274.88 302.20 L275.22 302.20 L275.57 302.20 L275.92 302.20 L276.27 302.20 L276.62 302.20 L276.96 302.20 L277.31 302.20 L277.66 302.20 L278.00 302.20 L278.35 302.20 L278.70 302.20 L279.05 302.20 L279.39 302.20 L279.74 302.20 L280.09 302.20 L280.44 302.20 L280.78 302.20 L281.13 302.20 L281.48 302.20 L281.83 302.20 L282.17 302.20 L282.52 302.20 L282.87 302.20 L283.22 302.20 L283.56 302.20 L283.91 302.20 L284.26 302.20 L284.61 302.20 L284.95 302.20 L285.30 302.20 L285.65 302.20 L286.00 302.20 L286.34 302.20 L286.69 302.20 L287.04 302.20 L287.39 302.20 L287.73 302.20 L288.08 302.20 L288.43 302.20 L288.78 302.20 L289.12 302.20 L289.47 302.20 L289.82 302.20 L290.17 302.20 L290.51 302.20 L290.86 302.20 L291.21 302.20 L291.56 302.20 L291.90 302.20 L292.25 302.20 L292.60 302.20 L292.60 302.20 Z" fill="#8e8e9c"/>
<line x1="250.10" y1="302.20" x2="293.40" y2="302.20" stroke="#d4d4da" stroke-width="1.2" />
<path d="M250.90 312.60 L250.90 312.60 L251.25 312.60 L251.59 312.60 L251.94 312.60 L252.29 312.60 L252.64 312.60 L252.99 312.60 L253.33 312.60 L253.68 312.60 L254.03 312.60 L254.38 312.60 L254.72 312.60 L255.07 312.60 L255.42 312.60 L255.77 312.60 L256.11 312.60 L256.46 312.60 L256.81 312.60 L257.15 312.60 L257.50 312.60 L257.85 312.60 L258.20 312.59 L258.55 312.59 L258.89 312.59 L259.24 312.58 L259.59 312.56 L259.94 312.54 L260.28 312.50 L260.63 312.46 L260.98 312.38 L261.32 312.28 L261.67 312.15 L262.02 311.96 L262.37 311.72 L262.71 311.41 L263.06 311.03 L263.41 310.55 L263.76 310.00 L264.11 309.35 L264.45 308.63 L264.80 307.83 L265.15 307.00 L265.50 306.14 L265.84 305.31 L266.19 304.52 L266.54 303.83 L266.88 303.27 L267.23 302.86 L267.58 302.64 L267.93 302.61 L268.27 302.73 L268.62 302.99 L268.97 303.38 L269.32 303.87 L269.66 304.45 L270.01 305.11 L270.36 305.81 L270.71 306.53 L271.06 307.25 L271.40 307.95 L271.75 308.61 L272.10 309.23 L272.44 309.80 L272.79 310.30 L273.14 310.74 L273.49 311.12 L273.83 311.43 L274.18 311.69 L274.53 311.91 L274.88 312.08 L275.22 312.21 L275.57 312.32 L275.92 312.40 L276.27 312.45 L276.62 312.50 L276.96 312.53 L277.31 312.55 L277.66 312.57 L278.00 312.58 L278.35 312.59 L278.70 312.59 L279.05 312.59 L279.39 312.60 L279.74 312.60 L280.09 312.60 L280.44 312.60 L280.78 312.60 L281.13 312.60 L281.48 312.60 L281.83 312.60 L282.17 312.60 L282.52 312.60 L282.87 312.60 L283.22 312.60 L283.56 312.60 L283.91 312.60 L284.26 312.60 L284.61 312.60 L284.95 312.60 L285.30 312.60 L285.65 312.60 L286.00 312.60 L286.34 312.60 L286.69 312.60 L287.04 312.60 L287.39 312.60 L287.73 312.60 L288.08 312.60 L288.43 312.60 L288.78 312.60 L289.12 312.60 L289.47 312.60 L289.82 312.60 L290.17 312.60 L290.51 312.60 L290.86 312.60 L291.21 312.60 L291.56 312.60 L291.90 312.60 L292.25 312.60 L292.60 312.60 L292.60 312.60 Z" fill="#6f7db6"/>
<line x1="250.10" y1="312.60" x2="293.40" y2="312.60" stroke="#aab2d8" stroke-width="1.2" />
<path d="M250.90 323.00 L250.90 323.00 L251.25 323.00 L251.59 323.00 L251.94 322.99 L252.29 322.99 L252.64 322.99 L252.99 322.98 L253.33 322.97 L253.68 322.96 L254.03 322.94 L254.38 322.92 L254.72 322.89 L255.07 322.84 L255.42 322.79 L255.77 322.72 L256.11 322.63 L256.46 322.52 L256.81 322.38 L257.15 322.20 L257.50 321.99 L257.85 321.74 L258.20 321.45 L258.55 321.11 L258.89 320.72 L259.24 320.28 L259.59 319.80 L259.94 319.27 L260.28 318.70 L260.63 318.11 L260.98 317.49 L261.32 316.87 L261.67 316.25 L262.02 315.66 L262.37 315.11 L262.71 314.61 L263.06 314.18 L263.41 313.84 L263.76 313.59 L264.11 313.44 L264.45 313.40 L264.80 313.45 L265.15 313.56 L265.50 313.75 L265.84 314.00 L266.19 314.30 L266.54 314.66 L266.88 315.06 L267.23 315.50 L267.58 315.97 L267.93 316.45 L268.27 316.95 L268.62 317.45 L268.97 317.95 L269.32 318.44 L269.66 318.91 L270.01 319.36 L270.36 319.78 L270.71 320.18 L271.06 320.54 L271.40 320.88 L271.75 321.18 L272.10 321.45 L272.44 321.69 L272.79 321.90 L273.14 322.08 L273.49 322.24 L273.83 322.38 L274.18 322.49 L274.53 322.59 L274.88 322.67 L275.22 322.74 L275.57 322.79 L275.92 322.84 L276.27 322.87 L276.62 322.90 L276.96 322.93 L277.31 322.94 L277.66 322.96 L278.00 322.97 L278.35 322.98 L278.70 322.98 L279.05 322.99 L279.39 322.99 L279.74 322.99 L280.09 323.00 L280.44 323.00 L280.78 323.00 L281.13 323.00 L281.48 323.00 L281.83 323.00 L282.17 323.00 L282.52 323.00 L282.87 323.00 L283.22 323.00 L283.56 323.00 L283.91 323.00 L284.26 323.00 L284.61 323.00 L284.95 323.00 L285.30 323.00 L285.65 323.00 L286.00 323.00 L286.34 323.00 L286.69 323.00 L287.04 323.00 L287.39 323.00 L287.73 323.00 L288.08 323.00 L288.43 323.00 L288.78 323.00 L289.12 323.00 L289.47 323.00 L289.82 323.00 L290.17 323.00 L290.51 323.00 L290.86 323.00 L291.21 323.00 L291.56 323.00 L291.90 323.00 L292.25 323.00 L292.60 323.00 L292.60 323.00 Z" fill="#95c978"/>
<line x1="266.30" y1="291.30" x2="266.30" y2="323.60" stroke="#333" stroke-width="0.9" />
<rect x="250.10" y="291.30" width="43.30" height="32.30" fill="none" stroke="#222" stroke-width="1.4" />
<text x="291.00" y="297.50" font-size="6.1" text-anchor="end" fill="#666" >3.0</text>
<text x="291.00" y="308.00" font-size="6.1" text-anchor="end" fill="#5566aa" >65.2</text>
<text x="291.00" y="318.50" font-size="6.1" text-anchor="end" fill="#86bd66" >28.7</text>
<rect x="296.10" y="291.30" width="42.90" height="32.30" fill="#fff" stroke="none" stroke-width="1" />
<path d="M296.90 302.20 L296.90 302.09 L297.24 302.08 L297.59 302.07 L297.93 302.06 L298.28 302.05 L298.62 302.04 L298.97 302.03 L299.31 302.00 L299.65 301.97 L300.00 301.92 L300.34 301.83 L300.69 301.67 L301.03 301.41 L301.37 301.01 L301.72 300.41 L302.06 299.60 L302.41 298.55 L302.75 297.31 L303.10 295.96 L303.44 294.64 L303.78 293.50 L304.13 292.71 L304.47 292.40 L304.82 292.50 L305.16 292.90 L305.50 293.56 L305.85 294.40 L306.19 295.36 L306.54 296.37 L306.88 297.35 L307.23 298.26 L307.57 299.05 L307.91 299.71 L308.26 300.23 L308.60 300.63 L308.95 300.92 L309.29 301.11 L309.63 301.24 L309.98 301.32 L310.32 301.36 L310.67 301.38 L311.01 301.39 L311.36 301.38 L311.70 301.37 L312.04 301.36 L312.39 301.34 L312.73 301.33 L313.08 301.31 L313.42 301.30 L313.76 301.28 L314.11 301.27 L314.45 301.26 L314.80 301.25 L315.14 301.24 L315.49 301.23 L315.83 301.22 L316.17 301.22 L316.52 301.21 L316.86 301.21 L317.21 301.20 L317.55 301.20 L317.89 301.20 L318.24 301.20 L318.58 301.20 L318.93 301.20 L319.27 301.21 L319.62 301.21 L319.96 301.22 L320.30 301.23 L320.65 301.23 L320.99 301.24 L321.34 301.25 L321.68 301.26 L322.02 301.28 L322.37 301.29 L322.71 301.30 L323.06 301.32 L323.40 301.33 L323.75 301.35 L324.09 301.37 L324.43 301.38 L324.78 301.40 L325.12 301.42 L325.47 301.44 L325.81 301.46 L326.15 301.48 L326.50 301.50 L326.84 301.52 L327.19 301.54 L327.53 301.56 L327.88 301.58 L328.22 301.60 L328.56 301.62 L328.91 301.64 L329.25 301.66 L329.60 301.68 L329.94 301.70 L330.28 301.72 L330.63 301.74 L330.97 301.76 L331.32 301.78 L331.66 301.80 L332.00 301.82 L332.35 301.84 L332.69 301.85 L333.04 301.87 L333.38 301.89 L333.73 301.90 L334.07 301.92 L334.41 301.93 L334.76 301.95 L335.10 301.96 L335.45 301.98 L335.79 301.99 L336.13 302.00 L336.48 302.01 L336.82 302.03 L337.17 302.04 L337.51 302.05 L337.86 302.06 L338.20 302.07 L338.20 302.20 Z" fill="#8e8e9c"/>
<line x1="296.10" y1="302.20" x2="339.00" y2="302.20" stroke="#d4d4da" stroke-width="1.2" />
<path d="M296.90 312.60 L296.90 312.60 L297.24 312.60 L297.59 312.60 L297.93 312.59 L298.28 312.58 L298.62 312.56 L298.97 312.53 L299.31 312.46 L299.65 312.35 L300.00 312.18 L300.34 311.91 L300.69 311.52 L301.03 310.98 L301.37 310.27 L301.72 309.37 L302.06 308.33 L302.41 307.17 L302.75 305.98 L303.10 304.86 L303.44 303.93 L303.78 303.28 L304.13 303.00 L304.47 303.07 L304.82 303.38 L305.16 303.91 L305.50 304.62 L305.85 305.46 L306.19 306.37 L306.54 307.30 L306.88 308.21 L307.23 309.04 L307.57 309.78 L307.91 310.41 L308.26 310.92 L308.60 311.32 L308.95 311.62 L309.29 311.83 L309.63 311.97 L309.98 312.05 L310.32 312.08 L310.67 312.08 L311.01 312.04 L311.36 311.98 L311.70 311.90 L312.04 311.81 L312.39 311.70 L312.73 311.57 L313.08 311.44 L313.42 311.29 L313.76 311.13 L314.11 310.96 L314.45 310.78 L314.80 310.59 L315.14 310.39 L315.49 310.19 L315.83 309.98 L316.17 309.76 L316.52 309.55 L316.86 309.34 L317.21 309.13 L317.55 308.93 L317.89 308.74 L318.24 308.56 L318.58 308.39 L318.93 308.24 L319.27 308.11 L319.62 308.00 L319.96 307.92 L320.30 307.85 L320.65 307.81 L320.99 307.80 L321.34 307.81 L321.68 307.85 L322.02 307.91 L322.37 308.00 L322.71 308.11 L323.06 308.24 L323.40 308.39 L323.75 308.55 L324.09 308.73 L324.43 308.92 L324.78 309.12 L325.12 309.33 L325.47 309.54 L325.81 309.75 L326.15 309.97 L326.50 310.18 L326.84 310.38 L327.19 310.58 L327.53 310.77 L327.88 310.95 L328.22 311.12 L328.56 311.28 L328.91 311.43 L329.25 311.57 L329.60 311.70 L329.94 311.81 L330.28 311.92 L330.63 312.01 L330.97 312.09 L331.32 312.17 L331.66 312.23 L332.00 312.29 L332.35 312.34 L332.69 312.38 L333.04 312.42 L333.38 312.45 L333.73 312.48 L334.07 312.50 L334.41 312.52 L334.76 312.53 L335.10 312.55 L335.45 312.56 L335.79 312.57 L336.13 312.57 L336.48 312.58 L336.82 312.58 L337.17 312.59 L337.51 312.59 L337.86 312.59 L338.20 312.59 L338.20 312.60 Z" fill="#6f7db6"/>
<line x1="296.10" y1="312.60" x2="339.00" y2="312.60" stroke="#aab2d8" stroke-width="1.2" />
<path d="M296.90 323.00 L296.90 323.00 L297.24 323.00 L297.59 323.00 L297.93 323.00 L298.28 323.00 L298.62 323.00 L298.97 323.00 L299.31 322.99 L299.65 322.99 L300.00 322.99 L300.34 322.99 L300.69 322.98 L301.03 322.96 L301.37 322.91 L301.72 322.83 L302.06 322.68 L302.41 322.40 L302.75 321.95 L303.10 321.27 L303.44 320.32 L303.78 319.10 L304.13 317.67 L304.47 316.18 L304.82 314.83 L305.16 313.81 L305.50 313.32 L305.85 313.42 L306.19 314.03 L306.54 315.05 L306.88 316.31 L307.23 317.66 L307.57 318.94 L307.91 320.05 L308.26 320.92 L308.60 321.56 L308.95 322.00 L309.29 322.26 L309.63 322.40 L309.98 322.47 L310.32 322.48 L310.67 322.47 L311.01 322.44 L311.36 322.40 L311.70 322.35 L312.04 322.30 L312.39 322.25 L312.73 322.20 L313.08 322.15 L313.42 322.10 L313.76 322.04 L314.11 321.99 L314.45 321.93 L314.80 321.88 L315.14 321.83 L315.49 321.78 L315.83 321.73 L316.17 321.68 L316.52 321.64 L316.86 321.59 L317.21 321.56 L317.55 321.52 L317.89 321.49 L318.24 321.46 L318.58 321.44 L318.93 321.42 L319.27 321.41 L319.62 321.40 L319.96 321.40 L320.30 321.40 L320.65 321.41 L320.99 321.42 L321.34 321.44 L321.68 321.46 L322.02 321.48 L322.37 321.51 L322.71 321.55 L323.06 321.59 L323.40 321.63 L323.75 321.67 L324.09 321.72 L324.43 321.77 L324.78 321.82 L325.12 321.87 L325.47 321.92 L325.81 321.97 L326.15 322.03 L326.50 322.08 L326.84 322.14 L327.19 322.19 L327.53 322.24 L327.88 322.29 L328.22 322.34 L328.56 322.39 L328.91 322.44 L329.25 322.48 L329.60 322.52 L329.94 322.56 L330.28 322.60 L330.63 322.64 L330.97 322.67 L331.32 322.70 L331.66 322.73 L332.00 322.76 L332.35 322.79 L332.69 322.81 L333.04 322.83 L333.38 322.85 L333.73 322.87 L334.07 322.88 L334.41 322.90 L334.76 322.91 L335.10 322.92 L335.45 322.93 L335.79 322.94 L336.13 322.95 L336.48 322.96 L336.82 322.96 L337.17 322.97 L337.51 322.97 L337.86 322.98 L338.20 322.98 L338.20 323.00 Z" fill="#95c978"/>
<line x1="311.10" y1="291.30" x2="311.10" y2="323.60" stroke="#333" stroke-width="0.9" />
<rect x="296.10" y="291.30" width="42.90" height="32.30" fill="none" stroke="#222" stroke-width="1.4" />
<text x="336.60" y="297.50" font-size="6.1" text-anchor="end" fill="#666" >23.4</text>
<text x="336.60" y="308.00" font-size="6.1" text-anchor="end" fill="#5566aa" >51.9</text>
<text x="336.60" y="318.50" font-size="6.1" text-anchor="end" fill="#86bd66" >39.9</text>
<rect x="341.70" y="291.30" width="43.20" height="32.30" fill="#fff" stroke="none" stroke-width="1" />
<path d="M342.50 302.20 L342.50 302.20 L342.85 302.20 L343.19 302.20 L343.54 302.19 L343.89 302.19 L344.23 302.17 L344.58 302.15 L344.93 302.09 L345.27 302.00 L345.62 301.84 L345.97 301.59 L346.31 301.20 L346.66 300.65 L347.01 299.91 L347.35 298.98 L347.70 297.88 L348.05 296.69 L348.39 295.51 L348.74 294.46 L349.09 293.67 L349.43 293.25 L349.78 293.25 L350.13 293.63 L350.47 294.34 L350.82 295.29 L351.17 296.37 L351.51 297.49 L351.86 298.56 L352.21 299.50 L352.55 300.28 L352.90 300.89 L353.25 301.35 L353.59 301.67 L353.94 301.88 L354.29 302.02 L354.63 302.10 L354.98 302.15 L355.33 302.17 L355.67 302.19 L356.02 302.19 L356.37 302.20 L356.71 302.20 L357.06 302.20 L357.41 302.20 L357.75 302.20 L358.10 302.20 L358.45 302.20 L358.79 302.20 L359.14 302.20 L359.49 302.20 L359.83 302.20 L360.18 302.20 L360.53 302.20 L360.87 302.20 L361.22 302.20 L361.57 302.20 L361.91 302.20 L362.26 302.20 L362.61 302.20 L362.95 302.20 L363.30 302.20 L363.65 302.20 L363.99 302.20 L364.34 302.20 L364.69 302.20 L365.03 302.20 L365.38 302.20 L365.73 302.20 L366.07 302.20 L366.42 302.20 L366.77 302.20 L367.11 302.20 L367.46 302.20 L367.81 302.20 L368.15 302.20 L368.50 302.20 L368.85 302.20 L369.19 302.20 L369.54 302.20 L369.89 302.20 L370.23 302.20 L370.58 302.20 L370.93 302.20 L371.27 302.20 L371.62 302.20 L371.97 302.20 L372.31 302.20 L372.66 302.20 L373.01 302.20 L373.35 302.20 L373.70 302.20 L374.05 302.20 L374.39 302.20 L374.74 302.20 L375.09 302.20 L375.43 302.20 L375.78 302.20 L376.13 302.20 L376.47 302.20 L376.82 302.20 L377.17 302.20 L377.51 302.20 L377.86 302.20 L378.21 302.20 L378.55 302.20 L378.90 302.20 L379.25 302.20 L379.59 302.20 L379.94 302.20 L380.29 302.20 L380.63 302.20 L380.98 302.20 L381.33 302.20 L381.67 302.20 L382.02 302.20 L382.37 302.20 L382.71 302.20 L383.06 302.20 L383.41 302.20 L383.75 302.20 L384.10 302.20 L384.10 302.20 Z" fill="#8e8e9c"/>
<line x1="341.70" y1="302.20" x2="384.90" y2="302.20" stroke="#d4d4da" stroke-width="1.2" />
<path d="M342.50 312.60 L342.50 312.53 L342.85 312.52 L343.19 312.51 L343.54 312.50 L343.89 312.48 L344.23 312.46 L344.58 312.42 L344.93 312.37 L345.27 312.29 L345.62 312.15 L345.97 311.91 L346.31 311.55 L346.66 311.00 L347.01 310.22 L347.35 309.19 L347.70 307.93 L348.05 306.50 L348.39 305.03 L348.74 303.68 L349.09 302.64 L349.43 302.40 L349.78 302.40 L350.13 302.40 L350.47 302.40 L350.82 302.80 L351.17 303.34 L351.51 303.97 L351.86 304.66 L352.21 305.40 L352.55 306.14 L352.90 306.86 L353.25 307.55 L353.59 308.19 L353.94 308.76 L354.29 309.27 L354.63 309.70 L354.98 310.07 L355.33 310.37 L355.67 310.62 L356.02 310.82 L356.37 310.98 L356.71 311.11 L357.06 311.21 L357.41 311.29 L357.75 311.36 L358.10 311.41 L358.45 311.46 L358.79 311.51 L359.14 311.56 L359.49 311.60 L359.83 311.64 L360.18 311.69 L360.53 311.73 L360.87 311.78 L361.22 311.82 L361.57 311.87 L361.91 311.91 L362.26 311.96 L362.61 312.00 L362.95 312.04 L363.30 312.09 L363.65 312.13 L363.99 312.17 L364.34 312.20 L364.69 312.24 L365.03 312.27 L365.38 312.30 L365.73 312.33 L366.07 312.36 L366.42 312.39 L366.77 312.41 L367.11 312.43 L367.46 312.45 L367.81 312.47 L368.15 312.49 L368.50 312.50 L368.85 312.51 L369.19 312.53 L369.54 312.54 L369.89 312.54 L370.23 312.55 L370.58 312.56 L370.93 312.57 L371.27 312.57 L371.62 312.58 L371.97 312.58 L372.31 312.58 L372.66 312.59 L373.01 312.59 L373.35 312.59 L373.70 312.59 L374.05 312.59 L374.39 312.59 L374.74 312.60 L375.09 312.60 L375.43 312.60 L375.78 312.60 L376.13 312.60 L376.47 312.60 L376.82 312.60 L377.17 312.60 L377.51 312.60 L377.86 312.60 L378.21 312.60 L378.55 312.60 L378.90 312.60 L379.25 312.60 L379.59 312.60 L379.94 312.60 L380.29 312.60 L380.63 312.60 L380.98 312.60 L381.33 312.60 L381.67 312.60 L382.02 312.60 L382.37 312.60 L382.71 312.60 L383.06 312.60 L383.41 312.60 L383.75 312.60 L384.10 312.60 L384.10 312.60 Z" fill="#6f7db6"/>
<line x1="341.70" y1="312.60" x2="384.90" y2="312.60" stroke="#aab2d8" stroke-width="1.2" />
<path d="M342.50 323.00 L342.50 322.96 L342.85 322.94 L343.19 322.92 L343.54 322.88 L343.89 322.84 L344.23 322.77 L344.58 322.69 L344.93 322.58 L345.27 322.43 L345.62 322.25 L345.97 322.03 L346.31 321.76 L346.66 321.43 L347.01 321.04 L347.35 320.60 L347.70 320.09 L348.05 319.53 L348.39 318.91 L348.74 318.26 L349.09 317.58 L349.43 316.89 L349.78 316.20 L350.13 315.55 L350.47 314.95 L350.82 314.42 L351.17 313.99 L351.51 313.66 L351.86 313.47 L352.21 313.40 L352.55 313.44 L352.90 313.54 L353.25 313.72 L353.59 313.96 L353.94 314.25 L354.29 314.60 L354.63 315.00 L354.98 315.43 L355.33 315.89 L355.67 316.38 L356.02 316.87 L356.37 317.37 L356.71 317.87 L357.06 318.36 L357.41 318.83 L357.75 319.28 L358.10 319.71 L358.45 320.11 L358.79 320.48 L359.14 320.82 L359.49 321.12 L359.83 321.40 L360.18 321.65 L360.53 321.86 L360.87 322.05 L361.22 322.21 L361.57 322.35 L361.91 322.47 L362.26 322.57 L362.61 322.66 L362.95 322.73 L363.30 322.78 L363.65 322.83 L363.99 322.87 L364.34 322.90 L364.69 322.92 L365.03 322.94 L365.38 322.95 L365.73 322.97 L366.07 322.97 L366.42 322.98 L366.77 322.99 L367.11 322.99 L367.46 322.99 L367.81 322.99 L368.15 323.00 L368.50 323.00 L368.85 323.00 L369.19 323.00 L369.54 323.00 L369.89 323.00 L370.23 323.00 L370.58 323.00 L370.93 323.00 L371.27 323.00 L371.62 323.00 L371.97 323.00 L372.31 323.00 L372.66 323.00 L373.01 323.00 L373.35 323.00 L373.70 323.00 L374.05 323.00 L374.39 323.00 L374.74 323.00 L375.09 323.00 L375.43 323.00 L375.78 323.00 L376.13 323.00 L376.47 323.00 L376.82 323.00 L377.17 323.00 L377.51 323.00 L377.86 323.00 L378.21 323.00 L378.55 323.00 L378.90 323.00 L379.25 323.00 L379.59 323.00 L379.94 323.00 L380.29 323.00 L380.63 323.00 L380.98 323.00 L381.33 323.00 L381.67 323.00 L382.02 323.00 L382.37 323.00 L382.71 323.00 L383.06 323.00 L383.41 323.00 L383.75 323.00 L384.10 323.00 L384.10 323.00 Z" fill="#95c978"/>
<line x1="353.60" y1="291.30" x2="353.60" y2="323.60" stroke="#333" stroke-width="0.9" />
<rect x="341.70" y="291.30" width="43.20" height="32.30" fill="none" stroke="#222" stroke-width="1.4" />
<text x="382.50" y="297.50" font-size="6.1" text-anchor="end" fill="#666" >6.0</text>
<text x="382.50" y="308.00" font-size="6.1" text-anchor="end" fill="#5566aa" >19.8</text>
<text x="382.50" y="318.50" font-size="6.1" text-anchor="end" fill="#86bd66" >45.5</text>
<text x="224.20" y="333.40" font-size="6.8" text-anchor="middle" fill="#333" >IFNγ</text>
<text x="271.50" y="333.40" font-size="6.8" text-anchor="middle" fill="#333" >IL-2</text>
<text x="317.50" y="333.40" font-size="6.8" text-anchor="middle" fill="#333" >TNFα</text>
<text x="362.50" y="333.40" font-size="6.8" text-anchor="middle" fill="#333" >GzmB</text>
<text x="388.00" y="299.80" font-size="7.0" text-anchor="start" fill="#666" textLength="13.2" lengthAdjust="spacingAndGlyphs" >Host</text>
<text x="388.00" y="310.20" font-size="7.0" text-anchor="start" fill="#3d5a9e" textLength="29.7" lengthAdjust="spacingAndGlyphs" >KO CAR-T</text>
<text x="388.00" y="320.50" font-size="7.0" text-anchor="start" fill="#6cb04a" textLength="34" lengthAdjust="spacingAndGlyphs" >DKO CAR-T</text>
<line x1="219.90" y1="357.40" x2="219.90" y2="428.00" stroke="#000" stroke-width="1.3" />
<line x1="219.30" y1="427.40" x2="288.50" y2="427.40" stroke="#000" stroke-width="1.3" />
<line x1="217.70" y1="427.40" x2="219.90" y2="427.40" stroke="#000" stroke-width="0.9" />
<text x="214.30" y="429.90" font-size="7.3" text-anchor="end" fill="#333" >0</text>
<line x1="217.70" y1="413.60" x2="219.90" y2="413.60" stroke="#000" stroke-width="0.9" />
<text x="214.30" y="416.10" font-size="7.3" text-anchor="end" fill="#333" >20</text>
<line x1="217.70" y1="399.80" x2="219.90" y2="399.80" stroke="#000" stroke-width="0.9" />
<text x="214.30" y="402.30" font-size="7.3" text-anchor="end" fill="#333" >40</text>
<line x1="217.70" y1="386.00" x2="219.90" y2="386.00" stroke="#000" stroke-width="0.9" />
<text x="214.30" y="388.50" font-size="7.3" text-anchor="end" fill="#333" >60</text>
<line x1="217.70" y1="372.20" x2="219.90" y2="372.20" stroke="#000" stroke-width="0.9" />
<text x="214.30" y="374.70" font-size="7.3" text-anchor="end" fill="#333" >80</text>
<line x1="217.70" y1="358.40" x2="219.90" y2="358.40" stroke="#000" stroke-width="0.9" />
<text x="214.30" y="360.90" font-size="7.3" text-anchor="end" fill="#333" >100</text>
<line x1="227.90" y1="427.40" x2="227.90" y2="429.60" stroke="#000" stroke-width="0.9" />
<line x1="244.80" y1="427.40" x2="244.80" y2="429.60" stroke="#000" stroke-width="0.9" />
<line x1="262.40" y1="427.40" x2="262.40" y2="429.60" stroke="#000" stroke-width="0.9" />
<line x1="280.40" y1="427.40" x2="280.40" y2="429.60" stroke="#000" stroke-width="0.9" />
<rect x="222.50" y="369.44" width="4.30" height="57.96" fill="#294a8c" stroke="none" stroke-width="1" />
<line x1="224.65" y1="367.71" x2="224.65" y2="370.44" stroke="#000" stroke-width="1" />
<line x1="223.25" y1="367.71" x2="226.05" y2="367.71" stroke="#000" stroke-width="1" />
<rect x="239.60" y="381.17" width="4.10" height="46.23" fill="#294a8c" stroke="none" stroke-width="1" />
<line x1="241.65" y1="379.79" x2="241.65" y2="382.17" stroke="#000" stroke-width="1" />
<line x1="240.25" y1="379.79" x2="243.05" y2="379.79" stroke="#000" stroke-width="1" />
<rect x="257.00" y="390.14" width="4.10" height="37.26" fill="#294a8c" stroke="none" stroke-width="1" />
<line x1="259.05" y1="388.76" x2="259.05" y2="391.14" stroke="#000" stroke-width="1" />
<line x1="257.65" y1="388.76" x2="260.45" y2="388.76" stroke="#000" stroke-width="1" />
<rect x="274.40" y="412.22" width="3.80" height="15.18" fill="#294a8c" stroke="none" stroke-width="1" />
<line x1="276.30" y1="411.53" x2="276.30" y2="413.22" stroke="#000" stroke-width="1" />
<line x1="274.90" y1="411.53" x2="277.70" y2="411.53" stroke="#000" stroke-width="1" />
<rect x="228.80" y="359.78" width="4.20" height="67.62" fill="#6aaf45" stroke="none" stroke-width="1" />
<line x1="230.90" y1="359.09" x2="230.90" y2="360.78" stroke="#000" stroke-width="1" />
<line x1="229.50" y1="359.09" x2="232.30" y2="359.09" stroke="#000" stroke-width="1" />
<rect x="245.90" y="402.56" width="4.20" height="24.84" fill="#6aaf45" stroke="none" stroke-width="1" />
<line x1="248.00" y1="399.80" x2="248.00" y2="403.56" stroke="#000" stroke-width="1" />
<line x1="246.60" y1="399.80" x2="249.40" y2="399.80" stroke="#000" stroke-width="1" />
<rect x="263.40" y="399.80" width="4.20" height="27.60" fill="#6aaf45" stroke="none" stroke-width="1" />
<line x1="265.50" y1="398.76" x2="265.50" y2="400.80" stroke="#000" stroke-width="1" />
<line x1="264.10" y1="398.76" x2="266.90" y2="398.76" stroke="#000" stroke-width="1" />
<rect x="280.30" y="395.66" width="4.20" height="31.74" fill="#6aaf45" stroke="none" stroke-width="1" />
<line x1="282.40" y1="394.97" x2="282.40" y2="396.66" stroke="#000" stroke-width="1" />
<line x1="281.00" y1="394.97" x2="283.80" y2="394.97" stroke="#000" stroke-width="1" />
<line x1="223.00" y1="356.30" x2="233.00" y2="356.30" stroke="#444" stroke-width="1.2" />
<circle cx="226.85" cy="353.40" r="0.72" fill="#333" stroke="none" stroke-width="1"/>
<circle cx="229.15" cy="353.40" r="0.72" fill="#333" stroke="none" stroke-width="1"/>
<line x1="239.80" y1="376.60" x2="250.00" y2="376.60" stroke="#444" stroke-width="1.2" />
<circle cx="242.60" cy="373.70" r="0.72" fill="#333" stroke="none" stroke-width="1"/>
<circle cx="244.90" cy="373.70" r="0.72" fill="#333" stroke="none" stroke-width="1"/>
<circle cx="247.20" cy="373.70" r="0.72" fill="#333" stroke="none" stroke-width="1"/>
<line x1="257.20" y1="384.80" x2="268.00" y2="384.80" stroke="#444" stroke-width="1.2" />
<circle cx="259.15" cy="381.90" r="0.72" fill="#333" stroke="none" stroke-width="1"/>
<circle cx="261.45" cy="381.90" r="0.72" fill="#333" stroke="none" stroke-width="1"/>
<circle cx="263.75" cy="381.90" r="0.72" fill="#333" stroke="none" stroke-width="1"/>
<circle cx="266.05" cy="381.90" r="0.72" fill="#333" stroke="none" stroke-width="1"/>
<line x1="274.40" y1="392.30" x2="284.80" y2="392.30" stroke="#444" stroke-width="1.2" />
<circle cx="278.45" cy="389.40" r="0.72" fill="#333" stroke="none" stroke-width="1"/>
<circle cx="280.75" cy="389.40" r="0.72" fill="#333" stroke="none" stroke-width="1"/>
<line x1="309.40" y1="357.40" x2="309.40" y2="428.00" stroke="#000" stroke-width="1.3" />
<line x1="308.80" y1="427.40" x2="377.60" y2="427.40" stroke="#000" stroke-width="1.3" />
<line x1="307.20" y1="427.40" x2="309.40" y2="427.40" stroke="#000" stroke-width="0.9" />
<text x="303.80" y="429.90" font-size="7.3" text-anchor="end" fill="#333" >0</text>
<line x1="307.20" y1="413.60" x2="309.40" y2="413.60" stroke="#000" stroke-width="0.9" />
<text x="303.80" y="416.10" font-size="7.3" text-anchor="end" fill="#333" >20</text>
<line x1="307.20" y1="399.80" x2="309.40" y2="399.80" stroke="#000" stroke-width="0.9" />
<text x="303.80" y="402.30" font-size="7.3" text-anchor="end" fill="#333" >40</text>
<line x1="307.20" y1="386.00" x2="309.40" y2="386.00" stroke="#000" stroke-width="0.9" />
<text x="303.80" y="388.50" font-size="7.3" text-anchor="end" fill="#333" >60</text>
<line x1="307.20" y1="372.20" x2="309.40" y2="372.20" stroke="#000" stroke-width="0.9" />
<text x="303.80" y="374.70" font-size="7.3" text-anchor="end" fill="#333" >80</text>
<line x1="307.20" y1="358.40" x2="309.40" y2="358.40" stroke="#000" stroke-width="0.9" />
<text x="303.80" y="360.90" font-size="7.3" text-anchor="end" fill="#333" >100</text>
<line x1="316.50" y1="427.40" x2="316.50" y2="429.60" stroke="#000" stroke-width="0.9" />
<line x1="334.00" y1="427.40" x2="334.00" y2="429.60" stroke="#000" stroke-width="0.9" />
<line x1="351.40" y1="427.40" x2="351.40" y2="429.60" stroke="#000" stroke-width="0.9" />
<line x1="368.50" y1="427.40" x2="368.50" y2="429.60" stroke="#000" stroke-width="0.9" />
<rect x="311.30" y="369.44" width="4.20" height="57.96" fill="#294a8c" stroke="none" stroke-width="1" />
<line x1="313.40" y1="368.40" x2="313.40" y2="370.44" stroke="#000" stroke-width="1" />
<line x1="312.00" y1="368.40" x2="314.80" y2="368.40" stroke="#000" stroke-width="1" />
<rect x="328.70" y="376.34" width="4.10" height="51.06" fill="#294a8c" stroke="none" stroke-width="1" />
<line x1="330.75" y1="374.62" x2="330.75" y2="377.34" stroke="#000" stroke-width="1" />
<line x1="329.35" y1="374.62" x2="332.15" y2="374.62" stroke="#000" stroke-width="1" />
<rect x="346.20" y="390.83" width="4.00" height="36.57" fill="#294a8c" stroke="none" stroke-width="1" />
<line x1="348.20" y1="389.45" x2="348.20" y2="391.83" stroke="#000" stroke-width="1" />
<line x1="346.80" y1="389.45" x2="349.60" y2="389.45" stroke="#000" stroke-width="1" />
<rect x="362.90" y="414.29" width="4.20" height="13.11" fill="#294a8c" stroke="none" stroke-width="1" />
<line x1="365.00" y1="413.60" x2="365.00" y2="415.29" stroke="#000" stroke-width="1" />
<line x1="363.60" y1="413.60" x2="366.40" y2="413.60" stroke="#000" stroke-width="1" />
<rect x="317.60" y="358.40" width="4.20" height="69.00" fill="#6aaf45" stroke="none" stroke-width="1" />
<line x1="319.70" y1="357.71" x2="319.70" y2="359.40" stroke="#000" stroke-width="1" />
<line x1="318.30" y1="357.71" x2="321.10" y2="357.71" stroke="#000" stroke-width="1" />
<rect x="335.00" y="404.63" width="4.20" height="22.77" fill="#6aaf45" stroke="none" stroke-width="1" />
<line x1="337.10" y1="403.59" x2="337.10" y2="405.63" stroke="#000" stroke-width="1" />
<line x1="335.70" y1="403.59" x2="338.50" y2="403.59" stroke="#000" stroke-width="1" />
<rect x="352.40" y="400.49" width="4.20" height="26.91" fill="#6aaf45" stroke="none" stroke-width="1" />
<line x1="354.50" y1="398.42" x2="354.50" y2="401.49" stroke="#000" stroke-width="1" />
<line x1="353.10" y1="398.42" x2="355.90" y2="398.42" stroke="#000" stroke-width="1" />
<rect x="369.90" y="399.80" width="4.20" height="27.60" fill="#6aaf45" stroke="none" stroke-width="1" />
<line x1="372.00" y1="398.76" x2="372.00" y2="400.80" stroke="#000" stroke-width="1" />
<line x1="370.60" y1="398.76" x2="373.40" y2="398.76" stroke="#000" stroke-width="1" />
<line x1="312.00" y1="356.30" x2="322.00" y2="356.30" stroke="#444" stroke-width="1.2" />
<circle cx="314.70" cy="353.40" r="0.72" fill="#333" stroke="none" stroke-width="1"/>
<circle cx="317.00" cy="353.40" r="0.72" fill="#333" stroke="none" stroke-width="1"/>
<circle cx="319.30" cy="353.40" r="0.72" fill="#333" stroke="none" stroke-width="1"/>
<line x1="329.00" y1="372.60" x2="339.50" y2="372.60" stroke="#444" stroke-width="1.2" />
<circle cx="331.95" cy="369.70" r="0.72" fill="#333" stroke="none" stroke-width="1"/>
<circle cx="334.25" cy="369.70" r="0.72" fill="#333" stroke="none" stroke-width="1"/>
<circle cx="336.55" cy="369.70" r="0.72" fill="#333" stroke="none" stroke-width="1"/>
<line x1="346.00" y1="385.10" x2="357.00" y2="385.10" stroke="#444" stroke-width="1.2" />
<circle cx="350.35" cy="382.20" r="0.72" fill="#333" stroke="none" stroke-width="1"/>
<circle cx="352.65" cy="382.20" r="0.72" fill="#333" stroke="none" stroke-width="1"/>
<line x1="363.00" y1="392.30" x2="374.00" y2="392.30" stroke="#444" stroke-width="1.2" />
<circle cx="366.20" cy="389.40" r="0.72" fill="#333" stroke="none" stroke-width="1"/>
<circle cx="368.50" cy="389.40" r="0.72" fill="#333" stroke="none" stroke-width="1"/>
<circle cx="370.80" cy="389.40" r="0.72" fill="#333" stroke="none" stroke-width="1"/>
<text x="254.00" y="347.60" font-size="9.6" text-anchor="middle" fill="#222" textLength="26.5" lengthAdjust="spacingAndGlyphs" >Spleen</text>
<text x="342.70" y="347.60" font-size="9.6" text-anchor="middle" fill="#222" textLength="50.7" lengthAdjust="spacingAndGlyphs" >Bone marrow</text>
<text x="198.40" y="391.60" font-size="9.2" text-anchor="middle" fill="#222" textLength="47" lengthAdjust="spacingAndGlyphs" transform="rotate(-90 198.40 391.60)" >% of CAR-T cells</text>
<text x="229.50" y="433.80" font-size="6.8" text-anchor="end" fill="#333" transform="rotate(-45 229.50 433.80)" >IFNγ</text>
<text x="246.30" y="433.80" font-size="6.8" text-anchor="end" fill="#333" transform="rotate(-45 246.30 433.80)" >IL-2</text>
<text x="264.00" y="433.80" font-size="6.8" text-anchor="end" fill="#333" transform="rotate(-45 264.00 433.80)" >TNFα</text>
<text x="282.00" y="433.80" font-size="6.8" text-anchor="end" fill="#333" transform="rotate(-45 282.00 433.80)" >GzmB</text>
<text x="318.00" y="433.80" font-size="6.8" text-anchor="end" fill="#333" transform="rotate(-45 318.00 433.80)" >IFNγ</text>
<text x="335.50" y="433.80" font-size="6.8" text-anchor="end" fill="#333" transform="rotate(-45 335.50 433.80)" >IL-2</text>
<text x="353.00" y="433.80" font-size="6.8" text-anchor="end" fill="#333" transform="rotate(-45 353.00 433.80)" >TNFα</text>
<text x="370.00" y="433.80" font-size="6.8" text-anchor="end" fill="#333" transform="rotate(-45 370.00 433.80)" >GzmB</text>
<rect x="219.20" y="451.70" width="6.80" height="5.20" fill="#294a8c" stroke="none" stroke-width="1" />
<rect x="219.20" y="460.40" width="6.80" height="5.20" fill="#6aaf45" stroke="none" stroke-width="1" />
<text x="228.80" y="456.60" font-size="6.4" text-anchor="start" fill="#333" textLength="26" lengthAdjust="spacingAndGlyphs" >KO CAR-T</text>
<text x="228.80" y="465.30" font-size="6.4" text-anchor="start" fill="#333" textLength="31" lengthAdjust="spacingAndGlyphs" >DKO CAR-T</text>
<rect x="0.55" y="0.55" width="518.90" height="471.80" fill="none" stroke="#000" stroke-width="1.3" />
</svg></body></html>
